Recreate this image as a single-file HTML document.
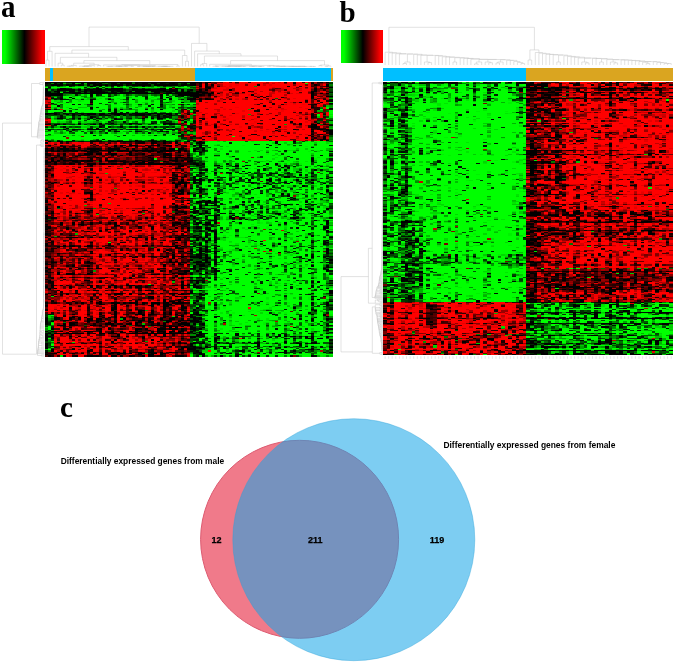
<!DOCTYPE html>
<html><head><meta charset="utf-8"><title>Figure</title>
<style>
html,body{margin:0;padding:0;background:#fff}
body{width:675px;height:665px;overflow:hidden;position:relative}
.lab{position:absolute;font-family:"Liberation Serif",serif;font-weight:bold;font-size:29px;line-height:29px;color:#000}
.cb{position:absolute;background:linear-gradient(to right,#00ff00 0%,#00ff00 7%,#000 52%,#ff0000 94%,#ff0000 100%)}
.bar{position:absolute}
.hm{position:absolute}
canvas{position:absolute;filter:blur(0.45px)}
svg{position:absolute;left:0;top:0}
.t{font-family:"Liberation Sans",sans-serif;font-weight:bold}
</style></head><body>
<div class="lab" style="left:1px;top:-9.3px;transform:scaleY(1.1);transform-origin:0 0">a</div>
<div class="lab" style="left:339.5px;top:-2px">b</div>
<div class="lab" style="left:60px;top:392.5px">c</div>
<div class="cb" style="left:2px;top:30px;width:42.5px;height:33.7px"></div>
<div class="cb" style="left:340.6px;top:29.7px;width:42.3px;height:33.4px"></div>
<div class="bar" style="left:44.7px;top:67.9px;width:150.5px;height:13.3px;background:#daa520"></div>
<div class="bar" style="left:49.6px;top:67.9px;width:3.6px;height:13.3px;background:#00bfff"></div>
<div class="bar" style="left:195.2px;top:67.9px;width:135.4px;height:13.3px;background:#00bfff"></div>
<div class="bar" style="left:330.6px;top:67.9px;width:2px;height:13.3px;background:#daa520"></div>
<div class="bar" style="left:383.4px;top:67.7px;width:143px;height:13.3px;background:#00bfff"></div>
<div class="bar" style="left:526.4px;top:67.7px;width:146.5px;height:13.3px;background:#daa520"></div>
<svg id="fb" width="675" height="665" viewBox="0 0 675 665" shape-rendering="crispEdges"><path fill="#050" d="M44.5 82.0h12.5v6.6h-12.5zM80.9 82.0h12.5v6.6h-12.5zM117.3 82.0h12.5v6.6h-12.5zM177.9 82.0h12.5v6.6h-12.5zM177.9 94.3h12.5v6.6h-12.5zM190.0 143.6h12.5v6.6h-12.5zM190.0 180.5h12.5v6.6h-12.5zM190.0 217.5h12.5v6.6h-12.5zM190.0 229.8h12.5v6.6h-12.5zM190.0 242.1h12.5v6.6h-12.5zM190.0 248.2h12.5v6.6h-12.5zM323.4 248.2h9.5v6.6h-9.5zM202.1 254.4h12.5v6.6h-12.5zM202.1 260.6h12.5v6.6h-12.5zM202.1 266.7h12.5v6.6h-12.5zM190.0 272.9h12.5v6.6h-12.5zM190.0 291.3h12.5v6.6h-12.5z"/><path fill="#060" d="M56.6 82.0h12.5v6.6h-12.5zM68.8 82.0h12.5v6.6h-12.5zM56.6 94.3h12.5v6.6h-12.5zM165.8 118.9h12.5v6.6h-12.5zM190.0 155.9h12.5v6.6h-12.5zM190.0 186.7h12.5v6.6h-12.5zM202.1 205.1h12.5v6.6h-12.5zM190.0 211.3h12.5v6.6h-12.5zM190.0 223.6h12.5v6.6h-12.5zM202.1 229.8h12.5v6.6h-12.5zM202.1 248.2h12.5v6.6h-12.5zM323.4 260.6h9.5v6.6h-9.5zM323.4 266.7h9.5v6.6h-9.5zM190.0 285.2h12.5v6.6h-12.5zM323.4 316.0h9.5v6.6h-9.5zM323.4 328.3h9.5v6.6h-9.5zM214.3 340.6h12.5v6.6h-12.5zM323.4 346.7h9.5v6.6h-9.5zM190.0 352.9h12.5v4.1h-12.5z"/><path fill="#040" d="M93.0 82.0h12.5v6.6h-12.5zM105.1 82.0h12.5v6.6h-12.5zM129.4 82.0h12.5v6.6h-12.5zM141.5 82.0h12.5v6.6h-12.5zM153.6 82.0h12.5v6.6h-12.5zM165.8 82.0h12.5v6.6h-12.5zM56.6 112.8h12.5v6.6h-12.5zM80.9 112.8h12.5v6.6h-12.5zM105.1 112.8h12.5v6.6h-12.5zM117.3 112.8h12.5v6.6h-12.5zM165.8 112.8h12.5v6.6h-12.5zM190.0 162.0h12.5v6.6h-12.5zM190.0 174.4h12.5v6.6h-12.5zM202.1 223.6h12.5v6.6h-12.5zM190.0 235.9h12.5v6.6h-12.5zM190.0 266.7h12.5v6.6h-12.5zM190.0 279.0h12.5v6.6h-12.5zM190.0 303.7h12.5v6.6h-12.5zM323.4 303.7h9.5v6.6h-9.5zM190.0 334.4h12.5v6.6h-12.5zM190.0 340.6h12.5v6.6h-12.5z"/><path fill="#210" d="M190.0 82.0h12.5v6.6h-12.5z"/><path fill="#500" d="M202.1 82.0h12.5v6.6h-12.5zM311.3 82.0h12.5v6.6h-12.5zM311.3 88.2h12.5v6.6h-12.5zM202.1 94.3h12.5v6.6h-12.5zM311.3 125.1h12.5v6.6h-12.5zM141.5 143.6h12.5v6.6h-12.5zM68.8 149.7h12.5v6.6h-12.5zM117.3 149.7h12.5v6.6h-12.5zM105.1 155.9h12.5v6.6h-12.5zM117.3 155.9h12.5v6.6h-12.5zM129.4 155.9h12.5v6.6h-12.5zM177.9 186.7h12.5v6.6h-12.5zM177.9 248.2h12.5v6.6h-12.5zM177.9 254.4h12.5v6.6h-12.5zM80.9 260.6h12.5v6.6h-12.5zM177.9 260.6h12.5v6.6h-12.5zM177.9 272.9h12.5v6.6h-12.5zM44.5 285.2h12.5v6.6h-12.5zM141.5 309.8h12.5v6.6h-12.5zM68.8 316.0h12.5v6.6h-12.5zM93.0 316.0h12.5v6.6h-12.5zM105.1 316.0h12.5v6.6h-12.5zM129.4 316.0h12.5v6.6h-12.5zM177.9 316.0h12.5v6.6h-12.5zM68.8 322.1h12.5v6.6h-12.5zM93.0 322.1h12.5v6.6h-12.5zM105.1 322.1h12.5v6.6h-12.5zM177.9 322.1h12.5v6.6h-12.5zM105.1 328.3h12.5v6.6h-12.5zM165.8 328.3h12.5v6.6h-12.5zM177.9 340.6h12.5v6.6h-12.5zM129.4 352.9h12.5v4.1h-12.5zM153.6 352.9h12.5v4.1h-12.5z"/><path fill="#b00" d="M214.3 82.0h12.5v6.6h-12.5zM226.4 88.2h12.5v6.6h-12.5zM250.6 94.3h12.5v6.6h-12.5zM141.5 180.5h12.5v6.6h-12.5zM80.9 199.0h12.5v6.6h-12.5zM141.5 205.1h12.5v6.6h-12.5zM117.3 211.3h12.5v6.6h-12.5zM93.0 229.8h12.5v6.6h-12.5zM141.5 229.8h12.5v6.6h-12.5zM105.1 235.9h12.5v6.6h-12.5zM117.3 235.9h12.5v6.6h-12.5zM153.6 235.9h12.5v6.6h-12.5zM93.0 242.1h12.5v6.6h-12.5zM129.4 242.1h12.5v6.6h-12.5zM153.6 248.2h12.5v6.6h-12.5zM93.0 254.4h12.5v6.6h-12.5zM117.3 254.4h12.5v6.6h-12.5zM93.0 260.6h12.5v6.6h-12.5zM105.1 260.6h12.5v6.6h-12.5zM93.0 266.7h12.5v6.6h-12.5zM105.1 266.7h12.5v6.6h-12.5zM117.3 266.7h12.5v6.6h-12.5zM56.6 285.2h12.5v6.6h-12.5zM80.9 291.3h12.5v6.6h-12.5zM56.6 297.5h12.5v6.6h-12.5zM44.5 303.7h12.5v6.6h-12.5zM80.9 303.7h12.5v6.6h-12.5zM56.6 309.8h12.5v6.6h-12.5zM56.6 340.6h12.5v6.6h-12.5zM80.9 340.6h12.5v6.6h-12.5zM141.5 340.6h12.5v6.6h-12.5zM68.8 346.7h12.5v6.6h-12.5z"/><path fill="#d00" d="M226.4 82.0h12.5v6.6h-12.5zM250.6 82.0h12.5v6.6h-12.5zM214.3 88.2h12.5v6.6h-12.5zM238.5 88.2h12.5v6.6h-12.5zM262.8 88.2h12.5v6.6h-12.5zM287.0 88.2h12.5v6.6h-12.5zM299.2 88.2h12.5v6.6h-12.5zM214.3 94.3h12.5v6.6h-12.5zM238.5 94.3h12.5v6.6h-12.5zM274.9 100.5h12.5v6.6h-12.5zM299.2 106.6h12.5v6.6h-12.5zM250.6 112.8h12.5v6.6h-12.5zM274.9 112.8h12.5v6.6h-12.5zM202.1 118.9h12.5v6.6h-12.5zM238.5 118.9h12.5v6.6h-12.5zM250.6 118.9h12.5v6.6h-12.5zM299.2 118.9h12.5v6.6h-12.5zM226.4 125.1h12.5v6.6h-12.5zM250.6 125.1h12.5v6.6h-12.5zM287.0 125.1h12.5v6.6h-12.5zM299.2 125.1h12.5v6.6h-12.5zM214.3 131.3h12.5v6.6h-12.5zM250.6 131.3h12.5v6.6h-12.5zM262.8 131.3h12.5v6.6h-12.5zM274.9 131.3h12.5v6.6h-12.5zM56.6 168.2h12.5v6.6h-12.5zM68.8 168.2h12.5v6.6h-12.5zM93.0 168.2h12.5v6.6h-12.5zM117.3 168.2h12.5v6.6h-12.5zM129.4 168.2h12.5v6.6h-12.5zM153.6 168.2h12.5v6.6h-12.5zM93.0 174.4h12.5v6.6h-12.5zM105.1 174.4h12.5v6.6h-12.5zM129.4 174.4h12.5v6.6h-12.5zM141.5 174.4h12.5v6.6h-12.5zM153.6 174.4h12.5v6.6h-12.5zM68.8 180.5h12.5v6.6h-12.5zM153.6 180.5h12.5v6.6h-12.5zM105.1 186.7h12.5v6.6h-12.5zM129.4 186.7h12.5v6.6h-12.5zM141.5 186.7h12.5v6.6h-12.5zM153.6 186.7h12.5v6.6h-12.5zM56.6 192.8h12.5v6.6h-12.5zM105.1 192.8h12.5v6.6h-12.5zM129.4 192.8h12.5v6.6h-12.5zM153.6 192.8h12.5v6.6h-12.5zM93.0 199.0h12.5v6.6h-12.5zM68.8 205.1h12.5v6.6h-12.5zM129.4 205.1h12.5v6.6h-12.5zM153.6 205.1h12.5v6.6h-12.5zM56.6 211.3h12.5v6.6h-12.5zM129.4 211.3h12.5v6.6h-12.5zM56.6 279.0h12.5v6.6h-12.5zM93.0 279.0h12.5v6.6h-12.5zM129.4 279.0h12.5v6.6h-12.5z"/><path fill="#e00" d="M238.5 82.0h12.5v6.6h-12.5zM262.8 82.0h12.5v6.6h-12.5zM274.9 82.0h12.5v6.6h-12.5zM250.6 88.2h12.5v6.6h-12.5zM287.0 94.3h12.5v6.6h-12.5zM214.3 100.5h12.5v6.6h-12.5zM226.4 100.5h12.5v6.6h-12.5zM250.6 100.5h12.5v6.6h-12.5zM287.0 100.5h12.5v6.6h-12.5zM214.3 106.6h12.5v6.6h-12.5zM238.5 106.6h12.5v6.6h-12.5zM262.8 106.6h12.5v6.6h-12.5zM274.9 106.6h12.5v6.6h-12.5zM287.0 106.6h12.5v6.6h-12.5zM226.4 112.8h12.5v6.6h-12.5zM238.5 112.8h12.5v6.6h-12.5zM262.8 112.8h12.5v6.6h-12.5zM287.0 112.8h12.5v6.6h-12.5zM226.4 118.9h12.5v6.6h-12.5zM262.8 118.9h12.5v6.6h-12.5zM238.5 125.1h12.5v6.6h-12.5zM238.5 131.3h12.5v6.6h-12.5zM287.0 131.3h12.5v6.6h-12.5zM299.2 131.3h12.5v6.6h-12.5zM141.5 168.2h12.5v6.6h-12.5zM56.6 174.4h12.5v6.6h-12.5zM68.8 174.4h12.5v6.6h-12.5zM93.0 180.5h12.5v6.6h-12.5zM117.3 180.5h12.5v6.6h-12.5zM68.8 186.7h12.5v6.6h-12.5zM93.0 186.7h12.5v6.6h-12.5zM117.3 186.7h12.5v6.6h-12.5zM68.8 192.8h12.5v6.6h-12.5zM93.0 192.8h12.5v6.6h-12.5zM117.3 192.8h12.5v6.6h-12.5zM141.5 192.8h12.5v6.6h-12.5zM56.6 199.0h12.5v6.6h-12.5zM117.3 199.0h12.5v6.6h-12.5zM141.5 199.0h12.5v6.6h-12.5zM105.1 205.1h12.5v6.6h-12.5zM117.3 205.1h12.5v6.6h-12.5zM105.1 211.3h12.5v6.6h-12.5zM56.6 303.7h12.5v6.6h-12.5z"/><path fill="#c00" d="M287.0 82.0h12.5v6.6h-12.5zM274.9 88.2h12.5v6.6h-12.5zM226.4 94.3h12.5v6.6h-12.5zM262.8 94.3h12.5v6.6h-12.5zM274.9 94.3h12.5v6.6h-12.5zM262.8 100.5h12.5v6.6h-12.5zM299.2 100.5h12.5v6.6h-12.5zM250.6 106.6h12.5v6.6h-12.5zM202.1 112.8h12.5v6.6h-12.5zM214.3 112.8h12.5v6.6h-12.5zM299.2 112.8h12.5v6.6h-12.5zM214.3 118.9h12.5v6.6h-12.5zM274.9 118.9h12.5v6.6h-12.5zM287.0 118.9h12.5v6.6h-12.5zM214.3 125.1h12.5v6.6h-12.5zM274.9 125.1h12.5v6.6h-12.5zM202.1 131.3h12.5v6.6h-12.5zM117.3 174.4h12.5v6.6h-12.5zM56.6 180.5h12.5v6.6h-12.5zM105.1 180.5h12.5v6.6h-12.5zM129.4 180.5h12.5v6.6h-12.5zM165.8 199.0h12.5v6.6h-12.5zM56.6 205.1h12.5v6.6h-12.5zM153.6 211.3h12.5v6.6h-12.5zM153.6 217.5h12.5v6.6h-12.5zM93.0 223.6h12.5v6.6h-12.5zM117.3 229.8h12.5v6.6h-12.5zM93.0 235.9h12.5v6.6h-12.5zM93.0 248.2h12.5v6.6h-12.5zM117.3 260.6h12.5v6.6h-12.5zM141.5 260.6h12.5v6.6h-12.5zM129.4 266.7h12.5v6.6h-12.5zM117.3 272.9h12.5v6.6h-12.5zM117.3 279.0h12.5v6.6h-12.5zM56.6 334.4h12.5v6.6h-12.5zM80.9 334.4h12.5v6.6h-12.5zM129.4 334.4h12.5v6.6h-12.5zM117.3 340.6h12.5v6.6h-12.5zM129.4 340.6h12.5v6.6h-12.5zM117.3 346.7h12.5v6.6h-12.5z"/><path fill="#c10" d="M299.2 82.0h12.5v6.6h-12.5zM93.0 205.1h12.5v6.6h-12.5zM93.0 211.3h12.5v6.6h-12.5z"/><path fill="#410" d="M323.4 82.0h9.5v6.6h-9.5zM323.4 88.2h9.5v6.6h-9.5zM153.6 155.9h12.5v6.6h-12.5z"/><path fill="#030" d="M44.5 88.2h12.5v6.6h-12.5zM177.9 88.2h12.5v6.6h-12.5zM68.8 112.8h12.5v6.6h-12.5zM93.0 112.8h12.5v6.6h-12.5zM129.4 112.8h12.5v6.6h-12.5zM141.5 112.8h12.5v6.6h-12.5zM323.4 254.4h9.5v6.6h-9.5zM190.0 260.6h12.5v6.6h-12.5zM190.0 309.8h12.5v6.6h-12.5zM190.0 322.1h12.5v6.6h-12.5zM190.0 328.3h12.5v6.6h-12.5z"/><path fill="#020" d="M56.6 88.2h12.5v6.6h-12.5zM68.8 88.2h12.5v6.6h-12.5zM80.9 88.2h12.5v6.6h-12.5zM117.3 88.2h12.5v6.6h-12.5zM141.5 88.2h12.5v6.6h-12.5zM153.6 112.8h12.5v6.6h-12.5z"/><path fill="#010" d="M93.0 88.2h12.5v6.6h-12.5zM105.1 88.2h12.5v6.6h-12.5zM129.4 88.2h12.5v6.6h-12.5zM153.6 88.2h12.5v6.6h-12.5zM165.8 88.2h12.5v6.6h-12.5zM190.0 254.4h12.5v6.6h-12.5zM190.0 316.0h12.5v6.6h-12.5zM190.0 346.7h12.5v6.6h-12.5z"/><path fill="#110" d="M190.0 88.2h12.5v6.6h-12.5z"/><path fill="#400" d="M202.1 88.2h12.5v6.6h-12.5zM153.6 143.6h12.5v6.6h-12.5zM44.5 149.7h12.5v6.6h-12.5zM56.6 149.7h12.5v6.6h-12.5zM93.0 149.7h12.5v6.6h-12.5zM165.8 149.7h12.5v6.6h-12.5zM177.9 149.7h12.5v6.6h-12.5zM68.8 155.9h12.5v6.6h-12.5zM80.9 155.9h12.5v6.6h-12.5zM177.9 162.0h12.5v6.6h-12.5zM177.9 180.5h12.5v6.6h-12.5zM44.5 217.5h12.5v6.6h-12.5zM177.9 217.5h12.5v6.6h-12.5zM177.9 223.6h12.5v6.6h-12.5zM177.9 235.9h12.5v6.6h-12.5zM44.5 242.1h12.5v6.6h-12.5zM44.5 248.2h12.5v6.6h-12.5zM177.9 266.7h12.5v6.6h-12.5zM141.5 316.0h12.5v6.6h-12.5zM153.6 322.1h12.5v6.6h-12.5zM165.8 322.1h12.5v6.6h-12.5zM129.4 328.3h12.5v6.6h-12.5zM141.5 328.3h12.5v6.6h-12.5zM177.9 328.3h12.5v6.6h-12.5zM117.3 352.9h12.5v4.1h-12.5z"/><path fill="#320" d="M44.5 94.3h12.5v6.6h-12.5zM311.3 106.6h12.5v6.6h-12.5zM323.4 125.1h9.5v6.6h-9.5zM44.5 334.4h12.5v6.6h-12.5z"/><path fill="#0b0" d="M68.8 94.3h12.5v6.6h-12.5zM93.0 94.3h12.5v6.6h-12.5zM117.3 94.3h12.5v6.6h-12.5zM80.9 100.5h12.5v6.6h-12.5zM117.3 106.6h12.5v6.6h-12.5zM141.5 106.6h12.5v6.6h-12.5zM93.0 131.3h12.5v6.6h-12.5zM202.1 143.6h12.5v6.6h-12.5zM202.1 149.7h12.5v6.6h-12.5zM323.4 149.7h9.5v6.6h-9.5zM311.3 155.9h12.5v6.6h-12.5zM323.4 155.9h9.5v6.6h-9.5zM311.3 162.0h12.5v6.6h-12.5zM238.5 168.2h12.5v6.6h-12.5zM323.4 168.2h9.5v6.6h-9.5zM226.4 174.4h12.5v6.6h-12.5zM238.5 180.5h12.5v6.6h-12.5zM287.0 180.5h12.5v6.6h-12.5zM202.1 186.7h12.5v6.6h-12.5zM262.8 186.7h12.5v6.6h-12.5zM287.0 186.7h12.5v6.6h-12.5zM311.3 186.7h12.5v6.6h-12.5zM202.1 192.8h12.5v6.6h-12.5zM274.9 192.8h12.5v6.6h-12.5zM311.3 192.8h12.5v6.6h-12.5zM238.5 199.0h12.5v6.6h-12.5zM250.6 199.0h12.5v6.6h-12.5zM299.2 199.0h12.5v6.6h-12.5zM311.3 199.0h12.5v6.6h-12.5zM226.4 205.1h12.5v6.6h-12.5zM238.5 205.1h12.5v6.6h-12.5zM262.8 205.1h12.5v6.6h-12.5zM274.9 205.1h12.5v6.6h-12.5zM287.0 205.1h12.5v6.6h-12.5zM311.3 205.1h12.5v6.6h-12.5zM214.3 223.6h12.5v6.6h-12.5zM311.3 223.6h12.5v6.6h-12.5zM214.3 242.1h12.5v6.6h-12.5zM311.3 242.1h12.5v6.6h-12.5zM311.3 254.4h12.5v6.6h-12.5zM226.4 260.6h12.5v6.6h-12.5zM214.3 272.9h12.5v6.6h-12.5zM202.1 291.3h12.5v6.6h-12.5zM311.3 297.5h12.5v6.6h-12.5zM311.3 316.0h12.5v6.6h-12.5zM202.1 322.1h12.5v6.6h-12.5zM250.6 334.4h12.5v6.6h-12.5zM262.8 334.4h12.5v6.6h-12.5zM262.8 340.6h12.5v6.6h-12.5zM226.4 346.7h12.5v6.6h-12.5zM323.4 352.9h9.5v4.1h-9.5z"/><path fill="#090" d="M80.9 94.3h12.5v6.6h-12.5zM153.6 94.3h12.5v6.6h-12.5zM165.8 94.3h12.5v6.6h-12.5zM105.1 106.6h12.5v6.6h-12.5zM80.9 118.9h12.5v6.6h-12.5zM129.4 118.9h12.5v6.6h-12.5zM141.5 118.9h12.5v6.6h-12.5zM153.6 118.9h12.5v6.6h-12.5zM56.6 125.1h12.5v6.6h-12.5zM117.3 125.1h12.5v6.6h-12.5zM129.4 125.1h12.5v6.6h-12.5zM226.4 162.0h12.5v6.6h-12.5zM311.3 168.2h12.5v6.6h-12.5zM274.9 174.4h12.5v6.6h-12.5zM299.2 174.4h12.5v6.6h-12.5zM311.3 174.4h12.5v6.6h-12.5zM274.9 180.5h12.5v6.6h-12.5zM299.2 180.5h12.5v6.6h-12.5zM214.3 186.7h12.5v6.6h-12.5zM214.3 192.8h12.5v6.6h-12.5zM287.0 199.0h12.5v6.6h-12.5zM250.6 211.3h12.5v6.6h-12.5zM287.0 211.3h12.5v6.6h-12.5zM311.3 211.3h12.5v6.6h-12.5zM323.4 229.8h9.5v6.6h-9.5zM214.3 235.9h12.5v6.6h-12.5zM214.3 248.2h12.5v6.6h-12.5zM323.4 272.9h9.5v6.6h-9.5zM311.3 285.2h12.5v6.6h-12.5zM311.3 303.7h12.5v6.6h-12.5zM299.2 334.4h12.5v6.6h-12.5zM311.3 334.4h12.5v6.6h-12.5zM238.5 340.6h12.5v6.6h-12.5zM299.2 340.6h12.5v6.6h-12.5zM238.5 346.7h12.5v6.6h-12.5zM214.3 352.9h12.5v4.1h-12.5z"/><path fill="#0a0" d="M105.1 94.3h12.5v6.6h-12.5zM141.5 94.3h12.5v6.6h-12.5zM153.6 100.5h12.5v6.6h-12.5zM177.9 100.5h12.5v6.6h-12.5zM153.6 106.6h12.5v6.6h-12.5zM80.9 125.1h12.5v6.6h-12.5zM153.6 131.3h12.5v6.6h-12.5zM214.3 162.0h12.5v6.6h-12.5zM274.9 162.0h12.5v6.6h-12.5zM287.0 162.0h12.5v6.6h-12.5zM202.1 168.2h12.5v6.6h-12.5zM250.6 168.2h12.5v6.6h-12.5zM262.8 168.2h12.5v6.6h-12.5zM274.9 168.2h12.5v6.6h-12.5zM287.0 168.2h12.5v6.6h-12.5zM202.1 174.4h12.5v6.6h-12.5zM214.3 174.4h12.5v6.6h-12.5zM238.5 174.4h12.5v6.6h-12.5zM262.8 174.4h12.5v6.6h-12.5zM323.4 174.4h9.5v6.6h-9.5zM226.4 180.5h12.5v6.6h-12.5zM250.6 180.5h12.5v6.6h-12.5zM311.3 180.5h12.5v6.6h-12.5zM250.6 186.7h12.5v6.6h-12.5zM274.9 186.7h12.5v6.6h-12.5zM323.4 186.7h9.5v6.6h-9.5zM238.5 192.8h12.5v6.6h-12.5zM250.6 205.1h12.5v6.6h-12.5zM226.4 211.3h12.5v6.6h-12.5zM238.5 211.3h12.5v6.6h-12.5zM262.8 211.3h12.5v6.6h-12.5zM274.9 211.3h12.5v6.6h-12.5zM226.4 217.5h12.5v6.6h-12.5zM238.5 217.5h12.5v6.6h-12.5zM287.0 217.5h12.5v6.6h-12.5zM214.3 229.8h12.5v6.6h-12.5zM287.0 248.2h12.5v6.6h-12.5zM299.2 254.4h12.5v6.6h-12.5zM214.3 260.6h12.5v6.6h-12.5zM214.3 266.7h12.5v6.6h-12.5zM202.1 279.0h12.5v6.6h-12.5zM323.4 285.2h9.5v6.6h-9.5zM214.3 303.7h12.5v6.6h-12.5zM202.1 309.8h12.5v6.6h-12.5zM311.3 309.8h12.5v6.6h-12.5zM214.3 316.0h12.5v6.6h-12.5zM202.1 334.4h12.5v6.6h-12.5zM226.4 334.4h12.5v6.6h-12.5zM323.4 334.4h9.5v6.6h-9.5zM274.9 340.6h12.5v6.6h-12.5zM287.0 340.6h12.5v6.6h-12.5zM202.1 352.9h12.5v4.1h-12.5zM238.5 352.9h12.5v4.1h-12.5zM311.3 352.9h12.5v4.1h-12.5z"/><path fill="#0c0" d="M129.4 94.3h12.5v6.6h-12.5zM56.6 100.5h12.5v6.6h-12.5zM105.1 100.5h12.5v6.6h-12.5zM117.3 100.5h12.5v6.6h-12.5zM141.5 100.5h12.5v6.6h-12.5zM68.8 106.6h12.5v6.6h-12.5zM80.9 106.6h12.5v6.6h-12.5zM129.4 106.6h12.5v6.6h-12.5zM68.8 131.3h12.5v6.6h-12.5zM80.9 131.3h12.5v6.6h-12.5zM105.1 131.3h12.5v6.6h-12.5zM117.3 131.3h12.5v6.6h-12.5zM129.4 131.3h12.5v6.6h-12.5zM141.5 131.3h12.5v6.6h-12.5zM165.8 131.3h12.5v6.6h-12.5zM274.9 149.7h12.5v6.6h-12.5zM226.4 155.9h12.5v6.6h-12.5zM250.6 155.9h12.5v6.6h-12.5zM202.1 162.0h12.5v6.6h-12.5zM238.5 162.0h12.5v6.6h-12.5zM323.4 162.0h9.5v6.6h-9.5zM299.2 168.2h12.5v6.6h-12.5zM238.5 186.7h12.5v6.6h-12.5zM262.8 192.8h12.5v6.6h-12.5zM299.2 192.8h12.5v6.6h-12.5zM262.8 199.0h12.5v6.6h-12.5zM274.9 199.0h12.5v6.6h-12.5zM323.4 199.0h9.5v6.6h-9.5zM250.6 217.5h12.5v6.6h-12.5zM262.8 217.5h12.5v6.6h-12.5zM311.3 217.5h12.5v6.6h-12.5zM274.9 223.6h12.5v6.6h-12.5zM274.9 235.9h12.5v6.6h-12.5zM311.3 235.9h12.5v6.6h-12.5zM262.8 242.1h12.5v6.6h-12.5zM274.9 242.1h12.5v6.6h-12.5zM299.2 242.1h12.5v6.6h-12.5zM311.3 248.2h12.5v6.6h-12.5zM250.6 254.4h12.5v6.6h-12.5zM262.8 260.6h12.5v6.6h-12.5zM274.9 260.6h12.5v6.6h-12.5zM287.0 260.6h12.5v6.6h-12.5zM311.3 260.6h12.5v6.6h-12.5zM226.4 266.7h12.5v6.6h-12.5zM274.9 266.7h12.5v6.6h-12.5zM299.2 266.7h12.5v6.6h-12.5zM311.3 266.7h12.5v6.6h-12.5zM250.6 272.9h12.5v6.6h-12.5zM287.0 272.9h12.5v6.6h-12.5zM250.6 279.0h12.5v6.6h-12.5zM299.2 279.0h12.5v6.6h-12.5zM311.3 279.0h12.5v6.6h-12.5zM202.1 285.2h12.5v6.6h-12.5zM214.3 285.2h12.5v6.6h-12.5zM274.9 285.2h12.5v6.6h-12.5zM214.3 291.3h12.5v6.6h-12.5zM226.4 291.3h12.5v6.6h-12.5zM311.3 291.3h12.5v6.6h-12.5zM214.3 297.5h12.5v6.6h-12.5zM202.1 303.7h12.5v6.6h-12.5zM287.0 303.7h12.5v6.6h-12.5zM262.8 309.8h12.5v6.6h-12.5zM299.2 309.8h12.5v6.6h-12.5zM299.2 316.0h12.5v6.6h-12.5zM274.9 322.1h12.5v6.6h-12.5zM311.3 322.1h12.5v6.6h-12.5zM202.1 328.3h12.5v6.6h-12.5zM214.3 328.3h12.5v6.6h-12.5zM274.9 328.3h12.5v6.6h-12.5zM287.0 328.3h12.5v6.6h-12.5zM299.2 328.3h12.5v6.6h-12.5zM311.3 328.3h12.5v6.6h-12.5zM262.8 346.7h12.5v6.6h-12.5zM250.6 352.9h12.5v4.1h-12.5zM262.8 352.9h12.5v4.1h-12.5zM274.9 352.9h12.5v4.1h-12.5z"/><path fill="#100" d="M190.0 94.3h12.5v6.6h-12.5z"/><path fill="#f00" d="M299.2 94.3h12.5v6.6h-12.5zM202.1 100.5h12.5v6.6h-12.5zM238.5 100.5h12.5v6.6h-12.5zM202.1 106.6h12.5v6.6h-12.5zM226.4 106.6h12.5v6.6h-12.5zM202.1 125.1h12.5v6.6h-12.5zM262.8 125.1h12.5v6.6h-12.5zM56.6 186.7h12.5v6.6h-12.5zM68.8 199.0h12.5v6.6h-12.5zM129.4 199.0h12.5v6.6h-12.5zM153.6 199.0h12.5v6.6h-12.5z"/><path fill="#700" d="M311.3 94.3h12.5v6.6h-12.5zM190.0 125.1h12.5v6.6h-12.5zM44.5 143.6h12.5v6.6h-12.5zM68.8 143.6h12.5v6.6h-12.5zM93.0 143.6h12.5v6.6h-12.5zM117.3 143.6h12.5v6.6h-12.5zM177.9 143.6h12.5v6.6h-12.5zM80.9 162.0h12.5v6.6h-12.5zM165.8 162.0h12.5v6.6h-12.5zM44.5 168.2h12.5v6.6h-12.5zM165.8 174.4h12.5v6.6h-12.5zM177.9 174.4h12.5v6.6h-12.5zM44.5 186.7h12.5v6.6h-12.5zM177.9 192.8h12.5v6.6h-12.5zM165.8 205.1h12.5v6.6h-12.5zM177.9 205.1h12.5v6.6h-12.5zM165.8 211.3h12.5v6.6h-12.5zM80.9 217.5h12.5v6.6h-12.5zM165.8 217.5h12.5v6.6h-12.5zM56.6 223.6h12.5v6.6h-12.5zM165.8 223.6h12.5v6.6h-12.5zM177.9 229.8h12.5v6.6h-12.5zM165.8 235.9h12.5v6.6h-12.5zM165.8 242.1h12.5v6.6h-12.5zM68.8 248.2h12.5v6.6h-12.5zM80.9 248.2h12.5v6.6h-12.5zM68.8 254.4h12.5v6.6h-12.5zM68.8 260.6h12.5v6.6h-12.5zM80.9 266.7h12.5v6.6h-12.5zM44.5 272.9h12.5v6.6h-12.5zM68.8 272.9h12.5v6.6h-12.5zM165.8 272.9h12.5v6.6h-12.5zM165.8 285.2h12.5v6.6h-12.5zM177.9 285.2h12.5v6.6h-12.5zM141.5 291.3h12.5v6.6h-12.5zM165.8 291.3h12.5v6.6h-12.5zM177.9 291.3h12.5v6.6h-12.5zM165.8 303.7h12.5v6.6h-12.5zM129.4 309.8h12.5v6.6h-12.5zM153.6 309.8h12.5v6.6h-12.5zM177.9 309.8h12.5v6.6h-12.5zM80.9 316.0h12.5v6.6h-12.5zM80.9 322.1h12.5v6.6h-12.5zM117.3 322.1h12.5v6.6h-12.5zM56.6 328.3h12.5v6.6h-12.5zM93.0 328.3h12.5v6.6h-12.5zM177.9 334.4h12.5v6.6h-12.5zM141.5 346.7h12.5v6.6h-12.5zM68.8 352.9h12.5v4.1h-12.5zM80.9 352.9h12.5v4.1h-12.5zM93.0 352.9h12.5v4.1h-12.5zM177.9 352.9h12.5v4.1h-12.5z"/><path fill="#510" d="M323.4 94.3h9.5v6.6h-9.5zM44.5 291.3h12.5v6.6h-12.5zM141.5 322.1h12.5v6.6h-12.5z"/><path fill="#560" d="M44.5 100.5h12.5v6.6h-12.5z"/><path fill="#0d0" d="M68.8 100.5h12.5v6.6h-12.5zM129.4 100.5h12.5v6.6h-12.5zM165.8 100.5h12.5v6.6h-12.5zM93.0 106.6h12.5v6.6h-12.5zM165.8 106.6h12.5v6.6h-12.5zM44.5 131.3h12.5v6.6h-12.5zM56.6 131.3h12.5v6.6h-12.5zM262.8 143.6h12.5v6.6h-12.5zM274.9 143.6h12.5v6.6h-12.5zM311.3 143.6h12.5v6.6h-12.5zM214.3 149.7h12.5v6.6h-12.5zM226.4 149.7h12.5v6.6h-12.5zM287.0 149.7h12.5v6.6h-12.5zM311.3 149.7h12.5v6.6h-12.5zM202.1 155.9h12.5v6.6h-12.5zM274.9 155.9h12.5v6.6h-12.5zM287.0 155.9h12.5v6.6h-12.5zM250.6 162.0h12.5v6.6h-12.5zM262.8 162.0h12.5v6.6h-12.5zM299.2 162.0h12.5v6.6h-12.5zM202.1 180.5h12.5v6.6h-12.5zM226.4 186.7h12.5v6.6h-12.5zM299.2 186.7h12.5v6.6h-12.5zM226.4 192.8h12.5v6.6h-12.5zM250.6 192.8h12.5v6.6h-12.5zM299.2 211.3h12.5v6.6h-12.5zM323.4 211.3h9.5v6.6h-9.5zM274.9 217.5h12.5v6.6h-12.5zM299.2 217.5h12.5v6.6h-12.5zM226.4 223.6h12.5v6.6h-12.5zM250.6 223.6h12.5v6.6h-12.5zM287.0 223.6h12.5v6.6h-12.5zM299.2 223.6h12.5v6.6h-12.5zM226.4 229.8h12.5v6.6h-12.5zM250.6 229.8h12.5v6.6h-12.5zM299.2 229.8h12.5v6.6h-12.5zM311.3 229.8h12.5v6.6h-12.5zM238.5 235.9h12.5v6.6h-12.5zM250.6 235.9h12.5v6.6h-12.5zM287.0 235.9h12.5v6.6h-12.5zM299.2 235.9h12.5v6.6h-12.5zM250.6 242.1h12.5v6.6h-12.5zM287.0 242.1h12.5v6.6h-12.5zM226.4 248.2h12.5v6.6h-12.5zM287.0 254.4h12.5v6.6h-12.5zM250.6 260.6h12.5v6.6h-12.5zM299.2 260.6h12.5v6.6h-12.5zM262.8 266.7h12.5v6.6h-12.5zM287.0 266.7h12.5v6.6h-12.5zM226.4 272.9h12.5v6.6h-12.5zM299.2 272.9h12.5v6.6h-12.5zM311.3 272.9h12.5v6.6h-12.5zM214.3 279.0h12.5v6.6h-12.5zM262.8 279.0h12.5v6.6h-12.5zM274.9 279.0h12.5v6.6h-12.5zM287.0 279.0h12.5v6.6h-12.5zM250.6 285.2h12.5v6.6h-12.5zM287.0 285.2h12.5v6.6h-12.5zM299.2 285.2h12.5v6.6h-12.5zM250.6 291.3h12.5v6.6h-12.5zM262.8 291.3h12.5v6.6h-12.5zM274.9 291.3h12.5v6.6h-12.5zM299.2 291.3h12.5v6.6h-12.5zM226.4 297.5h12.5v6.6h-12.5zM250.6 297.5h12.5v6.6h-12.5zM274.9 297.5h12.5v6.6h-12.5zM299.2 297.5h12.5v6.6h-12.5zM274.9 303.7h12.5v6.6h-12.5zM299.2 303.7h12.5v6.6h-12.5zM274.9 309.8h12.5v6.6h-12.5zM287.0 309.8h12.5v6.6h-12.5zM202.1 316.0h12.5v6.6h-12.5zM287.0 316.0h12.5v6.6h-12.5zM226.4 322.1h12.5v6.6h-12.5zM238.5 322.1h12.5v6.6h-12.5zM262.8 322.1h12.5v6.6h-12.5zM299.2 322.1h12.5v6.6h-12.5zM226.4 328.3h12.5v6.6h-12.5zM238.5 328.3h12.5v6.6h-12.5zM262.8 328.3h12.5v6.6h-12.5z"/><path fill="#0e0" d="M93.0 100.5h12.5v6.6h-12.5zM214.3 143.6h12.5v6.6h-12.5zM250.6 143.6h12.5v6.6h-12.5zM287.0 143.6h12.5v6.6h-12.5zM299.2 143.6h12.5v6.6h-12.5zM323.4 143.6h9.5v6.6h-9.5zM262.8 149.7h12.5v6.6h-12.5zM214.3 155.9h12.5v6.6h-12.5zM238.5 155.9h12.5v6.6h-12.5zM262.8 155.9h12.5v6.6h-12.5zM226.4 199.0h12.5v6.6h-12.5zM238.5 223.6h12.5v6.6h-12.5zM262.8 229.8h12.5v6.6h-12.5zM287.0 229.8h12.5v6.6h-12.5zM226.4 235.9h12.5v6.6h-12.5zM226.4 242.1h12.5v6.6h-12.5zM238.5 248.2h12.5v6.6h-12.5zM299.2 248.2h12.5v6.6h-12.5zM226.4 254.4h12.5v6.6h-12.5zM238.5 254.4h12.5v6.6h-12.5zM262.8 254.4h12.5v6.6h-12.5zM274.9 254.4h12.5v6.6h-12.5zM238.5 260.6h12.5v6.6h-12.5zM238.5 266.7h12.5v6.6h-12.5zM250.6 266.7h12.5v6.6h-12.5zM238.5 272.9h12.5v6.6h-12.5zM262.8 272.9h12.5v6.6h-12.5zM274.9 272.9h12.5v6.6h-12.5zM226.4 279.0h12.5v6.6h-12.5zM226.4 285.2h12.5v6.6h-12.5zM262.8 285.2h12.5v6.6h-12.5zM238.5 291.3h12.5v6.6h-12.5zM250.6 303.7h12.5v6.6h-12.5zM262.8 303.7h12.5v6.6h-12.5zM214.3 309.8h12.5v6.6h-12.5zM226.4 309.8h12.5v6.6h-12.5zM238.5 309.8h12.5v6.6h-12.5zM226.4 316.0h12.5v6.6h-12.5zM250.6 316.0h12.5v6.6h-12.5zM262.8 316.0h12.5v6.6h-12.5zM250.6 322.1h12.5v6.6h-12.5zM250.6 328.3h12.5v6.6h-12.5zM299.2 352.9h12.5v4.1h-12.5z"/><path fill="#650" d="M190.0 100.5h12.5v6.6h-12.5z"/><path fill="#900" d="M311.3 100.5h12.5v6.6h-12.5zM93.0 162.0h12.5v6.6h-12.5zM105.1 162.0h12.5v6.6h-12.5zM117.3 162.0h12.5v6.6h-12.5zM153.6 162.0h12.5v6.6h-12.5zM80.9 168.2h12.5v6.6h-12.5zM165.8 168.2h12.5v6.6h-12.5zM80.9 174.4h12.5v6.6h-12.5zM80.9 186.7h12.5v6.6h-12.5zM165.8 192.8h12.5v6.6h-12.5zM177.9 199.0h12.5v6.6h-12.5zM68.8 211.3h12.5v6.6h-12.5zM93.0 217.5h12.5v6.6h-12.5zM105.1 217.5h12.5v6.6h-12.5zM117.3 223.6h12.5v6.6h-12.5zM141.5 223.6h12.5v6.6h-12.5zM56.6 229.8h12.5v6.6h-12.5zM68.8 235.9h12.5v6.6h-12.5zM80.9 235.9h12.5v6.6h-12.5zM129.4 235.9h12.5v6.6h-12.5zM56.6 248.2h12.5v6.6h-12.5zM105.1 248.2h12.5v6.6h-12.5zM141.5 248.2h12.5v6.6h-12.5zM129.4 254.4h12.5v6.6h-12.5zM141.5 254.4h12.5v6.6h-12.5zM153.6 260.6h12.5v6.6h-12.5zM141.5 266.7h12.5v6.6h-12.5zM153.6 266.7h12.5v6.6h-12.5zM93.0 272.9h12.5v6.6h-12.5zM141.5 272.9h12.5v6.6h-12.5zM177.9 279.0h12.5v6.6h-12.5zM68.8 285.2h12.5v6.6h-12.5zM117.3 285.2h12.5v6.6h-12.5zM105.1 291.3h12.5v6.6h-12.5zM117.3 291.3h12.5v6.6h-12.5zM129.4 291.3h12.5v6.6h-12.5zM68.8 297.5h12.5v6.6h-12.5zM80.9 297.5h12.5v6.6h-12.5zM93.0 297.5h12.5v6.6h-12.5zM105.1 297.5h12.5v6.6h-12.5zM117.3 297.5h12.5v6.6h-12.5zM68.8 303.7h12.5v6.6h-12.5zM129.4 303.7h12.5v6.6h-12.5zM105.1 309.8h12.5v6.6h-12.5zM68.8 334.4h12.5v6.6h-12.5zM105.1 334.4h12.5v6.6h-12.5zM141.5 334.4h12.5v6.6h-12.5zM153.6 334.4h12.5v6.6h-12.5zM165.8 334.4h12.5v6.6h-12.5zM93.0 340.6h12.5v6.6h-12.5zM56.6 346.7h12.5v6.6h-12.5zM153.6 346.7h12.5v6.6h-12.5zM165.8 346.7h12.5v6.6h-12.5zM165.8 352.9h12.5v4.1h-12.5z"/><path fill="#630" d="M323.4 100.5h9.5v6.6h-9.5z"/><path fill="#270" d="M44.5 106.6h12.5v6.6h-12.5zM44.5 125.1h12.5v6.6h-12.5zM56.6 137.4h12.5v6.6h-12.5z"/><path fill="#1b0" d="M56.6 106.6h12.5v6.6h-12.5zM262.8 248.2h12.5v6.6h-12.5zM202.1 297.5h12.5v6.6h-12.5zM287.0 322.1h12.5v6.6h-12.5z"/><path fill="#340" d="M177.9 106.6h12.5v6.6h-12.5zM177.9 137.4h12.5v6.6h-12.5zM44.5 340.6h12.5v6.6h-12.5z"/><path fill="#720" d="M190.0 106.6h12.5v6.6h-12.5zM190.0 118.9h12.5v6.6h-12.5zM44.5 309.8h12.5v6.6h-12.5z"/><path fill="#450" d="M323.4 106.6h9.5v6.6h-9.5zM44.5 118.9h12.5v6.6h-12.5z"/><path fill="#140" d="M44.5 112.8h12.5v6.6h-12.5zM44.5 316.0h12.5v6.6h-12.5z"/><path fill="#610" d="M177.9 112.8h12.5v6.6h-12.5zM311.3 118.9h12.5v6.6h-12.5zM105.1 242.1h12.5v6.6h-12.5z"/><path fill="#920" d="M190.0 112.8h12.5v6.6h-12.5zM190.0 131.3h12.5v6.6h-12.5z"/><path fill="#520" d="M311.3 112.8h12.5v6.6h-12.5z"/><path fill="#460" d="M323.4 112.8h9.5v6.6h-9.5z"/><path fill="#080" d="M56.6 118.9h12.5v6.6h-12.5zM68.8 118.9h12.5v6.6h-12.5zM93.0 118.9h12.5v6.6h-12.5zM117.3 118.9h12.5v6.6h-12.5zM68.8 125.1h12.5v6.6h-12.5zM105.1 125.1h12.5v6.6h-12.5zM141.5 125.1h12.5v6.6h-12.5zM153.6 125.1h12.5v6.6h-12.5zM165.8 125.1h12.5v6.6h-12.5zM190.0 149.7h12.5v6.6h-12.5zM190.0 168.2h12.5v6.6h-12.5zM226.4 168.2h12.5v6.6h-12.5zM250.6 174.4h12.5v6.6h-12.5zM287.0 174.4h12.5v6.6h-12.5zM214.3 180.5h12.5v6.6h-12.5zM262.8 180.5h12.5v6.6h-12.5zM323.4 180.5h9.5v6.6h-9.5zM287.0 192.8h12.5v6.6h-12.5zM323.4 192.8h9.5v6.6h-9.5zM214.3 199.0h12.5v6.6h-12.5zM214.3 205.1h12.5v6.6h-12.5zM299.2 205.1h12.5v6.6h-12.5zM323.4 205.1h9.5v6.6h-9.5zM214.3 211.3h12.5v6.6h-12.5zM323.4 217.5h9.5v6.6h-9.5zM202.1 242.1h12.5v6.6h-12.5zM214.3 254.4h12.5v6.6h-12.5zM323.4 279.0h9.5v6.6h-9.5zM323.4 297.5h9.5v6.6h-9.5zM214.3 334.4h12.5v6.6h-12.5zM274.9 334.4h12.5v6.6h-12.5zM287.0 334.4h12.5v6.6h-12.5zM202.1 340.6h12.5v6.6h-12.5zM226.4 340.6h12.5v6.6h-12.5zM250.6 340.6h12.5v6.6h-12.5zM311.3 340.6h12.5v6.6h-12.5zM214.3 346.7h12.5v6.6h-12.5zM274.9 346.7h12.5v6.6h-12.5zM287.0 346.7h12.5v6.6h-12.5zM299.2 346.7h12.5v6.6h-12.5zM226.4 352.9h12.5v4.1h-12.5z"/><path fill="#070" d="M105.1 118.9h12.5v6.6h-12.5zM93.0 125.1h12.5v6.6h-12.5zM153.6 137.4h12.5v6.6h-12.5zM190.0 192.8h12.5v6.6h-12.5zM190.0 199.0h12.5v6.6h-12.5zM202.1 199.0h12.5v6.6h-12.5zM190.0 205.1h12.5v6.6h-12.5zM202.1 211.3h12.5v6.6h-12.5zM202.1 217.5h12.5v6.6h-12.5zM323.4 223.6h9.5v6.6h-9.5zM202.1 235.9h12.5v6.6h-12.5zM323.4 235.9h9.5v6.6h-9.5zM323.4 242.1h9.5v6.6h-9.5zM202.1 272.9h12.5v6.6h-12.5zM323.4 291.3h9.5v6.6h-9.5zM190.0 297.5h12.5v6.6h-12.5zM323.4 322.1h9.5v6.6h-9.5zM323.4 340.6h9.5v6.6h-9.5z"/><path fill="#440" d="M177.9 118.9h12.5v6.6h-12.5z"/><path fill="#330" d="M323.4 118.9h9.5v6.6h-9.5zM177.9 131.3h12.5v6.6h-12.5zM44.5 346.7h12.5v6.6h-12.5z"/><path fill="#430" d="M177.9 125.1h12.5v6.6h-12.5zM190.0 137.4h12.5v6.6h-12.5z"/><path fill="#d10" d="M226.4 131.3h12.5v6.6h-12.5z"/><path fill="#800" d="M311.3 131.3h12.5v6.6h-12.5zM68.8 162.0h12.5v6.6h-12.5zM129.4 162.0h12.5v6.6h-12.5zM141.5 162.0h12.5v6.6h-12.5zM177.9 168.2h12.5v6.6h-12.5zM44.5 174.4h12.5v6.6h-12.5zM80.9 180.5h12.5v6.6h-12.5zM165.8 180.5h12.5v6.6h-12.5zM44.5 192.8h12.5v6.6h-12.5zM80.9 192.8h12.5v6.6h-12.5zM44.5 199.0h12.5v6.6h-12.5zM44.5 205.1h12.5v6.6h-12.5zM80.9 211.3h12.5v6.6h-12.5zM68.8 217.5h12.5v6.6h-12.5zM129.4 217.5h12.5v6.6h-12.5zM68.8 223.6h12.5v6.6h-12.5zM80.9 223.6h12.5v6.6h-12.5zM129.4 223.6h12.5v6.6h-12.5zM165.8 229.8h12.5v6.6h-12.5zM56.6 235.9h12.5v6.6h-12.5zM141.5 235.9h12.5v6.6h-12.5zM56.6 242.1h12.5v6.6h-12.5zM80.9 242.1h12.5v6.6h-12.5zM56.6 254.4h12.5v6.6h-12.5zM80.9 254.4h12.5v6.6h-12.5zM153.6 254.4h12.5v6.6h-12.5zM56.6 260.6h12.5v6.6h-12.5zM68.8 266.7h12.5v6.6h-12.5zM165.8 266.7h12.5v6.6h-12.5zM56.6 272.9h12.5v6.6h-12.5zM129.4 272.9h12.5v6.6h-12.5zM153.6 272.9h12.5v6.6h-12.5zM80.9 279.0h12.5v6.6h-12.5zM80.9 285.2h12.5v6.6h-12.5zM93.0 285.2h12.5v6.6h-12.5zM153.6 285.2h12.5v6.6h-12.5zM56.6 291.3h12.5v6.6h-12.5zM141.5 297.5h12.5v6.6h-12.5zM153.6 297.5h12.5v6.6h-12.5zM105.1 303.7h12.5v6.6h-12.5zM141.5 303.7h12.5v6.6h-12.5zM153.6 303.7h12.5v6.6h-12.5zM68.8 309.8h12.5v6.6h-12.5zM56.6 316.0h12.5v6.6h-12.5zM153.6 316.0h12.5v6.6h-12.5zM56.6 322.1h12.5v6.6h-12.5zM117.3 328.3h12.5v6.6h-12.5zM117.3 334.4h12.5v6.6h-12.5zM165.8 340.6h12.5v6.6h-12.5zM105.1 346.7h12.5v6.6h-12.5zM129.4 346.7h12.5v6.6h-12.5z"/><path fill="#310" d="M323.4 131.3h9.5v6.6h-9.5zM165.8 316.0h12.5v6.6h-12.5zM141.5 352.9h12.5v4.1h-12.5z"/><path fill="#370" d="M44.5 137.4h12.5v6.6h-12.5z"/><path fill="#380" d="M68.8 137.4h12.5v6.6h-12.5z"/><path fill="#280" d="M80.9 137.4h12.5v6.6h-12.5z"/><path fill="#260" d="M93.0 137.4h12.5v6.6h-12.5zM323.4 137.4h9.5v6.6h-9.5z"/><path fill="#180" d="M105.1 137.4h12.5v6.6h-12.5zM117.3 137.4h12.5v6.6h-12.5zM165.8 137.4h12.5v6.6h-12.5zM323.4 309.8h9.5v6.6h-9.5zM311.3 346.7h12.5v6.6h-12.5z"/><path fill="#170" d="M129.4 137.4h12.5v6.6h-12.5zM141.5 137.4h12.5v6.6h-12.5z"/><path fill="#850" d="M202.1 137.4h12.5v6.6h-12.5zM299.2 137.4h12.5v6.6h-12.5z"/><path fill="#860" d="M214.3 137.4h12.5v6.6h-12.5zM238.5 137.4h12.5v6.6h-12.5z"/><path fill="#950" d="M226.4 137.4h12.5v6.6h-12.5z"/><path fill="#960" d="M250.6 137.4h12.5v6.6h-12.5z"/><path fill="#760" d="M262.8 137.4h12.5v6.6h-12.5z"/><path fill="#940" d="M274.9 137.4h12.5v6.6h-12.5z"/><path fill="#740" d="M287.0 137.4h12.5v6.6h-12.5z"/><path fill="#350" d="M311.3 137.4h12.5v6.6h-12.5zM44.5 322.1h12.5v6.6h-12.5z"/><path fill="#600" d="M56.6 143.6h12.5v6.6h-12.5zM105.1 143.6h12.5v6.6h-12.5zM129.4 143.6h12.5v6.6h-12.5zM93.0 155.9h12.5v6.6h-12.5zM44.5 162.0h12.5v6.6h-12.5zM44.5 180.5h12.5v6.6h-12.5zM44.5 211.3h12.5v6.6h-12.5zM177.9 211.3h12.5v6.6h-12.5zM44.5 223.6h12.5v6.6h-12.5zM105.1 223.6h12.5v6.6h-12.5zM44.5 229.8h12.5v6.6h-12.5zM44.5 235.9h12.5v6.6h-12.5zM68.8 242.1h12.5v6.6h-12.5zM141.5 242.1h12.5v6.6h-12.5zM177.9 242.1h12.5v6.6h-12.5zM165.8 248.2h12.5v6.6h-12.5zM44.5 254.4h12.5v6.6h-12.5zM165.8 254.4h12.5v6.6h-12.5zM165.8 260.6h12.5v6.6h-12.5zM44.5 266.7h12.5v6.6h-12.5zM80.9 272.9h12.5v6.6h-12.5zM44.5 279.0h12.5v6.6h-12.5zM105.1 285.2h12.5v6.6h-12.5zM129.4 285.2h12.5v6.6h-12.5zM141.5 285.2h12.5v6.6h-12.5zM44.5 297.5h12.5v6.6h-12.5zM129.4 297.5h12.5v6.6h-12.5zM165.8 297.5h12.5v6.6h-12.5zM177.9 297.5h12.5v6.6h-12.5zM177.9 303.7h12.5v6.6h-12.5zM165.8 309.8h12.5v6.6h-12.5zM129.4 322.1h12.5v6.6h-12.5zM68.8 328.3h12.5v6.6h-12.5zM80.9 328.3h12.5v6.6h-12.5zM105.1 352.9h12.5v4.1h-12.5z"/><path fill="#a00" d="M80.9 143.6h12.5v6.6h-12.5zM56.6 162.0h12.5v6.6h-12.5zM165.8 186.7h12.5v6.6h-12.5zM56.6 217.5h12.5v6.6h-12.5zM117.3 217.5h12.5v6.6h-12.5zM141.5 217.5h12.5v6.6h-12.5zM153.6 223.6h12.5v6.6h-12.5zM80.9 229.8h12.5v6.6h-12.5zM105.1 229.8h12.5v6.6h-12.5zM129.4 229.8h12.5v6.6h-12.5zM153.6 229.8h12.5v6.6h-12.5zM117.3 242.1h12.5v6.6h-12.5zM153.6 242.1h12.5v6.6h-12.5zM117.3 248.2h12.5v6.6h-12.5zM129.4 248.2h12.5v6.6h-12.5zM105.1 254.4h12.5v6.6h-12.5zM129.4 260.6h12.5v6.6h-12.5zM56.6 266.7h12.5v6.6h-12.5zM105.1 272.9h12.5v6.6h-12.5zM68.8 279.0h12.5v6.6h-12.5zM105.1 279.0h12.5v6.6h-12.5zM153.6 279.0h12.5v6.6h-12.5zM68.8 291.3h12.5v6.6h-12.5zM93.0 291.3h12.5v6.6h-12.5zM153.6 291.3h12.5v6.6h-12.5zM93.0 303.7h12.5v6.6h-12.5zM117.3 303.7h12.5v6.6h-12.5zM80.9 309.8h12.5v6.6h-12.5zM93.0 309.8h12.5v6.6h-12.5zM117.3 309.8h12.5v6.6h-12.5zM93.0 334.4h12.5v6.6h-12.5zM105.1 340.6h12.5v6.6h-12.5zM153.6 340.6h12.5v6.6h-12.5zM80.9 346.7h12.5v6.6h-12.5zM93.0 346.7h12.5v6.6h-12.5z"/><path fill="#710" d="M165.8 143.6h12.5v6.6h-12.5zM68.8 229.8h12.5v6.6h-12.5z"/><path fill="#0f0" d="M226.4 143.6h12.5v6.6h-12.5zM238.5 143.6h12.5v6.6h-12.5zM238.5 149.7h12.5v6.6h-12.5zM250.6 149.7h12.5v6.6h-12.5zM299.2 149.7h12.5v6.6h-12.5zM299.2 155.9h12.5v6.6h-12.5zM238.5 229.8h12.5v6.6h-12.5zM238.5 242.1h12.5v6.6h-12.5zM238.5 279.0h12.5v6.6h-12.5zM238.5 285.2h12.5v6.6h-12.5zM287.0 291.3h12.5v6.6h-12.5zM238.5 297.5h12.5v6.6h-12.5zM262.8 297.5h12.5v6.6h-12.5zM287.0 297.5h12.5v6.6h-12.5zM226.4 303.7h12.5v6.6h-12.5zM238.5 316.0h12.5v6.6h-12.5z"/><path fill="#200" d="M80.9 149.7h12.5v6.6h-12.5zM153.6 149.7h12.5v6.6h-12.5zM141.5 155.9h12.5v6.6h-12.5z"/><path fill="#300" d="M105.1 149.7h12.5v6.6h-12.5zM129.4 149.7h12.5v6.6h-12.5zM141.5 149.7h12.5v6.6h-12.5zM44.5 155.9h12.5v6.6h-12.5zM56.6 155.9h12.5v6.6h-12.5zM165.8 155.9h12.5v6.6h-12.5zM177.9 155.9h12.5v6.6h-12.5zM44.5 260.6h12.5v6.6h-12.5zM153.6 328.3h12.5v6.6h-12.5zM177.9 346.7h12.5v6.6h-12.5zM44.5 352.9h12.5v4.1h-12.5z"/><path fill="#e10" d="M105.1 168.2h12.5v6.6h-12.5zM105.1 199.0h12.5v6.6h-12.5z"/><path fill="#1a0" d="M214.3 168.2h12.5v6.6h-12.5zM238.5 334.4h12.5v6.6h-12.5zM202.1 346.7h12.5v6.6h-12.5zM287.0 352.9h12.5v4.1h-12.5z"/><path fill="#910" d="M80.9 205.1h12.5v6.6h-12.5zM165.8 279.0h12.5v6.6h-12.5z"/><path fill="#a10" d="M141.5 211.3h12.5v6.6h-12.5zM68.8 340.6h12.5v6.6h-12.5zM56.6 352.9h12.5v4.1h-12.5z"/><path fill="#190" d="M214.3 217.5h12.5v6.6h-12.5zM250.6 346.7h12.5v6.6h-12.5z"/><path fill="#1d0" d="M262.8 223.6h12.5v6.6h-12.5zM274.9 229.8h12.5v6.6h-12.5zM250.6 248.2h12.5v6.6h-12.5zM238.5 303.7h12.5v6.6h-12.5zM250.6 309.8h12.5v6.6h-12.5z"/><path fill="#1e0" d="M262.8 235.9h12.5v6.6h-12.5z"/><path fill="#1c0" d="M274.9 248.2h12.5v6.6h-12.5zM274.9 316.0h12.5v6.6h-12.5zM214.3 322.1h12.5v6.6h-12.5z"/><path fill="#b10" d="M141.5 279.0h12.5v6.6h-12.5z"/><path fill="#810" d="M117.3 316.0h12.5v6.6h-12.5z"/><path fill="#130" d="M44.5 328.3h12.5v6.6h-12.5z"/><path fill="#050" d="M383.3 82.0h14.7v6.6h-14.7zM397.6 230.9h14.7v6.6h-14.7zM397.6 237.1h14.7v6.6h-14.7zM397.6 274.3h14.7v6.6h-14.7zM397.6 286.8h14.7v6.6h-14.7zM397.6 293.0h14.7v6.6h-14.7zM526.4 311.6h14.7v6.6h-14.7zM569.3 311.6h14.7v6.6h-14.7zM526.4 324.0h14.7v6.6h-14.7zM526.4 336.4h14.7v6.6h-14.7zM597.9 336.4h14.7v6.6h-14.7zM526.4 342.6h14.7v6.6h-14.7zM555.0 348.8h14.7v6.6h-14.7zM583.6 348.8h14.7v6.6h-14.7zM597.9 348.8h14.7v6.6h-14.7z"/><path fill="#070" d="M397.6 82.0h14.7v6.6h-14.7zM426.2 82.0h14.7v6.6h-14.7zM440.5 82.0h14.7v6.6h-14.7zM483.4 82.0h14.7v6.6h-14.7zM512.1 82.0h14.7v6.6h-14.7zM397.6 94.4h14.7v6.6h-14.7zM397.6 113.0h14.7v6.6h-14.7zM397.6 125.4h14.7v6.6h-14.7zM397.6 131.6h14.7v6.6h-14.7zM397.6 137.8h14.7v6.6h-14.7zM397.6 144.0h14.7v6.6h-14.7zM397.6 175.1h14.7v6.6h-14.7zM397.6 181.3h14.7v6.6h-14.7zM397.6 187.5h14.7v6.6h-14.7zM397.6 243.3h14.7v6.6h-14.7zM397.6 255.7h14.7v6.6h-14.7zM411.9 255.7h14.7v6.6h-14.7zM411.9 261.9h14.7v6.6h-14.7zM383.3 286.8h14.7v6.6h-14.7zM597.9 311.6h14.7v6.6h-14.7zM612.2 311.6h14.7v6.6h-14.7zM669.4 311.6h4.0v6.6h-4.0zM569.3 317.8h14.7v6.6h-14.7zM612.2 317.8h14.7v6.6h-14.7zM626.5 317.8h14.7v6.6h-14.7zM640.8 317.8h14.7v6.6h-14.7zM669.4 317.8h4.0v6.6h-4.0zM540.7 324.0h14.7v6.6h-14.7zM526.4 330.2h14.7v6.6h-14.7zM540.7 330.2h14.7v6.6h-14.7zM597.9 330.2h14.7v6.6h-14.7zM626.5 348.8h14.7v6.6h-14.7zM655.1 348.8h14.7v6.6h-14.7z"/><path fill="#090" d="M411.9 82.0h14.7v6.6h-14.7zM397.6 88.2h14.7v6.6h-14.7zM512.1 88.2h14.7v6.6h-14.7zM383.3 94.4h14.7v6.6h-14.7zM483.4 94.4h14.7v6.6h-14.7zM383.3 113.0h14.7v6.6h-14.7zM383.3 119.2h14.7v6.6h-14.7zM397.6 119.2h14.7v6.6h-14.7zM383.3 150.2h14.7v6.6h-14.7zM383.3 162.7h14.7v6.6h-14.7zM397.6 162.7h14.7v6.6h-14.7zM383.3 175.1h14.7v6.6h-14.7zM383.3 181.3h14.7v6.6h-14.7zM383.3 193.7h14.7v6.6h-14.7zM383.3 199.9h14.7v6.6h-14.7zM411.9 218.5h14.7v6.6h-14.7zM411.9 224.7h14.7v6.6h-14.7zM411.9 230.9h14.7v6.6h-14.7zM383.3 237.1h14.7v6.6h-14.7zM383.3 255.7h14.7v6.6h-14.7zM454.8 255.7h14.7v6.6h-14.7zM512.1 255.7h14.7v6.6h-14.7zM383.3 274.3h14.7v6.6h-14.7zM411.9 293.0h14.7v6.6h-14.7zM569.3 305.4h14.7v6.6h-14.7zM612.2 305.4h14.7v6.6h-14.7zM555.0 311.6h14.7v6.6h-14.7zM555.0 324.0h14.7v6.6h-14.7zM569.3 324.0h14.7v6.6h-14.7zM626.5 324.0h14.7v6.6h-14.7zM569.3 330.2h14.7v6.6h-14.7zM626.5 336.4h14.7v6.6h-14.7zM583.6 342.6h14.7v6.6h-14.7zM640.8 342.6h14.7v6.6h-14.7z"/><path fill="#0a0" d="M454.8 82.0h14.7v6.6h-14.7zM497.7 82.0h14.7v6.6h-14.7zM483.4 88.2h14.7v6.6h-14.7zM454.8 94.4h14.7v6.6h-14.7zM383.3 100.6h14.7v6.6h-14.7zM383.3 131.6h14.7v6.6h-14.7zM383.3 137.8h14.7v6.6h-14.7zM383.3 144.0h14.7v6.6h-14.7zM397.6 156.5h14.7v6.6h-14.7zM383.3 187.5h14.7v6.6h-14.7zM397.6 206.1h14.7v6.6h-14.7zM383.3 212.3h14.7v6.6h-14.7zM497.7 255.7h14.7v6.6h-14.7zM440.5 261.9h14.7v6.6h-14.7zM497.7 261.9h14.7v6.6h-14.7zM512.1 261.9h14.7v6.6h-14.7zM383.3 268.1h14.7v6.6h-14.7zM411.9 286.8h14.7v6.6h-14.7zM540.7 305.4h14.7v6.6h-14.7zM555.0 305.4h14.7v6.6h-14.7zM583.6 305.4h14.7v6.6h-14.7zM626.5 305.4h14.7v6.6h-14.7zM640.8 311.6h14.7v6.6h-14.7zM655.1 324.0h14.7v6.6h-14.7zM612.2 330.2h14.7v6.6h-14.7zM626.5 330.2h14.7v6.6h-14.7z"/><path fill="#0b0" d="M469.1 82.0h14.7v6.6h-14.7zM411.9 88.2h14.7v6.6h-14.7zM469.1 88.2h14.7v6.6h-14.7zM411.9 94.4h14.7v6.6h-14.7zM512.1 106.8h14.7v6.6h-14.7zM383.3 125.4h14.7v6.6h-14.7zM426.2 162.7h14.7v6.6h-14.7zM512.1 212.3h14.7v6.6h-14.7zM383.3 243.3h14.7v6.6h-14.7zM483.4 255.7h14.7v6.6h-14.7zM426.2 268.1h14.7v6.6h-14.7zM512.1 274.3h14.7v6.6h-14.7zM597.9 305.4h14.7v6.6h-14.7zM655.1 305.4h14.7v6.6h-14.7zM640.8 324.0h14.7v6.6h-14.7zM669.4 330.2h4.0v6.6h-4.0z"/><path fill="#300" d="M526.4 82.0h14.7v6.6h-14.7zM526.4 88.2h14.7v6.6h-14.7zM526.4 113.0h14.7v6.6h-14.7zM526.4 162.7h14.7v6.6h-14.7zM526.4 212.3h14.7v6.6h-14.7zM526.4 224.7h14.7v6.6h-14.7zM526.4 274.3h14.7v6.6h-14.7zM597.9 274.3h14.7v6.6h-14.7zM669.4 274.3h4.0v6.6h-4.0z"/><path fill="#400" d="M540.7 82.0h14.7v6.6h-14.7zM526.4 94.4h14.7v6.6h-14.7zM526.4 106.8h14.7v6.6h-14.7zM526.4 137.8h14.7v6.6h-14.7zM526.4 168.9h14.7v6.6h-14.7zM526.4 175.1h14.7v6.6h-14.7zM555.0 175.1h14.7v6.6h-14.7zM597.9 212.3h14.7v6.6h-14.7zM526.4 218.5h14.7v6.6h-14.7zM526.4 243.3h14.7v6.6h-14.7zM526.4 261.9h14.7v6.6h-14.7zM555.0 274.3h14.7v6.6h-14.7zM640.8 274.3h14.7v6.6h-14.7zM555.0 280.5h14.7v6.6h-14.7zM569.3 286.8h14.7v6.6h-14.7zM583.6 286.8h14.7v6.6h-14.7zM597.9 286.8h14.7v6.6h-14.7zM426.2 305.4h14.7v6.6h-14.7zM426.2 311.6h14.7v6.6h-14.7z"/><path fill="#700" d="M555.0 82.0h14.7v6.6h-14.7zM583.6 88.2h14.7v6.6h-14.7zM655.1 88.2h14.7v6.6h-14.7zM597.9 94.4h14.7v6.6h-14.7zM540.7 100.6h14.7v6.6h-14.7zM669.4 113.0h4.0v6.6h-4.0zM540.7 175.1h14.7v6.6h-14.7zM526.4 181.3h14.7v6.6h-14.7zM526.4 199.9h14.7v6.6h-14.7zM540.7 206.1h14.7v6.6h-14.7zM555.0 206.1h14.7v6.6h-14.7zM626.5 212.3h14.7v6.6h-14.7zM640.8 212.3h14.7v6.6h-14.7zM555.0 218.5h14.7v6.6h-14.7zM626.5 218.5h14.7v6.6h-14.7zM540.7 224.7h14.7v6.6h-14.7zM569.3 224.7h14.7v6.6h-14.7zM597.9 224.7h14.7v6.6h-14.7zM526.4 255.7h14.7v6.6h-14.7zM540.7 255.7h14.7v6.6h-14.7zM655.1 274.3h14.7v6.6h-14.7zM626.5 280.5h14.7v6.6h-14.7zM669.4 280.5h4.0v6.6h-4.0zM540.7 286.8h14.7v6.6h-14.7zM555.0 293.0h14.7v6.6h-14.7zM597.9 293.0h14.7v6.6h-14.7zM383.3 317.8h14.7v6.6h-14.7zM383.3 348.8h14.7v6.6h-14.7z"/><path fill="#800" d="M569.3 82.0h14.7v6.6h-14.7zM640.8 82.0h14.7v6.6h-14.7zM569.3 88.2h14.7v6.6h-14.7zM612.2 88.2h14.7v6.6h-14.7zM640.8 88.2h14.7v6.6h-14.7zM669.4 88.2h4.0v6.6h-4.0zM569.3 94.4h14.7v6.6h-14.7zM583.6 94.4h14.7v6.6h-14.7zM612.2 94.4h14.7v6.6h-14.7zM555.0 106.8h14.7v6.6h-14.7zM540.7 119.2h14.7v6.6h-14.7zM540.7 125.4h14.7v6.6h-14.7zM555.0 125.4h14.7v6.6h-14.7zM597.9 131.6h14.7v6.6h-14.7zM597.9 150.2h14.7v6.6h-14.7zM540.7 162.7h14.7v6.6h-14.7zM555.0 162.7h14.7v6.6h-14.7zM540.7 187.5h14.7v6.6h-14.7zM555.0 193.7h14.7v6.6h-14.7zM583.6 212.3h14.7v6.6h-14.7zM655.1 212.3h14.7v6.6h-14.7zM583.6 218.5h14.7v6.6h-14.7zM612.2 218.5h14.7v6.6h-14.7zM626.5 224.7h14.7v6.6h-14.7zM640.8 224.7h14.7v6.6h-14.7zM612.2 230.9h14.7v6.6h-14.7zM626.5 230.9h14.7v6.6h-14.7zM540.7 237.1h14.7v6.6h-14.7zM569.3 237.1h14.7v6.6h-14.7zM640.8 280.5h14.7v6.6h-14.7zM655.1 286.8h14.7v6.6h-14.7zM383.3 330.2h14.7v6.6h-14.7zM469.1 336.4h14.7v6.6h-14.7zM483.4 336.4h14.7v6.6h-14.7zM383.3 342.6h14.7v6.6h-14.7z"/><path fill="#b00" d="M583.6 82.0h14.7v6.6h-14.7zM640.8 94.4h14.7v6.6h-14.7zM612.2 106.8h14.7v6.6h-14.7zM669.4 106.8h4.0v6.6h-4.0zM569.3 125.4h14.7v6.6h-14.7zM583.6 125.4h14.7v6.6h-14.7zM597.9 144.0h14.7v6.6h-14.7zM583.6 150.2h14.7v6.6h-14.7zM626.5 181.3h14.7v6.6h-14.7zM597.9 187.5h14.7v6.6h-14.7zM569.3 193.7h14.7v6.6h-14.7zM583.6 193.7h14.7v6.6h-14.7zM555.0 199.9h14.7v6.6h-14.7zM569.3 199.9h14.7v6.6h-14.7zM640.8 206.1h14.7v6.6h-14.7zM655.1 230.9h14.7v6.6h-14.7zM540.7 243.3h14.7v6.6h-14.7zM597.9 243.3h14.7v6.6h-14.7zM583.6 249.5h14.7v6.6h-14.7zM597.9 249.5h14.7v6.6h-14.7zM569.3 255.7h14.7v6.6h-14.7zM583.6 255.7h14.7v6.6h-14.7zM583.6 261.9h14.7v6.6h-14.7zM597.9 261.9h14.7v6.6h-14.7zM655.1 293.0h14.7v6.6h-14.7zM411.9 311.6h14.7v6.6h-14.7zM397.6 317.8h14.7v6.6h-14.7zM411.9 317.8h14.7v6.6h-14.7zM512.1 324.0h14.7v6.6h-14.7zM426.2 330.2h14.7v6.6h-14.7zM397.6 336.4h14.7v6.6h-14.7zM411.9 348.8h14.7v6.6h-14.7z"/><path fill="#500" d="M597.9 82.0h14.7v6.6h-14.7zM555.0 88.2h14.7v6.6h-14.7zM597.9 88.2h14.7v6.6h-14.7zM626.5 88.2h14.7v6.6h-14.7zM540.7 113.0h14.7v6.6h-14.7zM526.4 125.4h14.7v6.6h-14.7zM526.4 144.0h14.7v6.6h-14.7zM540.7 150.2h14.7v6.6h-14.7zM555.0 150.2h14.7v6.6h-14.7zM526.4 187.5h14.7v6.6h-14.7zM555.0 212.3h14.7v6.6h-14.7zM569.3 212.3h14.7v6.6h-14.7zM640.8 218.5h14.7v6.6h-14.7zM526.4 230.9h14.7v6.6h-14.7zM555.0 230.9h14.7v6.6h-14.7zM597.9 230.9h14.7v6.6h-14.7zM526.4 268.1h14.7v6.6h-14.7zM597.9 268.1h14.7v6.6h-14.7zM640.8 268.1h14.7v6.6h-14.7zM569.3 274.3h14.7v6.6h-14.7zM612.2 274.3h14.7v6.6h-14.7zM626.5 274.3h14.7v6.6h-14.7zM540.7 280.5h14.7v6.6h-14.7zM569.3 280.5h14.7v6.6h-14.7zM612.2 280.5h14.7v6.6h-14.7zM526.4 286.8h14.7v6.6h-14.7zM426.2 317.8h14.7v6.6h-14.7zM512.1 348.8h14.7v6.6h-14.7z"/><path fill="#900" d="M612.2 82.0h14.7v6.6h-14.7zM669.4 82.0h4.0v6.6h-4.0zM626.5 94.4h14.7v6.6h-14.7zM669.4 94.4h4.0v6.6h-4.0zM555.0 100.6h14.7v6.6h-14.7zM612.2 113.0h14.7v6.6h-14.7zM555.0 137.8h14.7v6.6h-14.7zM540.7 144.0h14.7v6.6h-14.7zM569.3 150.2h14.7v6.6h-14.7zM555.0 156.5h14.7v6.6h-14.7zM540.7 168.9h14.7v6.6h-14.7zM540.7 181.3h14.7v6.6h-14.7zM669.4 187.5h4.0v6.6h-4.0zM540.7 193.7h14.7v6.6h-14.7zM540.7 199.9h14.7v6.6h-14.7zM569.3 206.1h14.7v6.6h-14.7zM583.6 206.1h14.7v6.6h-14.7zM612.2 206.1h14.7v6.6h-14.7zM612.2 212.3h14.7v6.6h-14.7zM669.4 212.3h4.0v6.6h-4.0zM669.4 218.5h4.0v6.6h-4.0zM555.0 224.7h14.7v6.6h-14.7zM583.6 224.7h14.7v6.6h-14.7zM612.2 224.7h14.7v6.6h-14.7zM655.1 224.7h14.7v6.6h-14.7zM640.8 230.9h14.7v6.6h-14.7zM555.0 237.1h14.7v6.6h-14.7zM597.9 237.1h14.7v6.6h-14.7zM612.2 237.1h14.7v6.6h-14.7zM540.7 249.5h14.7v6.6h-14.7zM555.0 255.7h14.7v6.6h-14.7zM655.1 280.5h14.7v6.6h-14.7zM626.5 286.8h14.7v6.6h-14.7zM540.7 293.0h14.7v6.6h-14.7zM583.6 293.0h14.7v6.6h-14.7zM640.8 293.0h14.7v6.6h-14.7zM383.3 305.4h14.7v6.6h-14.7zM383.3 311.6h14.7v6.6h-14.7zM397.6 311.6h14.7v6.6h-14.7zM454.8 311.6h14.7v6.6h-14.7zM512.1 311.6h14.7v6.6h-14.7zM483.4 317.8h14.7v6.6h-14.7zM383.3 336.4h14.7v6.6h-14.7zM426.2 336.4h14.7v6.6h-14.7zM512.1 342.6h14.7v6.6h-14.7zM426.2 348.8h14.7v6.6h-14.7zM497.7 348.8h14.7v6.6h-14.7z"/><path fill="#a00" d="M626.5 82.0h14.7v6.6h-14.7zM655.1 82.0h14.7v6.6h-14.7zM597.9 100.6h14.7v6.6h-14.7zM569.3 113.0h14.7v6.6h-14.7zM555.0 119.2h14.7v6.6h-14.7zM612.2 131.6h14.7v6.6h-14.7zM626.5 131.6h14.7v6.6h-14.7zM540.7 137.8h14.7v6.6h-14.7zM569.3 137.8h14.7v6.6h-14.7zM555.0 144.0h14.7v6.6h-14.7zM612.2 150.2h14.7v6.6h-14.7zM655.1 150.2h14.7v6.6h-14.7zM597.9 162.7h14.7v6.6h-14.7zM640.8 162.7h14.7v6.6h-14.7zM655.1 162.7h14.7v6.6h-14.7zM569.3 168.9h14.7v6.6h-14.7zM640.8 175.1h14.7v6.6h-14.7zM597.9 181.3h14.7v6.6h-14.7zM555.0 187.5h14.7v6.6h-14.7zM597.9 206.1h14.7v6.6h-14.7zM655.1 206.1h14.7v6.6h-14.7zM626.5 237.1h14.7v6.6h-14.7zM640.8 237.1h14.7v6.6h-14.7zM655.1 237.1h14.7v6.6h-14.7zM555.0 249.5h14.7v6.6h-14.7zM612.2 249.5h14.7v6.6h-14.7zM597.9 255.7h14.7v6.6h-14.7zM540.7 261.9h14.7v6.6h-14.7zM555.0 261.9h14.7v6.6h-14.7zM569.3 261.9h14.7v6.6h-14.7zM669.4 261.9h4.0v6.6h-4.0zM569.3 293.0h14.7v6.6h-14.7zM612.2 293.0h14.7v6.6h-14.7zM512.1 305.4h14.7v6.6h-14.7zM469.1 311.6h14.7v6.6h-14.7zM440.5 317.8h14.7v6.6h-14.7zM469.1 317.8h14.7v6.6h-14.7zM512.1 317.8h14.7v6.6h-14.7zM383.3 324.0h14.7v6.6h-14.7zM426.2 324.0h14.7v6.6h-14.7zM397.6 330.2h14.7v6.6h-14.7zM440.5 330.2h14.7v6.6h-14.7zM469.1 330.2h14.7v6.6h-14.7zM411.9 336.4h14.7v6.6h-14.7zM440.5 336.4h14.7v6.6h-14.7zM512.1 336.4h14.7v6.6h-14.7zM397.6 342.6h14.7v6.6h-14.7zM411.9 342.6h14.7v6.6h-14.7zM440.5 342.6h14.7v6.6h-14.7zM483.4 342.6h14.7v6.6h-14.7zM497.7 342.6h14.7v6.6h-14.7zM469.1 348.8h14.7v6.6h-14.7z"/><path fill="#080" d="M383.3 88.2h14.7v6.6h-14.7zM426.2 88.2h14.7v6.6h-14.7zM512.1 94.4h14.7v6.6h-14.7zM397.6 100.6h14.7v6.6h-14.7zM383.3 106.8h14.7v6.6h-14.7zM397.6 106.8h14.7v6.6h-14.7zM397.6 150.2h14.7v6.6h-14.7zM383.3 156.5h14.7v6.6h-14.7zM383.3 168.9h14.7v6.6h-14.7zM397.6 168.9h14.7v6.6h-14.7zM397.6 193.7h14.7v6.6h-14.7zM397.6 199.9h14.7v6.6h-14.7zM383.3 206.1h14.7v6.6h-14.7zM397.6 212.3h14.7v6.6h-14.7zM383.3 218.5h14.7v6.6h-14.7zM383.3 224.7h14.7v6.6h-14.7zM383.3 230.9h14.7v6.6h-14.7zM411.9 237.1h14.7v6.6h-14.7zM411.9 243.3h14.7v6.6h-14.7zM411.9 249.5h14.7v6.6h-14.7zM426.2 255.7h14.7v6.6h-14.7zM440.5 255.7h14.7v6.6h-14.7zM383.3 261.9h14.7v6.6h-14.7zM411.9 280.5h14.7v6.6h-14.7zM526.4 305.4h14.7v6.6h-14.7zM583.6 317.8h14.7v6.6h-14.7zM597.9 317.8h14.7v6.6h-14.7zM655.1 317.8h14.7v6.6h-14.7zM583.6 324.0h14.7v6.6h-14.7zM597.9 324.0h14.7v6.6h-14.7zM612.2 324.0h14.7v6.6h-14.7zM555.0 330.2h14.7v6.6h-14.7zM583.6 330.2h14.7v6.6h-14.7zM540.7 336.4h14.7v6.6h-14.7zM569.3 336.4h14.7v6.6h-14.7zM655.1 336.4h14.7v6.6h-14.7zM669.4 336.4h4.0v6.6h-4.0zM555.0 342.6h14.7v6.6h-14.7zM597.9 342.6h14.7v6.6h-14.7zM612.2 342.6h14.7v6.6h-14.7zM655.1 342.6h14.7v6.6h-14.7zM669.4 342.6h4.0v6.6h-4.0zM669.4 348.8h4.0v6.6h-4.0z"/><path fill="#1c0" d="M440.5 88.2h14.7v6.6h-14.7zM426.2 224.7h14.7v6.6h-14.7z"/><path fill="#0c0" d="M454.8 88.2h14.7v6.6h-14.7zM469.1 94.4h14.7v6.6h-14.7zM512.1 113.0h14.7v6.6h-14.7zM411.9 150.2h14.7v6.6h-14.7zM426.2 150.2h14.7v6.6h-14.7zM440.5 168.9h14.7v6.6h-14.7zM454.8 168.9h14.7v6.6h-14.7zM426.2 181.3h14.7v6.6h-14.7zM512.1 181.3h14.7v6.6h-14.7zM512.1 199.9h14.7v6.6h-14.7zM512.1 206.1h14.7v6.6h-14.7zM469.1 212.3h14.7v6.6h-14.7zM426.2 237.1h14.7v6.6h-14.7zM454.8 237.1h14.7v6.6h-14.7zM440.5 249.5h14.7v6.6h-14.7zM454.8 249.5h14.7v6.6h-14.7zM512.1 249.5h14.7v6.6h-14.7zM469.1 255.7h14.7v6.6h-14.7zM426.2 261.9h14.7v6.6h-14.7zM454.8 268.1h14.7v6.6h-14.7zM454.8 274.3h14.7v6.6h-14.7zM669.4 324.0h4.0v6.6h-4.0zM640.8 330.2h14.7v6.6h-14.7zM555.0 336.4h14.7v6.6h-14.7zM583.6 336.4h14.7v6.6h-14.7z"/><path fill="#0d0" d="M497.7 88.2h14.7v6.6h-14.7zM426.2 94.4h14.7v6.6h-14.7zM440.5 94.4h14.7v6.6h-14.7zM454.8 100.6h14.7v6.6h-14.7zM483.4 100.6h14.7v6.6h-14.7zM426.2 106.8h14.7v6.6h-14.7zM454.8 106.8h14.7v6.6h-14.7zM454.8 113.0h14.7v6.6h-14.7zM426.2 119.2h14.7v6.6h-14.7zM440.5 119.2h14.7v6.6h-14.7zM512.1 119.2h14.7v6.6h-14.7zM426.2 125.4h14.7v6.6h-14.7zM440.5 125.4h14.7v6.6h-14.7zM426.2 131.6h14.7v6.6h-14.7zM512.1 131.6h14.7v6.6h-14.7zM426.2 137.8h14.7v6.6h-14.7zM483.4 137.8h14.7v6.6h-14.7zM426.2 144.0h14.7v6.6h-14.7zM512.1 144.0h14.7v6.6h-14.7zM483.4 150.2h14.7v6.6h-14.7zM512.1 150.2h14.7v6.6h-14.7zM426.2 156.5h14.7v6.6h-14.7zM454.8 162.7h14.7v6.6h-14.7zM426.2 168.9h14.7v6.6h-14.7zM497.7 168.9h14.7v6.6h-14.7zM426.2 175.1h14.7v6.6h-14.7zM512.1 175.1h14.7v6.6h-14.7zM411.9 193.7h14.7v6.6h-14.7zM426.2 193.7h14.7v6.6h-14.7zM426.2 199.9h14.7v6.6h-14.7zM426.2 206.1h14.7v6.6h-14.7zM483.4 206.1h14.7v6.6h-14.7zM426.2 212.3h14.7v6.6h-14.7zM440.5 212.3h14.7v6.6h-14.7zM426.2 218.5h14.7v6.6h-14.7zM454.8 218.5h14.7v6.6h-14.7zM512.1 218.5h14.7v6.6h-14.7zM440.5 224.7h14.7v6.6h-14.7zM512.1 224.7h14.7v6.6h-14.7zM454.8 230.9h14.7v6.6h-14.7zM512.1 237.1h14.7v6.6h-14.7zM469.1 249.5h14.7v6.6h-14.7zM469.1 261.9h14.7v6.6h-14.7zM483.4 261.9h14.7v6.6h-14.7zM469.1 268.1h14.7v6.6h-14.7zM483.4 268.1h14.7v6.6h-14.7zM426.2 274.3h14.7v6.6h-14.7zM483.4 274.3h14.7v6.6h-14.7zM426.2 280.5h14.7v6.6h-14.7zM483.4 280.5h14.7v6.6h-14.7zM512.1 280.5h14.7v6.6h-14.7zM426.2 286.8h14.7v6.6h-14.7zM512.1 286.8h14.7v6.6h-14.7zM426.2 293.0h14.7v6.6h-14.7zM440.5 293.0h14.7v6.6h-14.7zM454.8 293.0h14.7v6.6h-14.7zM483.4 293.0h14.7v6.6h-14.7zM512.1 293.0h14.7v6.6h-14.7zM669.4 305.4h4.0v6.6h-4.0zM655.1 330.2h14.7v6.6h-14.7z"/><path fill="#200" d="M540.7 88.2h14.7v6.6h-14.7zM540.7 94.4h14.7v6.6h-14.7zM526.4 237.1h14.7v6.6h-14.7z"/><path fill="#0f0" d="M497.7 94.4h14.7v6.6h-14.7zM440.5 100.6h14.7v6.6h-14.7zM497.7 100.6h14.7v6.6h-14.7zM440.5 106.8h14.7v6.6h-14.7zM469.1 106.8h14.7v6.6h-14.7zM497.7 106.8h14.7v6.6h-14.7zM426.2 113.0h14.7v6.6h-14.7zM440.5 113.0h14.7v6.6h-14.7zM469.1 113.0h14.7v6.6h-14.7zM483.4 113.0h14.7v6.6h-14.7zM411.9 119.2h14.7v6.6h-14.7zM497.7 119.2h14.7v6.6h-14.7zM469.1 125.4h14.7v6.6h-14.7zM411.9 131.6h14.7v6.6h-14.7zM497.7 131.6h14.7v6.6h-14.7zM454.8 137.8h14.7v6.6h-14.7zM469.1 137.8h14.7v6.6h-14.7zM497.7 137.8h14.7v6.6h-14.7zM440.5 144.0h14.7v6.6h-14.7zM469.1 144.0h14.7v6.6h-14.7zM440.5 150.2h14.7v6.6h-14.7zM454.8 150.2h14.7v6.6h-14.7zM469.1 150.2h14.7v6.6h-14.7zM497.7 150.2h14.7v6.6h-14.7zM440.5 156.5h14.7v6.6h-14.7zM469.1 156.5h14.7v6.6h-14.7zM411.9 162.7h14.7v6.6h-14.7zM497.7 162.7h14.7v6.6h-14.7zM469.1 168.9h14.7v6.6h-14.7zM440.5 175.1h14.7v6.6h-14.7zM469.1 181.3h14.7v6.6h-14.7zM440.5 187.5h14.7v6.6h-14.7zM497.7 187.5h14.7v6.6h-14.7zM440.5 193.7h14.7v6.6h-14.7zM469.1 193.7h14.7v6.6h-14.7zM497.7 193.7h14.7v6.6h-14.7zM440.5 199.9h14.7v6.6h-14.7zM483.4 199.9h14.7v6.6h-14.7zM497.7 199.9h14.7v6.6h-14.7zM497.7 206.1h14.7v6.6h-14.7zM497.7 212.3h14.7v6.6h-14.7zM497.7 218.5h14.7v6.6h-14.7zM483.4 230.9h14.7v6.6h-14.7zM497.7 230.9h14.7v6.6h-14.7zM440.5 237.1h14.7v6.6h-14.7zM483.4 243.3h14.7v6.6h-14.7zM497.7 243.3h14.7v6.6h-14.7zM512.1 243.3h14.7v6.6h-14.7zM440.5 268.1h14.7v6.6h-14.7zM497.7 268.1h14.7v6.6h-14.7zM469.1 280.5h14.7v6.6h-14.7zM454.8 286.8h14.7v6.6h-14.7zM497.7 293.0h14.7v6.6h-14.7z"/><path fill="#600" d="M555.0 94.4h14.7v6.6h-14.7zM526.4 100.6h14.7v6.6h-14.7zM540.7 106.8h14.7v6.6h-14.7zM526.4 131.6h14.7v6.6h-14.7zM540.7 131.6h14.7v6.6h-14.7zM555.0 131.6h14.7v6.6h-14.7zM540.7 156.5h14.7v6.6h-14.7zM555.0 168.9h14.7v6.6h-14.7zM555.0 181.3h14.7v6.6h-14.7zM526.4 193.7h14.7v6.6h-14.7zM526.4 206.1h14.7v6.6h-14.7zM540.7 212.3h14.7v6.6h-14.7zM540.7 218.5h14.7v6.6h-14.7zM569.3 218.5h14.7v6.6h-14.7zM597.9 218.5h14.7v6.6h-14.7zM655.1 218.5h14.7v6.6h-14.7zM540.7 230.9h14.7v6.6h-14.7zM569.3 230.9h14.7v6.6h-14.7zM669.4 230.9h4.0v6.6h-4.0zM655.1 268.1h14.7v6.6h-14.7zM540.7 274.3h14.7v6.6h-14.7zM526.4 280.5h14.7v6.6h-14.7zM583.6 280.5h14.7v6.6h-14.7zM597.9 280.5h14.7v6.6h-14.7zM612.2 286.8h14.7v6.6h-14.7zM640.8 286.8h14.7v6.6h-14.7zM669.4 286.8h4.0v6.6h-4.0zM526.4 293.0h14.7v6.6h-14.7zM512.1 330.2h14.7v6.6h-14.7z"/><path fill="#910" d="M655.1 94.4h14.7v6.6h-14.7zM669.4 268.1h4.0v6.6h-4.0zM483.4 311.6h14.7v6.6h-14.7zM497.7 324.0h14.7v6.6h-14.7zM411.9 330.2h14.7v6.6h-14.7zM454.8 348.8h14.7v6.6h-14.7zM483.4 348.8h14.7v6.6h-14.7z"/><path fill="#0e0" d="M411.9 100.6h14.7v6.6h-14.7zM426.2 100.6h14.7v6.6h-14.7zM469.1 100.6h14.7v6.6h-14.7zM512.1 100.6h14.7v6.6h-14.7zM411.9 106.8h14.7v6.6h-14.7zM483.4 106.8h14.7v6.6h-14.7zM411.9 113.0h14.7v6.6h-14.7zM497.7 113.0h14.7v6.6h-14.7zM454.8 119.2h14.7v6.6h-14.7zM469.1 119.2h14.7v6.6h-14.7zM483.4 119.2h14.7v6.6h-14.7zM411.9 125.4h14.7v6.6h-14.7zM454.8 125.4h14.7v6.6h-14.7zM483.4 125.4h14.7v6.6h-14.7zM497.7 125.4h14.7v6.6h-14.7zM512.1 125.4h14.7v6.6h-14.7zM454.8 131.6h14.7v6.6h-14.7zM469.1 131.6h14.7v6.6h-14.7zM483.4 131.6h14.7v6.6h-14.7zM411.9 137.8h14.7v6.6h-14.7zM440.5 137.8h14.7v6.6h-14.7zM512.1 137.8h14.7v6.6h-14.7zM411.9 144.0h14.7v6.6h-14.7zM454.8 144.0h14.7v6.6h-14.7zM497.7 144.0h14.7v6.6h-14.7zM411.9 156.5h14.7v6.6h-14.7zM454.8 156.5h14.7v6.6h-14.7zM483.4 156.5h14.7v6.6h-14.7zM497.7 156.5h14.7v6.6h-14.7zM512.1 156.5h14.7v6.6h-14.7zM440.5 162.7h14.7v6.6h-14.7zM469.1 162.7h14.7v6.6h-14.7zM483.4 162.7h14.7v6.6h-14.7zM512.1 162.7h14.7v6.6h-14.7zM411.9 168.9h14.7v6.6h-14.7zM483.4 168.9h14.7v6.6h-14.7zM512.1 168.9h14.7v6.6h-14.7zM411.9 175.1h14.7v6.6h-14.7zM454.8 175.1h14.7v6.6h-14.7zM469.1 175.1h14.7v6.6h-14.7zM483.4 175.1h14.7v6.6h-14.7zM497.7 175.1h14.7v6.6h-14.7zM440.5 181.3h14.7v6.6h-14.7zM454.8 181.3h14.7v6.6h-14.7zM483.4 181.3h14.7v6.6h-14.7zM497.7 181.3h14.7v6.6h-14.7zM411.9 187.5h14.7v6.6h-14.7zM426.2 187.5h14.7v6.6h-14.7zM454.8 187.5h14.7v6.6h-14.7zM469.1 187.5h14.7v6.6h-14.7zM483.4 187.5h14.7v6.6h-14.7zM512.1 187.5h14.7v6.6h-14.7zM483.4 193.7h14.7v6.6h-14.7zM512.1 193.7h14.7v6.6h-14.7zM411.9 199.9h14.7v6.6h-14.7zM454.8 199.9h14.7v6.6h-14.7zM469.1 199.9h14.7v6.6h-14.7zM411.9 206.1h14.7v6.6h-14.7zM440.5 206.1h14.7v6.6h-14.7zM454.8 206.1h14.7v6.6h-14.7zM469.1 206.1h14.7v6.6h-14.7zM411.9 212.3h14.7v6.6h-14.7zM454.8 212.3h14.7v6.6h-14.7zM483.4 212.3h14.7v6.6h-14.7zM440.5 218.5h14.7v6.6h-14.7zM469.1 218.5h14.7v6.6h-14.7zM483.4 218.5h14.7v6.6h-14.7zM469.1 224.7h14.7v6.6h-14.7zM483.4 224.7h14.7v6.6h-14.7zM497.7 224.7h14.7v6.6h-14.7zM426.2 230.9h14.7v6.6h-14.7zM440.5 230.9h14.7v6.6h-14.7zM469.1 230.9h14.7v6.6h-14.7zM512.1 230.9h14.7v6.6h-14.7zM469.1 237.1h14.7v6.6h-14.7zM497.7 237.1h14.7v6.6h-14.7zM426.2 243.3h14.7v6.6h-14.7zM440.5 243.3h14.7v6.6h-14.7zM454.8 243.3h14.7v6.6h-14.7zM469.1 243.3h14.7v6.6h-14.7zM426.2 249.5h14.7v6.6h-14.7zM483.4 249.5h14.7v6.6h-14.7zM497.7 249.5h14.7v6.6h-14.7zM454.8 261.9h14.7v6.6h-14.7zM512.1 268.1h14.7v6.6h-14.7zM440.5 274.3h14.7v6.6h-14.7zM469.1 274.3h14.7v6.6h-14.7zM497.7 274.3h14.7v6.6h-14.7zM440.5 280.5h14.7v6.6h-14.7zM454.8 280.5h14.7v6.6h-14.7zM497.7 280.5h14.7v6.6h-14.7zM440.5 286.8h14.7v6.6h-14.7zM469.1 286.8h14.7v6.6h-14.7zM483.4 286.8h14.7v6.6h-14.7zM497.7 286.8h14.7v6.6h-14.7zM469.1 293.0h14.7v6.6h-14.7z"/><path fill="#c00" d="M569.3 100.6h14.7v6.6h-14.7zM626.5 100.6h14.7v6.6h-14.7zM655.1 100.6h14.7v6.6h-14.7zM569.3 106.8h14.7v6.6h-14.7zM583.6 106.8h14.7v6.6h-14.7zM597.9 106.8h14.7v6.6h-14.7zM626.5 106.8h14.7v6.6h-14.7zM640.8 106.8h14.7v6.6h-14.7zM655.1 106.8h14.7v6.6h-14.7zM640.8 113.0h14.7v6.6h-14.7zM655.1 113.0h14.7v6.6h-14.7zM597.9 119.2h14.7v6.6h-14.7zM597.9 125.4h14.7v6.6h-14.7zM626.5 125.4h14.7v6.6h-14.7zM583.6 131.6h14.7v6.6h-14.7zM640.8 131.6h14.7v6.6h-14.7zM655.1 131.6h14.7v6.6h-14.7zM597.9 137.8h14.7v6.6h-14.7zM655.1 137.8h14.7v6.6h-14.7zM640.8 144.0h14.7v6.6h-14.7zM626.5 150.2h14.7v6.6h-14.7zM583.6 156.5h14.7v6.6h-14.7zM626.5 156.5h14.7v6.6h-14.7zM640.8 156.5h14.7v6.6h-14.7zM612.2 162.7h14.7v6.6h-14.7zM626.5 162.7h14.7v6.6h-14.7zM597.9 168.9h14.7v6.6h-14.7zM640.8 168.9h14.7v6.6h-14.7zM569.3 175.1h14.7v6.6h-14.7zM640.8 181.3h14.7v6.6h-14.7zM655.1 181.3h14.7v6.6h-14.7zM569.3 187.5h14.7v6.6h-14.7zM583.6 187.5h14.7v6.6h-14.7zM597.9 193.7h14.7v6.6h-14.7zM612.2 193.7h14.7v6.6h-14.7zM640.8 193.7h14.7v6.6h-14.7zM612.2 199.9h14.7v6.6h-14.7zM669.4 206.1h4.0v6.6h-4.0zM669.4 224.7h4.0v6.6h-4.0zM626.5 243.3h14.7v6.6h-14.7zM640.8 243.3h14.7v6.6h-14.7zM569.3 249.5h14.7v6.6h-14.7zM640.8 249.5h14.7v6.6h-14.7zM655.1 249.5h14.7v6.6h-14.7zM612.2 255.7h14.7v6.6h-14.7zM626.5 255.7h14.7v6.6h-14.7zM612.2 261.9h14.7v6.6h-14.7zM626.5 261.9h14.7v6.6h-14.7zM655.1 261.9h14.7v6.6h-14.7zM626.5 293.0h14.7v6.6h-14.7zM669.4 293.0h4.0v6.6h-4.0zM440.5 305.4h14.7v6.6h-14.7zM440.5 311.6h14.7v6.6h-14.7zM454.8 317.8h14.7v6.6h-14.7zM497.7 317.8h14.7v6.6h-14.7zM397.6 324.0h14.7v6.6h-14.7zM440.5 324.0h14.7v6.6h-14.7zM454.8 324.0h14.7v6.6h-14.7zM483.4 324.0h14.7v6.6h-14.7zM454.8 330.2h14.7v6.6h-14.7zM497.7 336.4h14.7v6.6h-14.7zM454.8 342.6h14.7v6.6h-14.7z"/><path fill="#d00" d="M583.6 100.6h14.7v6.6h-14.7zM612.2 100.6h14.7v6.6h-14.7zM669.4 100.6h4.0v6.6h-4.0zM583.6 113.0h14.7v6.6h-14.7zM597.9 113.0h14.7v6.6h-14.7zM626.5 113.0h14.7v6.6h-14.7zM640.8 125.4h14.7v6.6h-14.7zM655.1 125.4h14.7v6.6h-14.7zM669.4 125.4h4.0v6.6h-4.0zM583.6 137.8h14.7v6.6h-14.7zM612.2 137.8h14.7v6.6h-14.7zM583.6 144.0h14.7v6.6h-14.7zM626.5 144.0h14.7v6.6h-14.7zM669.4 150.2h4.0v6.6h-4.0zM597.9 156.5h14.7v6.6h-14.7zM569.3 162.7h14.7v6.6h-14.7zM583.6 162.7h14.7v6.6h-14.7zM583.6 168.9h14.7v6.6h-14.7zM626.5 168.9h14.7v6.6h-14.7zM655.1 168.9h14.7v6.6h-14.7zM669.4 168.9h4.0v6.6h-4.0zM583.6 175.1h14.7v6.6h-14.7zM597.9 175.1h14.7v6.6h-14.7zM612.2 175.1h14.7v6.6h-14.7zM626.5 175.1h14.7v6.6h-14.7zM569.3 181.3h14.7v6.6h-14.7zM583.6 181.3h14.7v6.6h-14.7zM612.2 181.3h14.7v6.6h-14.7zM626.5 187.5h14.7v6.6h-14.7zM626.5 193.7h14.7v6.6h-14.7zM655.1 193.7h14.7v6.6h-14.7zM583.6 199.9h14.7v6.6h-14.7zM597.9 199.9h14.7v6.6h-14.7zM626.5 199.9h14.7v6.6h-14.7zM640.8 199.9h14.7v6.6h-14.7zM655.1 199.9h14.7v6.6h-14.7zM669.4 199.9h4.0v6.6h-4.0zM626.5 206.1h14.7v6.6h-14.7zM583.6 237.1h14.7v6.6h-14.7zM669.4 237.1h4.0v6.6h-4.0zM555.0 243.3h14.7v6.6h-14.7zM569.3 243.3h14.7v6.6h-14.7zM655.1 243.3h14.7v6.6h-14.7zM669.4 243.3h4.0v6.6h-4.0zM626.5 249.5h14.7v6.6h-14.7zM669.4 249.5h4.0v6.6h-4.0zM655.1 255.7h14.7v6.6h-14.7zM640.8 261.9h14.7v6.6h-14.7zM397.6 305.4h14.7v6.6h-14.7zM411.9 305.4h14.7v6.6h-14.7zM483.4 305.4h14.7v6.6h-14.7zM497.7 311.6h14.7v6.6h-14.7zM411.9 324.0h14.7v6.6h-14.7zM469.1 324.0h14.7v6.6h-14.7z"/><path fill="#e00" d="M640.8 100.6h14.7v6.6h-14.7zM569.3 119.2h14.7v6.6h-14.7zM583.6 119.2h14.7v6.6h-14.7zM612.2 119.2h14.7v6.6h-14.7zM626.5 119.2h14.7v6.6h-14.7zM640.8 119.2h14.7v6.6h-14.7zM655.1 119.2h14.7v6.6h-14.7zM669.4 131.6h4.0v6.6h-4.0zM626.5 137.8h14.7v6.6h-14.7zM569.3 144.0h14.7v6.6h-14.7zM612.2 144.0h14.7v6.6h-14.7zM655.1 144.0h14.7v6.6h-14.7zM612.2 156.5h14.7v6.6h-14.7zM655.1 156.5h14.7v6.6h-14.7zM669.4 162.7h4.0v6.6h-4.0zM612.2 168.9h14.7v6.6h-14.7zM612.2 187.5h14.7v6.6h-14.7zM655.1 187.5h14.7v6.6h-14.7zM640.8 255.7h14.7v6.6h-14.7zM669.4 255.7h4.0v6.6h-4.0zM454.8 305.4h14.7v6.6h-14.7zM469.1 305.4h14.7v6.6h-14.7zM497.7 305.4h14.7v6.6h-14.7z"/><path fill="#810" d="M555.0 113.0h14.7v6.6h-14.7zM640.8 150.2h14.7v6.6h-14.7zM497.7 330.2h14.7v6.6h-14.7zM397.6 348.8h14.7v6.6h-14.7zM440.5 348.8h14.7v6.6h-14.7z"/><path fill="#710" d="M526.4 119.2h14.7v6.6h-14.7zM454.8 336.4h14.7v6.6h-14.7z"/><path fill="#f00" d="M669.4 119.2h4.0v6.6h-4.0zM612.2 125.4h14.7v6.6h-14.7zM640.8 137.8h14.7v6.6h-14.7zM669.4 137.8h4.0v6.6h-4.0zM669.4 144.0h4.0v6.6h-4.0zM669.4 156.5h4.0v6.6h-4.0zM655.1 175.1h14.7v6.6h-14.7zM669.4 175.1h4.0v6.6h-4.0zM669.4 181.3h4.0v6.6h-4.0zM669.4 193.7h4.0v6.6h-4.0z"/><path fill="#1e0" d="M440.5 131.6h14.7v6.6h-14.7zM454.8 193.7h14.7v6.6h-14.7z"/><path fill="#b10" d="M569.3 131.6h14.7v6.6h-14.7z"/><path fill="#1d0" d="M483.4 144.0h14.7v6.6h-14.7zM411.9 181.3h14.7v6.6h-14.7zM454.8 224.7h14.7v6.6h-14.7zM483.4 237.1h14.7v6.6h-14.7z"/><path fill="#100" d="M526.4 150.2h14.7v6.6h-14.7z"/><path fill="#510" d="M526.4 156.5h14.7v6.6h-14.7zM540.7 268.1h14.7v6.6h-14.7zM555.0 268.1h14.7v6.6h-14.7zM555.0 286.8h14.7v6.6h-14.7z"/><path fill="#c10" d="M569.3 156.5h14.7v6.6h-14.7zM583.6 243.3h14.7v6.6h-14.7z"/><path fill="#e10" d="M640.8 187.5h14.7v6.6h-14.7zM612.2 243.3h14.7v6.6h-14.7z"/><path fill="#060" d="M397.6 218.5h14.7v6.6h-14.7zM397.6 224.7h14.7v6.6h-14.7zM383.3 249.5h14.7v6.6h-14.7zM397.6 249.5h14.7v6.6h-14.7zM397.6 261.9h14.7v6.6h-14.7zM397.6 268.1h14.7v6.6h-14.7zM411.9 268.1h14.7v6.6h-14.7zM411.9 274.3h14.7v6.6h-14.7zM383.3 280.5h14.7v6.6h-14.7zM397.6 280.5h14.7v6.6h-14.7zM540.7 311.6h14.7v6.6h-14.7zM626.5 311.6h14.7v6.6h-14.7zM655.1 311.6h14.7v6.6h-14.7zM555.0 317.8h14.7v6.6h-14.7zM569.3 342.6h14.7v6.6h-14.7zM626.5 342.6h14.7v6.6h-14.7zM569.3 348.8h14.7v6.6h-14.7z"/><path fill="#a10" d="M583.6 230.9h14.7v6.6h-14.7zM426.2 342.6h14.7v6.6h-14.7zM469.1 342.6h14.7v6.6h-14.7z"/><path fill="#110" d="M526.4 249.5h14.7v6.6h-14.7z"/><path fill="#620" d="M569.3 268.1h14.7v6.6h-14.7z"/><path fill="#410" d="M583.6 268.1h14.7v6.6h-14.7zM612.2 268.1h14.7v6.6h-14.7zM583.6 274.3h14.7v6.6h-14.7z"/><path fill="#520" d="M626.5 268.1h14.7v6.6h-14.7z"/><path fill="#170" d="M383.3 293.0h14.7v6.6h-14.7zM640.8 348.8h14.7v6.6h-14.7z"/><path fill="#530" d="M383.3 299.2h14.7v6.6h-14.7z"/><path fill="#820" d="M397.6 299.2h14.7v6.6h-14.7z"/><path fill="#730" d="M411.9 299.2h14.7v6.6h-14.7z"/><path fill="#560" d="M426.2 299.2h14.7v6.6h-14.7zM655.1 299.2h14.7v6.6h-14.7z"/><path fill="#850" d="M440.5 299.2h14.7v6.6h-14.7z"/><path fill="#750" d="M454.8 299.2h14.7v6.6h-14.7zM469.1 299.2h14.7v6.6h-14.7z"/><path fill="#660" d="M483.4 299.2h14.7v6.6h-14.7zM669.4 299.2h4.0v6.6h-4.0z"/><path fill="#860" d="M497.7 299.2h14.7v6.6h-14.7z"/><path fill="#650" d="M512.1 299.2h14.7v6.6h-14.7z"/><path fill="#040" d="M526.4 299.2h14.7v6.6h-14.7zM583.6 311.6h14.7v6.6h-14.7zM526.4 317.8h14.7v6.6h-14.7zM540.7 342.6h14.7v6.6h-14.7zM540.7 348.8h14.7v6.6h-14.7z"/><path fill="#330" d="M540.7 299.2h14.7v6.6h-14.7zM597.9 299.2h14.7v6.6h-14.7z"/><path fill="#450" d="M555.0 299.2h14.7v6.6h-14.7z"/><path fill="#120" d="M569.3 299.2h14.7v6.6h-14.7z"/><path fill="#550" d="M583.6 299.2h14.7v6.6h-14.7z"/><path fill="#340" d="M612.2 299.2h14.7v6.6h-14.7z"/><path fill="#440" d="M626.5 299.2h14.7v6.6h-14.7z"/><path fill="#240" d="M640.8 299.2h14.7v6.6h-14.7z"/><path fill="#1b0" d="M640.8 305.4h14.7v6.6h-14.7z"/><path fill="#180" d="M540.7 317.8h14.7v6.6h-14.7zM640.8 336.4h14.7v6.6h-14.7z"/><path fill="#610" d="M483.4 330.2h14.7v6.6h-14.7z"/><path fill="#190" d="M612.2 336.4h14.7v6.6h-14.7z"/><path fill="#030" d="M526.4 348.8h14.7v6.6h-14.7zM612.2 348.8h14.7v6.6h-14.7z"/></svg>
<svg id="dg" width="675" height="665" viewBox="0 0 675 665">
<g fill="none" stroke="#c4c4c4" stroke-width="0.5">
<path d="M46.0 60.1H49.0M46.0 60.1V66.5M49.0 60.1V66.5M47.5 51.3H52.1M47.5 51.3V60.1M52.1 51.3V66.5M61.2 65.1H64.2M61.2 65.1V66.5M64.2 65.1V66.5M58.1 63.2H62.7M58.1 63.2V66.5M62.7 63.2V65.1M67.2 66.2H70.3M67.2 66.2V66.5M70.3 66.2V66.5M68.8 66.1H73.3M68.8 66.1V66.2M73.3 66.1V66.5M71.0 65.4H76.3M71.0 65.4V66.1M76.3 65.4V66.5M82.4 66.5H85.4M82.4 66.5V66.5M85.4 66.5V66.5M83.9 66.4H88.5M83.9 66.4V66.5M88.5 66.4V66.5M86.2 66.3H91.5M86.2 66.3V66.4M91.5 66.3V66.5M79.4 66.1H88.8M79.4 66.1V66.5M88.8 66.1V66.3M84.1 65.7H94.5M84.1 65.7V66.1M94.5 65.7V66.5M97.6 65.5H100.6M97.6 65.5V66.5M100.6 65.5V66.5M89.3 64.7H99.1M89.3 64.7V65.7M99.1 64.7V65.5M73.7 63.2H94.2M73.7 63.2V65.4M94.2 63.2V64.7M106.6 66.4H109.7M106.6 66.4V66.5M109.7 66.4V66.5M108.2 66.4H112.7M108.2 66.4V66.4M112.7 66.4V66.5M118.8 66.4H121.8M118.8 66.4V66.5M121.8 66.4V66.5M115.7 66.4H120.3M115.7 66.4V66.5M120.3 66.4V66.4M124.8 66.4H127.9M124.8 66.4V66.5M127.9 66.4V66.5M118.0 66.3H126.4M118.0 66.3V66.4M126.4 66.3V66.4M110.4 66.2H122.2M110.4 66.2V66.4M122.2 66.2V66.3M130.9 66.3H133.9M130.9 66.3V66.5M133.9 66.3V66.5M116.3 65.9H132.4M116.3 65.9V66.2M132.4 65.9V66.3M137.0 66.5H140.0M137.0 66.5V66.5M140.0 66.5V66.5M146.1 66.5H149.1M146.1 66.5V66.5M149.1 66.5V66.5M152.1 66.5H155.2M152.1 66.5V66.5M155.2 66.5V66.5M147.6 66.5H153.6M147.6 66.5V66.5M153.6 66.5V66.5M143.0 66.4H150.6M143.0 66.4V66.5M150.6 66.4V66.5M138.5 66.3H146.8M138.5 66.3V66.5M146.8 66.3V66.4M164.2 66.5H167.3M164.2 66.5V66.5M167.3 66.5V66.5M161.2 66.5H165.8M161.2 66.5V66.5M165.8 66.5V66.5M163.5 66.4H170.3M163.5 66.4V66.5M170.3 66.4V66.5M158.2 66.3H166.9M158.2 66.3V66.5M166.9 66.3V66.4M162.5 66.3H173.3M162.5 66.3V66.3M173.3 66.3V66.5M142.6 66.2H167.9M142.6 66.2V66.3M167.9 66.2V66.3M124.4 65.5H155.3M124.4 65.5V65.9M155.3 65.5V66.2M103.6 64.9H139.8M103.6 64.9V66.5M139.8 64.9V65.5M176.4 66.1H179.4M176.4 66.1V66.5M179.4 66.1V66.5M121.7 64.5H177.9M121.7 64.5V64.9M177.9 64.5V66.1M83.9 60.6H149.8M83.9 60.6V63.2M149.8 60.6V64.5M60.4 57.3H116.9M60.4 57.3V63.2M116.9 57.3V60.6M55.1 53.3H88.6M55.1 53.3V66.5M88.6 53.3V57.3M185.5 61.3H188.5M185.5 61.3V66.5M188.5 61.3V66.5M182.4 55.5H187.0M182.4 55.5V66.5M187.0 55.5V61.3M71.9 50.1H184.7M71.9 50.1V53.3M184.7 50.1V55.5M49.8 46.6H128.3M49.8 46.6V51.3M128.3 46.6V50.1M200.6 64.7H203.7M200.6 64.7V66.5M203.7 64.7V66.5M202.1 63.5H206.7M202.1 63.5V64.7M206.7 63.5V66.5M215.8 66.4H218.8M215.8 66.4V66.5M218.8 66.4V66.5M212.8 66.2H217.3M212.8 66.2V66.5M217.3 66.2V66.4M227.9 66.4H230.9M227.9 66.4V66.5M230.9 66.4V66.5M224.9 66.4H229.4M224.9 66.4V66.5M229.4 66.4V66.4M234.0 66.5H237.0M234.0 66.5V66.5M237.0 66.5V66.5M235.5 66.4H240.0M235.5 66.4V66.5M240.0 66.4V66.5M243.1 66.4H246.1M243.1 66.4V66.5M246.1 66.4V66.5M237.8 66.4H244.6M237.8 66.4V66.4M244.6 66.4V66.4M227.2 66.3H241.2M227.2 66.3V66.4M241.2 66.3V66.4M221.8 66.2H234.2M221.8 66.2V66.5M234.2 66.2V66.3M252.2 66.5H255.2M252.2 66.5V66.5M255.2 66.5V66.5M249.1 66.4H253.7M249.1 66.4V66.5M253.7 66.4V66.5M258.2 66.5H261.3M258.2 66.5V66.5M261.3 66.5V66.5M259.7 66.4H264.3M259.7 66.4V66.5M264.3 66.4V66.5M251.4 66.4H262.0M251.4 66.4V66.4M262.0 66.4V66.4M228.0 66.0H256.7M228.0 66.0V66.2M256.7 66.0V66.4M215.0 65.9H242.4M215.0 65.9V66.2M242.4 65.9V66.0M267.3 66.2H270.4M267.3 66.2V66.5M270.4 66.2V66.5M279.4 66.5H282.5M279.4 66.5V66.5M282.5 66.5V66.5M281.0 66.4H285.5M281.0 66.4V66.5M285.5 66.4V66.5M297.6 66.5H300.7M297.6 66.5V66.5M300.7 66.5V66.5M294.6 66.5H299.2M294.6 66.5V66.5M299.2 66.5V66.5M291.6 66.5H296.9M291.6 66.5V66.5M296.9 66.5V66.5M288.5 66.5H294.2M288.5 66.5V66.5M294.2 66.5V66.5M303.7 66.5H306.7M303.7 66.5V66.5M306.7 66.5V66.5M291.4 66.4H305.2M291.4 66.4V66.5M305.2 66.4V66.5M312.8 66.5H315.8M312.8 66.5V66.5M315.8 66.5V66.5M309.8 66.4H314.3M309.8 66.4V66.5M314.3 66.4V66.5M298.3 66.4H312.0M298.3 66.4V66.4M312.0 66.4V66.4M283.2 66.3H305.2M283.2 66.3V66.4M305.2 66.3V66.4M276.4 66.3H294.2M276.4 66.3V66.5M294.2 66.3V66.3M273.4 66.2H285.3M273.4 66.2V66.5M285.3 66.2V66.3M268.8 65.9H279.3M268.8 65.9V66.2M279.3 65.9V66.2M228.7 65.4H274.1M228.7 65.4V65.9M274.1 65.4V65.9M209.7 64.3H251.4M209.7 64.3V66.5M251.4 64.3V65.4M318.9 65.6H321.9M318.9 65.6V66.5M321.9 65.6V66.5M324.9 66.3H328.0M324.9 66.3V66.5M328.0 66.3V66.5M326.4 66.0H331.0M326.4 66.0V66.3M331.0 66.0V66.5M320.4 65.0H328.7M320.4 65.0V65.6M328.7 65.0V66.0M230.6 60.6H324.5M230.6 60.6V64.3M324.5 60.6V65.0M204.4 56.0H277.5M204.4 56.0V63.5M277.5 56.0V60.6M197.6 53.8H241.0M197.6 53.8V66.5M241.0 53.8V56.0M194.6 51.1H219.3M194.6 51.1V66.5M219.3 51.1V53.8M191.5 43.4H206.9M191.5 43.4V66.5M206.9 43.4V51.1M89.0 27.1H199.2M89.0 27.1V46.6M199.2 27.1V43.4"/>
<path d="M403.0 63.5H406.5M403.0 63.5V65.0M406.5 63.5V65.0M404.8 62.0H410.1M404.8 62.0V63.5M410.1 62.0V65.0M428.0 62.6H431.6M428.0 62.6V65.0M431.6 62.6V65.0M424.4 62.0H429.8M424.4 62.0V65.0M429.8 62.0V62.6M453.0 62.0H456.6M453.0 62.0V65.0M456.6 62.0V65.0M474.5 63.9H478.1M474.5 63.9V65.0M478.1 63.9V65.0M476.3 62.0H481.7M476.3 62.0V63.9M481.7 62.0V65.0M488.8 62.7H492.4M488.8 62.7V65.0M492.4 62.7V65.0M485.2 62.0H490.6M485.2 62.0V65.0M490.6 62.0V62.7M496.0 63.0H499.5M496.0 63.0V65.0M499.5 63.0V65.0M497.7 62.0H503.1M497.7 62.0V63.0M503.1 62.0V65.0M521.0 63.5H524.6M521.0 63.5V65.0M524.6 63.5V65.0M517.4 62.5H522.8M517.4 62.5V65.0M522.8 62.5V63.5M513.8 61.5H520.1M513.8 61.5V65.0M520.1 61.5V62.5M510.3 60.4H517.0M510.3 60.4V65.0M517.0 60.4V61.5M506.7 60.3H513.6M506.7 60.3V65.0M513.6 60.3V60.4M500.4 59.8H510.2M500.4 59.8V62.0M510.2 59.8V60.3M487.9 59.5H505.3M487.9 59.5V62.0M505.3 59.5V59.8M479.0 59.4H496.6M479.0 59.4V62.0M496.6 59.4V59.5M470.9 59.3H487.8M470.9 59.3V65.0M487.8 59.3V59.4M467.3 58.5H479.4M467.3 58.5V65.0M479.4 58.5V59.3M463.8 58.4H473.4M463.8 58.4V65.0M473.4 58.4V58.5M460.2 57.9H468.6M460.2 57.9V65.0M468.6 57.9V58.4M454.8 57.7H464.4M454.8 57.7V62.0M464.4 57.7V57.9M449.5 57.3H459.6M449.5 57.3V65.0M459.6 57.3V57.7M445.9 56.9H454.5M445.9 56.9V65.0M454.5 56.9V57.3M442.3 56.8H450.2M442.3 56.8V65.0M450.2 56.8V56.9M438.7 56.1H446.3M438.7 56.1V65.0M446.3 56.1V56.8M435.2 55.6H442.5M435.2 55.6V65.0M442.5 55.6V56.1M427.1 55.4H438.8M427.1 55.4V62.0M438.8 55.4V55.6M420.9 55.2H433.0M420.9 55.2V65.0M433.0 55.2V55.4M417.3 55.0H426.9M417.3 55.0V65.0M426.9 55.0V55.2M413.7 54.3H422.1M413.7 54.3V65.0M422.1 54.3V55.0M407.4 54.1H417.9M407.4 54.1V62.0M417.9 54.1V54.3M399.4 53.9H412.7M399.4 53.9V65.0M412.7 53.9V54.1M395.8 53.7H406.0M395.8 53.7V65.0M406.0 53.7V53.9M392.2 53.0H400.9M392.2 53.0V65.0M400.9 53.0V53.7M388.7 52.8H396.6M388.7 52.8V65.0M396.6 52.8V53.0M385.1 52.2H392.6M385.1 52.2V65.0M392.6 52.2V52.8M528.1 60.0H531.7M528.1 60.0V65.0M531.7 60.0V65.0M556.8 62.0H560.3M556.8 62.0V65.0M560.3 62.0V65.0M585.4 62.9H589.0M585.4 62.9V65.0M589.0 62.9V65.0M581.8 62.0H587.2M581.8 62.0V65.0M587.2 62.0V62.9M599.7 62.0H603.3M599.7 62.0V65.0M603.3 62.0V65.0M614.0 62.9H617.6M614.0 62.9V65.0M617.6 62.9V65.0M610.4 62.0H615.8M610.4 62.0V65.0M615.8 62.0V62.9M646.2 63.6H649.8M646.2 63.6V65.0M649.8 63.6V65.0M642.6 62.3H648.0M642.6 62.3V65.0M648.0 62.3V63.6M667.6 63.5H671.2M667.6 63.5V65.0M671.2 63.5V65.0M664.1 63.5H669.4M664.1 63.5V65.0M669.4 63.5V63.5M660.5 62.7H666.7M660.5 62.7V65.0M666.7 62.7V63.5M656.9 62.5H663.6M656.9 62.5V65.0M663.6 62.5V62.7M653.3 61.7H660.3M653.3 61.7V65.0M660.3 61.7V62.5M645.3 61.6H656.8M645.3 61.6V62.3M656.8 61.6V61.7M639.0 61.5H651.0M639.0 61.5V65.0M651.0 61.5V61.6M635.4 60.9H645.0M635.4 60.9V65.0M645.0 60.9V61.5M631.9 60.5H640.2M631.9 60.5V65.0M640.2 60.5V60.9M628.3 60.4H636.1M628.3 60.4V65.0M636.1 60.4V60.5M624.7 60.0H632.2M624.7 60.0V65.0M632.2 60.0V60.4M621.1 59.9H628.4M621.1 59.9V65.0M628.4 59.9V60.0M613.1 59.7H624.8M613.1 59.7V62.0M624.8 59.7V59.9M606.8 59.6H618.9M606.8 59.6V65.0M618.9 59.6V59.7M601.5 59.0H612.9M601.5 59.0V62.0M612.9 59.0V59.6M596.1 58.5H607.2M596.1 58.5V65.0M607.2 58.5V59.0M592.5 58.4H601.6M592.5 58.4V65.0M601.6 58.4V58.5M584.5 58.1H597.1M584.5 58.1V62.0M597.1 58.1V58.4M578.2 58.0H590.8M578.2 58.0V65.0M590.8 58.0V58.1M574.6 57.2H584.5M574.6 57.2V65.0M584.5 57.2V58.0M571.1 56.9H579.6M571.1 56.9V65.0M579.6 56.9V57.2M567.5 56.4H575.3M567.5 56.4V65.0M575.3 56.4V56.9M563.9 55.8H571.4M563.9 55.8V65.0M571.4 55.8V56.4M558.6 55.1H567.7M558.6 55.1V62.0M567.7 55.1V55.8M553.2 54.9H563.1M553.2 54.9V65.0M563.1 54.9V55.1M549.6 54.5H558.1M549.6 54.5V65.0M558.1 54.5V54.9M546.0 54.3H553.9M546.0 54.3V65.0M553.9 54.3V54.5M542.5 53.7H550.0M542.5 53.7V65.0M550.0 53.7V54.3M538.9 53.2H546.2M538.9 53.2V65.0M546.2 53.2V53.7M535.3 52.5H542.5M535.3 52.5V65.0M542.5 52.5V53.2M529.9 49.9H538.9M529.9 49.9V60.0M538.9 49.9V52.5M388.9 27.3H534.4M388.9 27.3V52.2M534.4 27.3V49.9"/>
<path d="M42.5 83.8V85.1M42.5 83.8H44.3M42.5 85.1H44.3M39.8 82.6V84.5M39.8 82.6H44.3M39.8 84.5H42.5M41.5 115.9V117.1M41.5 115.9H44.3M41.5 117.1H44.3M43.5 98.6V99.9M43.5 98.6H44.3M43.5 99.9H44.3M43.5 96.2V97.4M43.5 96.2H44.3M43.5 97.4H44.3M43.4 87.5V86.3M43.4 87.5H44.3M43.4 86.3H44.3M43.4 88.8V86.9M43.4 88.8H44.3M43.4 86.9H43.4M43.4 90.0V87.8M43.4 90.0H44.3M43.4 87.8H43.4M43.4 91.2V88.9M43.4 91.2H44.3M43.4 88.9H43.4M43.4 92.5V90.1M43.4 92.5H44.3M43.4 90.1H43.4M43.3 93.7V91.3M43.3 93.7H44.3M43.3 91.3H43.4M43.3 94.9V92.5M43.3 94.9H44.3M43.3 92.5H43.3M43.3 96.8V93.7M43.3 96.8H43.5M43.3 93.7H43.3M43.2 99.2V95.2M43.2 99.2H43.5M43.2 95.2H43.3M43.2 101.1V97.2M43.2 101.1H44.3M43.2 97.2H43.2M43.2 102.3V99.2M43.2 102.3H44.3M43.2 99.2H43.2M43.1 103.5V100.7M43.1 103.5H44.3M43.1 100.7H43.2M43.1 104.8V102.1M43.1 104.8H44.3M43.1 102.1H43.1M42.6 106.0V103.5M42.6 106.0H44.3M42.6 103.5H43.1M42.3 107.2V104.7M42.3 107.2H44.3M42.3 104.7H42.6M41.6 108.5V106.0M41.6 108.5H44.3M41.6 106.0H42.3M41.5 109.7V107.2M41.5 109.7H44.3M41.5 107.2H41.6M41.1 110.9V108.5M41.1 110.9H44.3M41.1 108.5H41.5M41.0 112.2V109.7M41.0 112.2H44.3M41.0 109.7H41.1M40.9 113.4V110.9M40.9 113.4H44.3M40.9 110.9H41.0M40.7 114.6V112.2M40.7 114.6H44.3M40.7 112.2H40.9M40.3 116.5V113.4M40.3 116.5H41.5M40.3 113.4H40.7M40.1 118.3V114.9M40.1 118.3H44.3M40.1 114.9H40.3M40.0 119.6V116.6M40.0 119.6H44.3M40.0 116.6H40.1M39.9 120.8V118.1M39.9 120.8H44.3M39.9 118.1H40.0M39.8 122.0V119.4M39.8 122.0H44.3M39.8 119.4H39.9M39.0 123.3V120.7M39.0 123.3H44.3M39.0 120.7H39.8M38.8 124.5V122.0M38.8 124.5H44.3M38.8 122.0H39.0M38.7 125.7V123.2M38.7 125.7H44.3M38.7 123.2H38.8M38.6 126.9V124.5M38.6 126.9H44.3M38.6 124.5H38.7M38.5 128.2V125.7M38.5 128.2H44.3M38.5 125.7H38.6M38.3 129.4V126.9M38.3 129.4H44.3M38.3 126.9H38.5M38.2 130.6V128.2M38.2 130.6H44.3M38.2 128.2H38.3M38.0 131.9V129.4M38.0 131.9H44.3M38.0 129.4H38.2M37.9 133.1V130.6M37.9 133.1H44.3M37.9 130.6H38.0M37.8 134.3V131.9M37.8 134.3H44.3M37.8 131.9H37.9M37.6 135.6V133.1M37.6 135.6H44.3M37.6 133.1H37.8M37.4 136.8V134.3M37.4 136.8H44.3M37.4 134.3H37.6M37.3 138.0V135.6M37.3 138.0H44.3M37.3 135.6H37.4M31.5 83.5V136.8M31.5 83.5H39.8M31.5 136.8H37.3M41.6 145.4V146.6M41.6 145.4H44.3M41.6 146.6H44.3M40.3 144.2V146.0M40.3 144.2H44.3M40.3 146.0H41.6M41.3 354.8V356.0M41.3 354.8H44.3M41.3 356.0H44.3M41.3 347.4V348.6M41.3 347.4H44.3M41.3 348.6H44.3M41.3 344.9V346.1M41.3 344.9H44.3M41.3 346.1H44.3M41.3 342.4V343.7M41.3 342.4H44.3M41.3 343.7H44.3M41.3 337.5V338.7M41.3 337.5H44.3M41.3 338.7H44.3M42.4 335.1V336.3M42.4 335.1H44.3M42.4 336.3H44.3M41.3 333.8V335.7M41.3 333.8H44.3M41.3 335.7H42.4M43.3 330.1V331.4M43.3 330.1H44.3M43.3 331.4H44.3M41.3 330.7V332.6M41.3 330.7H43.3M41.3 332.6H44.3M42.7 317.8V319.0M42.7 317.8H44.3M42.7 319.0H44.3M43.7 309.2V310.4M43.7 309.2H44.3M43.7 310.4H44.3M44.0 300.6V301.8M44.0 300.6H44.3M44.0 301.8H44.3M43.7 299.3V301.2M43.7 299.3H44.3M43.7 301.2H44.0M44.1 292.0V293.2M44.1 292.0H44.3M44.1 293.2H44.3M43.8 290.7V292.6M43.8 290.7H44.3M43.8 292.6H44.1M43.8 285.8V287.0M43.8 285.8H44.3M43.8 287.0H44.3M44.0 278.4V279.6M44.0 278.4H44.3M44.0 279.6H44.3M43.9 277.2V279.0M43.9 277.2H44.3M43.9 279.0H44.0M43.9 274.7V275.9M43.9 274.7H44.3M43.9 275.9H44.3M44.0 268.6V269.8M44.0 268.6H44.3M44.0 269.8H44.3M43.9 267.3V269.2M43.9 267.3H44.3M43.9 269.2H44.0M43.9 261.2V262.4M43.9 261.2H44.3M43.9 262.4H44.3M44.1 257.5V258.7M44.1 257.5H44.3M44.1 258.7H44.3M44.0 256.2V258.1M44.0 256.2H44.3M44.0 258.1H44.1M44.0 251.3V252.5M44.0 251.3H44.3M44.0 252.5H44.3M44.0 248.9V250.1M44.0 248.9H44.3M44.0 250.1H44.3M44.0 245.2V246.4M44.0 245.2H44.3M44.0 246.4H44.3M44.0 242.7V243.9M44.0 242.7H44.3M44.0 243.9H44.3M44.0 240.2V241.5M44.0 240.2H44.3M44.0 241.5H44.3M44.2 234.1V235.3M44.2 234.1H44.3M44.2 235.3H44.3M44.0 232.8V234.7M44.0 232.8H44.3M44.0 234.7H44.2M44.1 218.1V219.3M44.1 218.1H44.3M44.1 219.3H44.3M44.2 214.4V215.6M44.2 214.4H44.3M44.2 215.6H44.3M44.1 213.1V215.0M44.1 213.1H44.3M44.1 215.0H44.2M44.1 195.9V197.1M44.1 195.9H44.3M44.1 197.1H44.3M44.1 192.2V193.4M44.1 192.2H44.3M44.1 193.4H44.3M44.3 186.1V187.3M44.3 186.1H44.3M44.3 187.3H44.3M44.2 186.7V188.5M44.2 186.7H44.3M44.2 188.5H44.3M44.2 181.1V182.4M44.2 181.1H44.3M44.2 182.4H44.3M44.3 170.0V171.3M44.3 170.0H44.3M44.3 171.3H44.3M44.2 168.8V170.7M44.2 168.8H44.3M44.2 170.7H44.3M44.2 163.9V165.1M44.2 163.9H44.3M44.2 165.1H44.3M44.3 160.2V161.4M44.3 160.2H44.3M44.3 161.4H44.3M44.2 160.8V162.7M44.2 160.8H44.3M44.2 162.7H44.3M44.2 157.7V159.0M44.2 157.7H44.3M44.2 159.0H44.3M44.2 156.5V158.3M44.2 156.5H44.3M44.2 158.3H44.2M44.2 149.1V147.9M44.2 149.1H44.3M44.2 147.9H44.3M44.2 150.3V148.5M44.2 150.3H44.3M44.2 148.5H44.2M44.2 151.6V149.4M44.2 151.6H44.3M44.2 149.4H44.2M44.2 152.8V150.5M44.2 152.8H44.3M44.2 150.5H44.2M44.2 154.0V151.7M44.2 154.0H44.3M44.2 151.7H44.2M44.2 155.3V152.8M44.2 155.3H44.3M44.2 152.8H44.2M44.2 157.4V154.1M44.2 157.4H44.2M44.2 154.1H44.2M44.2 161.7V155.7M44.2 161.7H44.2M44.2 155.7H44.2M44.2 164.5V158.7M44.2 164.5H44.2M44.2 158.7H44.2M44.2 166.4V161.6M44.2 166.4H44.3M44.2 161.6H44.2M44.2 167.6V164.0M44.2 167.6H44.3M44.2 164.0H44.2M44.2 169.7V165.8M44.2 169.7H44.2M44.2 165.8H44.2M44.2 172.5V167.8M44.2 172.5H44.3M44.2 167.8H44.2M44.1 173.7V170.1M44.1 173.7H44.3M44.1 170.1H44.2M44.1 175.0V171.9M44.1 175.0H44.3M44.1 171.9H44.1M44.1 176.2V173.5M44.1 176.2H44.3M44.1 173.5H44.1M44.1 177.4V174.8M44.1 177.4H44.3M44.1 174.8H44.1M44.1 178.7V176.1M44.1 178.7H44.3M44.1 176.1H44.1M44.1 179.9V177.4M44.1 179.9H44.3M44.1 177.4H44.1M44.1 181.7V178.6M44.1 181.7H44.2M44.1 178.6H44.1M44.1 183.6V180.2M44.1 183.6H44.3M44.1 180.2H44.1M44.1 184.8V181.9M44.1 184.8H44.3M44.1 181.9H44.1M44.1 187.6V183.4M44.1 187.6H44.2M44.1 183.4H44.1M44.1 189.7V185.5M44.1 189.7H44.3M44.1 185.5H44.1M44.1 191.0V187.6M44.1 191.0H44.3M44.1 187.6H44.1M44.1 192.8V189.3M44.1 192.8H44.1M44.1 189.3H44.1M44.1 194.7V191.1M44.1 194.7H44.3M44.1 191.1H44.1M44.1 196.5V192.9M44.1 196.5H44.1M44.1 192.9H44.1M44.1 198.4V194.7M44.1 198.4H44.3M44.1 194.7H44.1M44.1 199.6V196.5M44.1 199.6H44.3M44.1 196.5H44.1M44.1 200.8V198.1M44.1 200.8H44.3M44.1 198.1H44.1M44.1 202.1V199.4M44.1 202.1H44.3M44.1 199.4H44.1M44.1 203.3V200.8M44.1 203.3H44.3M44.1 200.8H44.1M44.1 204.5V202.0M44.1 204.5H44.3M44.1 202.0H44.1M44.1 205.8V203.3M44.1 205.8H44.3M44.1 203.3H44.1M44.1 207.0V204.5M44.1 207.0H44.3M44.1 204.5H44.1M44.1 208.2V205.7M44.1 208.2H44.3M44.1 205.7H44.1M44.1 209.4V207.0M44.1 209.4H44.3M44.1 207.0H44.1M44.0 210.7V208.2M44.0 210.7H44.3M44.0 208.2H44.1M44.0 211.9V209.4M44.0 211.9H44.3M44.0 209.4H44.0M44.0 214.1V210.7M44.0 214.1H44.1M44.0 210.7H44.0M44.0 216.8V212.4M44.0 216.8H44.3M44.0 212.4H44.0M44.0 218.7V214.6M44.0 218.7H44.1M44.0 214.6H44.0M44.0 220.5V216.6M44.0 220.5H44.3M44.0 216.6H44.0M44.0 221.8V218.6M44.0 221.8H44.3M44.0 218.6H44.0M44.0 223.0V220.2M44.0 223.0H44.3M44.0 220.2H44.0M44.0 224.2V221.6M44.0 224.2H44.3M44.0 221.6H44.0M44.0 225.5V222.9M44.0 225.5H44.3M44.0 222.9H44.0M44.0 226.7V224.2M44.0 226.7H44.3M44.0 224.2H44.0M44.0 227.9V225.4M44.0 227.9H44.3M44.0 225.4H44.0M44.0 229.2V226.7M44.0 229.2H44.3M44.0 226.7H44.0M44.0 230.4V227.9M44.0 230.4H44.3M44.0 227.9H44.0M44.0 231.6V229.1M44.0 231.6H44.3M44.0 229.1H44.0M44.0 233.8V230.4M44.0 233.8H44.0M44.0 230.4H44.0M43.9 236.5V232.1M43.9 236.5H44.3M43.9 232.1H44.0M43.9 237.8V234.3M43.9 237.8H44.3M43.9 234.3H43.9M43.9 239.0V236.0M43.9 239.0H44.3M43.9 236.0H43.9M43.9 240.8V237.5M43.9 240.8H44.0M43.9 237.5H43.9M43.9 243.3V239.2M43.9 243.3H44.0M43.9 239.2H43.9M43.9 245.8V241.2M43.9 245.8H44.0M43.9 241.2H43.9M43.9 247.6V243.5M43.9 247.6H44.3M43.9 243.5H43.9M43.9 249.5V245.6M43.9 249.5H44.0M43.9 245.6H43.9M43.9 251.9V247.5M43.9 251.9H44.0M43.9 247.5H43.9M43.9 253.8V249.7M43.9 253.8H44.3M43.9 249.7H43.9M43.9 255.0V251.8M43.9 255.0H44.3M43.9 251.8H43.9M43.9 257.2V253.4M43.9 257.2H44.0M43.9 253.4H43.9M43.9 259.9V255.3M43.9 259.9H44.3M43.9 255.3H43.9M43.8 261.8V257.6M43.8 261.8H43.9M43.8 257.6H43.9M43.8 263.6V259.7M43.8 263.6H44.3M43.8 259.7H43.8M43.8 264.9V261.7M43.8 264.9H44.3M43.8 261.7H43.8M43.8 266.1V263.3M43.8 266.1H44.3M43.8 263.3H43.8M43.8 268.2V264.7M43.8 268.2H43.9M43.8 264.7H43.8M43.8 271.0V266.5M43.8 271.0H44.3M43.8 266.5H43.8M43.8 272.2V268.7M43.8 272.2H44.3M43.8 268.7H43.8M43.8 273.5V270.5M43.8 273.5H44.3M43.8 270.5H43.8M43.8 275.3V272.0M43.8 275.3H43.9M43.8 272.0H43.8M43.8 278.1V273.7M43.8 278.1H43.9M43.8 273.7H43.8M43.7 280.9V275.9M43.7 280.9H44.3M43.7 275.9H43.8M43.7 282.1V278.4M43.7 282.1H44.3M43.7 278.4H43.7M43.7 283.3V280.2M43.7 283.3H44.3M43.7 280.2H43.7M43.7 284.6V281.8M43.7 284.6H44.3M43.7 281.8H43.7M43.7 286.4V283.2M43.7 286.4H43.8M43.7 283.2H43.7M43.7 288.3V284.8M43.7 288.3H44.3M43.7 284.8H43.7M43.7 289.5V286.5M43.7 289.5H44.3M43.7 286.5H43.7M43.7 291.6V288.0M43.7 291.6H43.8M43.7 288.0H43.7M43.6 294.4V289.8M43.6 294.4H44.3M43.6 289.8H43.7M43.6 295.6V292.1M43.6 295.6H44.3M43.6 292.1H43.6M43.6 296.9V293.9M43.6 296.9H44.3M43.6 293.9H43.6M43.6 298.1V295.4M43.6 298.1H44.3M43.6 295.4H43.6M43.6 300.3V296.7M43.6 300.3H43.7M43.6 296.7H43.6M43.6 303.0V298.5M43.6 303.0H44.3M43.6 298.5H43.6M43.6 304.3V300.8M43.6 304.3H44.3M43.6 300.8H43.6M43.5 305.5V302.5M43.5 305.5H44.3M43.5 302.5H43.6M43.5 306.7V304.0M43.5 306.7H44.3M43.5 304.0H43.5M43.5 308.0V305.4M43.5 308.0H44.3M43.5 305.4H43.5M43.5 309.8V306.7M43.5 309.8H43.7M43.5 306.7H43.5M43.1 311.7V308.2M43.1 311.7H44.3M43.1 308.2H43.5M42.4 312.9V309.9M42.4 312.9H44.3M42.4 309.9H43.1M42.4 314.1V311.4M42.4 314.1H44.3M42.4 311.4H42.4M42.4 315.3V312.8M42.4 315.3H44.3M42.4 312.8H42.4M42.3 316.6V314.1M42.3 316.6H44.3M42.3 314.1H42.4M41.8 318.4V315.3M41.8 318.4H42.7M41.8 315.3H42.3M41.5 320.3V316.9M41.5 320.3H44.3M41.5 316.9H41.8M41.5 321.5V318.6M41.5 321.5H44.3M41.5 318.6H41.5M41.4 322.7V320.0M41.4 322.7H44.3M41.4 320.0H41.5M40.7 324.0V321.4M40.7 324.0H44.3M40.7 321.4H41.4M40.5 325.2V322.7M40.5 325.2H44.3M40.5 322.7H40.7M40.4 326.4V323.9M40.4 326.4H44.3M40.4 323.9H40.5M40.3 327.7V325.2M40.3 327.7H44.3M40.3 325.2H40.4M40.3 328.9V326.4M40.3 328.9H44.3M40.3 326.4H40.3M40.2 331.7V327.7M40.2 331.7H41.3M40.2 327.7H40.3M40.1 334.7V329.7M40.1 334.7H41.3M40.1 329.7H40.2M39.9 338.1V332.2M39.9 338.1H41.3M39.9 332.2H40.1M39.8 340.0V335.2M39.8 340.0H44.3M39.8 335.2H39.9M39.3 341.2V337.6M39.3 341.2H44.3M39.3 337.6H39.8M38.8 343.1V339.4M38.8 343.1H41.3M38.8 339.4H39.3M38.5 345.5V341.2M38.5 345.5H41.3M38.5 341.2H38.8M38.4 348.0V343.4M38.4 348.0H41.3M38.4 343.4H38.5M38.3 349.8V345.7M38.3 349.8H44.3M38.3 345.7H38.4M37.9 351.1V347.8M37.9 351.1H44.3M37.9 347.8H38.3M37.8 352.3V349.4M37.8 352.3H44.3M37.8 349.4H37.9M37.6 353.5V350.8M37.6 353.5H44.3M37.6 350.8H37.8M37.5 355.4V352.2M37.5 355.4H41.3M37.5 352.2H37.6M36.5 145.1V353.8M36.5 145.1H40.3M36.5 353.8H37.5M43.5 140.5V141.7M43.5 140.5H44.3M43.5 141.7H44.3M41.8 139.3V141.1M41.8 139.3H44.3M41.8 141.1H43.5M40.8 140.2V143.0M40.8 140.2H41.8M40.8 143.0H44.3M2.5 123.1H31.5M2.5 123.1V354.2M2.5 354.2H36.5"/>
<path d="M381.0 83.2V84.1M381.0 83.2H382.8M381.0 84.1H382.8M378.8 82.4V83.7M378.8 82.4H382.8M378.8 83.7H381.0M381.1 293.4V294.2M381.1 293.4H382.8M381.1 294.2H382.8M379.8 292.5V293.8M379.8 292.5H382.8M379.8 293.8H381.1M380.8 289.2V290.1M380.8 289.2H382.8M380.8 290.1H382.8M379.8 289.6V290.9M379.8 289.6H380.8M379.8 290.9H382.8M381.4 283.4V284.3M381.4 283.4H382.8M381.4 284.3H382.8M380.2 282.6V283.9M380.2 282.6H382.8M380.2 283.9H381.4M381.0 281.0V281.8M381.0 281.0H382.8M381.0 281.8H382.8M380.3 280.1V281.4M380.3 280.1H382.8M380.3 281.4H381.0M381.4 274.3V275.2M381.4 274.3H382.8M381.4 275.2H382.8M382.0 267.7V268.6M382.0 267.7H382.8M382.0 268.6H382.8M382.4 265.2V266.1M382.4 265.2H382.8M382.4 266.1H382.8M382.1 264.4V265.7M382.1 264.4H382.8M382.1 265.7H382.4M382.1 262.8V263.6M382.1 262.8H382.8M382.1 263.6H382.8M382.1 260.3V261.1M382.1 260.3H382.8M382.1 261.1H382.8M382.6 256.1V257.0M382.6 256.1H382.8M382.6 257.0H382.8M382.2 256.6V257.8M382.2 256.6H382.6M382.2 257.8H382.8M382.2 254.5V255.3M382.2 254.5H382.8M382.2 255.3H382.8M382.4 252.8V253.7M382.4 252.8H382.8M382.4 253.7H382.8M382.2 252.0V253.2M382.2 252.0H382.8M382.2 253.2H382.4M382.6 237.1V237.9M382.6 237.1H382.8M382.6 237.9H382.8M382.4 237.5V238.8M382.4 237.5H382.6M382.4 238.8H382.8M382.5 233.8V234.6M382.5 233.8H382.8M382.5 234.6H382.8M382.4 233.0V234.2M382.4 233.0H382.8M382.4 234.2H382.5M382.4 230.5V231.3M382.4 230.5H382.8M382.4 231.3H382.8M382.4 224.7V225.5M382.4 224.7H382.8M382.4 225.5H382.8M382.5 222.2V223.1M382.5 222.2H382.8M382.5 223.1H382.8M382.6 218.9V219.7M382.6 218.9H382.8M382.6 219.7H382.8M382.5 218.1V219.3M382.5 218.1H382.8M382.5 219.3H382.6M382.6 216.4V217.3M382.6 216.4H382.8M382.6 217.3H382.8M382.5 215.6V216.8M382.5 215.6H382.8M382.5 216.8H382.6M382.6 209.0V209.8M382.6 209.0H382.8M382.6 209.8H382.8M382.5 208.2V209.4M382.5 208.2H382.8M382.5 209.4H382.6M382.6 205.7V206.5M382.6 205.7H382.8M382.6 206.5H382.8M382.5 206.1V207.3M382.5 206.1H382.6M382.5 207.3H382.8M382.6 201.5V202.4M382.6 201.5H382.8M382.6 202.4H382.8M382.7 199.9V200.7M382.7 199.9H382.8M382.7 200.7H382.8M382.6 199.1V200.3M382.6 199.1H382.8M382.6 200.3H382.7M382.6 197.4V198.2M382.6 197.4H382.8M382.6 198.2H382.8M382.6 194.1V194.9M382.6 194.1H382.8M382.6 194.9H382.8M382.6 192.4V193.3M382.6 192.4H382.8M382.6 193.3H382.8M382.7 184.2V185.0M382.7 184.2H382.8M382.7 185.0H382.8M382.6 183.3V184.6M382.6 183.3H382.8M382.6 184.6H382.7M382.6 181.7V182.5M382.6 181.7H382.8M382.6 182.5H382.8M382.7 178.4V179.2M382.7 178.4H382.8M382.7 179.2H382.8M382.6 177.6V178.8M382.6 177.6H382.8M382.6 178.8H382.7M382.6 173.4V174.2M382.6 173.4H382.8M382.6 174.2H382.8M382.7 170.9V171.8M382.7 170.9H382.8M382.7 171.8H382.8M382.6 171.3V172.6M382.6 171.3H382.7M382.6 172.6H382.8M382.7 166.0V166.8M382.7 166.0H382.8M382.7 166.8H382.8M382.7 166.4V167.6M382.7 166.4H382.7M382.7 167.6H382.8M382.7 157.7V158.5M382.7 157.7H382.8M382.7 158.5H382.8M382.7 156.9V158.1M382.7 156.9H382.8M382.7 158.1H382.7M382.8 152.7V153.6M382.8 152.7H382.8M382.8 153.6H382.8M382.7 153.1V154.4M382.7 153.1H382.8M382.7 154.4H382.8M382.8 150.2V151.1M382.8 150.2H382.8M382.8 151.1H382.8M382.7 149.4V150.7M382.7 149.4H382.8M382.7 150.7H382.8M382.8 137.8V138.7M382.8 137.8H382.8M382.8 138.7H382.8M382.7 137.0V138.3M382.7 137.0H382.8M382.7 138.3H382.8M382.8 128.7V129.6M382.8 128.7H382.8M382.8 129.6H382.8M382.7 129.2V130.4M382.7 129.2H382.8M382.7 130.4H382.8M382.8 125.4V126.3M382.8 125.4H382.8M382.8 126.3H382.8M382.7 125.8V127.1M382.7 125.8H382.8M382.7 127.1H382.8M382.7 123.8V124.6M382.7 123.8H382.8M382.7 124.6H382.8M382.8 119.6V120.5M382.8 119.6H382.8M382.8 120.5H382.8M382.7 120.1V121.3M382.7 120.1H382.8M382.7 121.3H382.8M382.8 110.5V111.4M382.8 110.5H382.8M382.8 111.4H382.8M382.7 111.0V112.2M382.7 111.0H382.8M382.7 112.2H382.8M382.7 108.9V109.7M382.7 108.9H382.8M382.7 109.7H382.8M382.8 107.2V108.1M382.8 107.2H382.8M382.8 108.1H382.8M382.8 103.9V104.8M382.8 103.9H382.8M382.8 104.8H382.8M382.8 103.1V104.3M382.8 103.1H382.8M382.8 104.3H382.8M382.8 100.6V101.4M382.8 100.6H382.8M382.8 101.4H382.8M382.8 101.0V102.3M382.8 101.0H382.8M382.8 102.3H382.8M382.8 98.1V99.0M382.8 98.1H382.8M382.8 99.0H382.8M382.8 93.2V94.0M382.8 93.2H382.8M382.8 94.0H382.8M382.8 92.3V93.6M382.8 92.3H382.8M382.8 93.6H382.8M382.8 85.7V84.9M382.8 85.7H382.8M382.8 84.9H382.8M382.8 86.5V85.3M382.8 86.5H382.8M382.8 85.3H382.8M382.8 87.4V85.9M382.8 87.4H382.8M382.8 85.9H382.8M382.8 88.2V86.7M382.8 88.2H382.8M382.8 86.7H382.8M382.8 89.0V87.4M382.8 89.0H382.8M382.8 87.4H382.8M382.8 89.9V88.2M382.8 89.9H382.8M382.8 88.2H382.8M382.8 90.7V89.0M382.8 90.7H382.8M382.8 89.0H382.8M382.8 91.5V89.9M382.8 91.5H382.8M382.8 89.9H382.8M382.7 93.0V90.7M382.7 93.0H382.8M382.7 90.7H382.8M382.7 94.8V91.8M382.7 94.8H382.8M382.7 91.8H382.7M382.7 95.7V93.3M382.7 95.7H382.8M382.7 93.3H382.7M382.7 96.5V94.5M382.7 96.5H382.8M382.7 94.5H382.7M382.7 97.3V95.5M382.7 97.3H382.8M382.7 95.5H382.7M382.7 98.5V96.4M382.7 98.5H382.8M382.7 96.4H382.7M382.7 99.8V97.5M382.7 99.8H382.8M382.7 97.5H382.7M382.7 101.6V98.6M382.7 101.6H382.8M382.7 98.6H382.7M382.7 103.7V100.1M382.7 103.7H382.8M382.7 100.1H382.7M382.7 105.6V101.9M382.7 105.6H382.8M382.7 101.9H382.7M382.7 106.4V103.8M382.7 106.4H382.8M382.7 103.8H382.7M382.7 107.6V105.1M382.7 107.6H382.8M382.7 105.1H382.7M382.7 109.3V106.4M382.7 109.3H382.7M382.7 106.4H382.7M382.7 111.6V107.8M382.7 111.6H382.7M382.7 107.8H382.7M382.7 113.0V109.7M382.7 113.0H382.8M382.7 109.7H382.7M382.7 113.8V111.4M382.7 113.8H382.8M382.7 111.4H382.7M382.7 114.7V112.6M382.7 114.7H382.8M382.7 112.6H382.7M382.7 115.5V113.6M382.7 115.5H382.8M382.7 113.6H382.7M382.7 116.3V114.6M382.7 116.3H382.8M382.7 114.6H382.7M382.7 117.2V115.5M382.7 117.2H382.8M382.7 115.5H382.7M382.7 118.0V116.3M382.7 118.0H382.8M382.7 116.3H382.7M382.7 118.8V117.1M382.7 118.8H382.8M382.7 117.1H382.7M382.7 120.7V118.0M382.7 120.7H382.7M382.7 118.0H382.7M382.7 122.1V119.3M382.7 122.1H382.8M382.7 119.3H382.7M382.7 123.0V120.7M382.7 123.0H382.8M382.7 120.7H382.7M382.7 124.2V121.8M382.7 124.2H382.7M382.7 121.8H382.7M382.7 126.5V123.0M382.7 126.5H382.7M382.7 123.0H382.7M382.7 127.9V124.7M382.7 127.9H382.8M382.7 124.7H382.7M382.7 129.8V126.3M382.7 129.8H382.7M382.7 126.3H382.7M382.7 131.2V128.1M382.7 131.2H382.8M382.7 128.1H382.7M382.7 132.1V129.6M382.7 132.1H382.8M382.7 129.6H382.7M382.7 132.9V130.8M382.7 132.9H382.8M382.7 130.8H382.7M382.7 133.7V131.9M382.7 133.7H382.8M382.7 131.9H382.7M382.7 134.5V132.8M382.7 134.5H382.8M382.7 132.8H382.7M382.7 135.4V133.7M382.7 135.4H382.8M382.7 133.7H382.7M382.7 136.2V134.5M382.7 136.2H382.8M382.7 134.5H382.7M382.7 137.6V135.3M382.7 137.6H382.7M382.7 135.3H382.7M382.7 139.5V136.5M382.7 139.5H382.8M382.7 136.5H382.7M382.7 140.3V138.0M382.7 140.3H382.8M382.7 138.0H382.7M382.7 141.2V139.2M382.7 141.2H382.8M382.7 139.2H382.7M382.7 142.0V140.2M382.7 142.0H382.8M382.7 140.2H382.7M382.7 142.8V141.1M382.7 142.8H382.8M382.7 141.1H382.7M382.7 143.6V141.9M382.7 143.6H382.8M382.7 141.9H382.7M382.7 144.5V142.8M382.7 144.5H382.8M382.7 142.8H382.7M382.7 145.3V143.6M382.7 145.3H382.8M382.7 143.6H382.7M382.7 146.1V144.5M382.7 146.1H382.8M382.7 144.5H382.7M382.7 146.9V145.3M382.7 146.9H382.8M382.7 145.3H382.7M382.7 147.8V146.1M382.7 147.8H382.8M382.7 146.1H382.7M382.7 148.6V146.9M382.7 148.6H382.8M382.7 146.9H382.7M382.7 150.0V147.8M382.7 150.0H382.7M382.7 147.8H382.7M382.7 151.9V148.9M382.7 151.9H382.8M382.7 148.9H382.7M382.7 153.8V150.4M382.7 153.8H382.7M382.7 150.4H382.7M382.7 155.2V152.1M382.7 155.2H382.8M382.7 152.1H382.7M382.7 156.0V153.6M382.7 156.0H382.8M382.7 153.6H382.7M382.7 157.5V154.8M382.7 157.5H382.7M382.7 154.8H382.7M382.6 159.3V156.2M382.6 159.3H382.8M382.6 156.2H382.7M382.6 160.2V157.8M382.6 160.2H382.8M382.6 157.8H382.6M382.6 161.0V159.0M382.6 161.0H382.8M382.6 159.0H382.6M382.6 161.8V160.0M382.6 161.8H382.8M382.6 160.0H382.6M382.6 162.7V160.9M382.6 162.7H382.8M382.6 160.9H382.6M382.6 163.5V161.8M382.6 163.5H382.8M382.6 161.8H382.6M382.6 164.3V162.6M382.6 164.3H382.8M382.6 162.6H382.6M382.6 165.1V163.5M382.6 165.1H382.8M382.6 163.5H382.6M382.6 167.0V164.3M382.6 167.0H382.7M382.6 164.3H382.6M382.6 168.4V165.7M382.6 168.4H382.8M382.6 165.7H382.6M382.6 169.3V167.1M382.6 169.3H382.8M382.6 167.1H382.6M382.6 170.1V168.2M382.6 170.1H382.8M382.6 168.2H382.6M382.6 172.0V169.1M382.6 172.0H382.6M382.6 169.1H382.6M382.6 173.8V170.6M382.6 173.8H382.6M382.6 170.6H382.6M382.6 175.1V172.2M382.6 175.1H382.8M382.6 172.2H382.6M382.6 175.9V173.6M382.6 175.9H382.8M382.6 173.6H382.6M382.6 176.7V174.8M382.6 176.7H382.8M382.6 174.8H382.6M382.6 178.2V175.7M382.6 178.2H382.6M382.6 175.7H382.6M382.6 180.0V177.0M382.6 180.0H382.8M382.6 177.0H382.6M382.6 180.9V178.5M382.6 180.9H382.8M382.6 178.5H382.6M382.6 182.1V179.7M382.6 182.1H382.6M382.6 179.7H382.6M382.6 184.0V180.9M382.6 184.0H382.6M382.6 180.9H382.6M382.6 185.8V182.4M382.6 185.8H382.8M382.6 182.4H382.6M382.6 186.7V184.1M382.6 186.7H382.8M382.6 184.1H382.6M382.6 187.5V185.4M382.6 187.5H382.8M382.6 185.4H382.6M382.5 188.3V186.4M382.5 188.3H382.8M382.5 186.4H382.6M382.5 189.1V187.4M382.5 189.1H382.8M382.5 187.4H382.5M382.5 190.0V188.3M382.5 190.0H382.8M382.5 188.3H382.5M382.5 190.8V189.1M382.5 190.8H382.8M382.5 189.1H382.5M382.5 191.6V189.9M382.5 191.6H382.8M382.5 189.9H382.5M382.5 192.9V190.8M382.5 192.9H382.6M382.5 190.8H382.5M382.5 194.5V191.8M382.5 194.5H382.6M382.5 191.8H382.5M382.5 195.8V193.2M382.5 195.8H382.8M382.5 193.2H382.5M382.5 196.6V194.5M382.5 196.6H382.8M382.5 194.5H382.5M382.5 197.8V195.5M382.5 197.8H382.6M382.5 195.5H382.5M382.5 199.7V196.7M382.5 199.7H382.6M382.5 196.7H382.5M382.5 202.0V198.2M382.5 202.0H382.6M382.5 198.2H382.5M382.5 203.2V200.1M382.5 203.2H382.8M382.5 200.1H382.5M382.5 204.0V201.6M382.5 204.0H382.8M382.5 201.6H382.5M382.5 204.8V202.8M382.5 204.8H382.8M382.5 202.8H382.5M382.5 206.7V203.8M382.5 206.7H382.5M382.5 203.8H382.5M382.5 208.8V205.3M382.5 208.8H382.5M382.5 205.3H382.5M382.4 210.6V207.0M382.4 210.6H382.8M382.4 207.0H382.5M382.4 211.5V208.8M382.4 211.5H382.8M382.4 208.8H382.4M382.4 212.3V210.2M382.4 212.3H382.8M382.4 210.2H382.4M382.4 213.1V211.2M382.4 213.1H382.8M382.4 211.2H382.4M382.4 213.9V212.2M382.4 213.9H382.8M382.4 212.2H382.4M382.4 214.8V213.1M382.4 214.8H382.8M382.4 213.1H382.4M382.4 216.2V213.9M382.4 216.2H382.5M382.4 213.9H382.4M382.4 218.7V215.1M382.4 218.7H382.5M382.4 215.1H382.4M382.4 220.6V216.9M382.4 220.6H382.8M382.4 216.9H382.4M382.4 221.4V218.7M382.4 221.4H382.8M382.4 218.7H382.4M382.4 222.6V220.1M382.4 222.6H382.5M382.4 220.1H382.4M382.4 223.9V221.3M382.4 223.9H382.8M382.4 221.3H382.4M382.3 225.1V222.6M382.3 225.1H382.4M382.3 222.6H382.4M382.3 226.4V223.9M382.3 226.4H382.8M382.3 223.9H382.3M382.3 227.2V225.1M382.3 227.2H382.8M382.3 225.1H382.3M382.3 228.0V226.1M382.3 228.0H382.8M382.3 226.1H382.3M382.3 228.8V227.1M382.3 228.8H382.8M382.3 227.1H382.3M382.3 229.7V228.0M382.3 229.7H382.8M382.3 228.0H382.3M382.3 230.9V228.8M382.3 230.9H382.4M382.3 228.8H382.3M382.3 232.2V229.9M382.3 232.2H382.8M382.3 229.9H382.3M382.3 233.6V231.0M382.3 233.6H382.4M382.3 231.0H382.3M382.3 235.5V232.3M382.3 235.5H382.8M382.3 232.3H382.3M382.2 236.3V233.9M382.2 236.3H382.8M382.2 233.9H382.3M382.2 238.1V235.1M382.2 238.1H382.4M382.2 235.1H382.2M382.2 239.6V236.6M382.2 239.6H382.8M382.2 236.6H382.2M382.2 240.4V238.1M382.2 240.4H382.8M382.2 238.1H382.2M382.2 241.2V239.3M382.2 241.2H382.8M382.2 239.3H382.2M382.2 242.1V240.3M382.2 242.1H382.8M382.2 240.3H382.2M382.2 242.9V241.2M382.2 242.9H382.8M382.2 241.2H382.2M382.2 243.7V242.0M382.2 243.7H382.8M382.2 242.0H382.2M382.1 244.6V242.9M382.1 244.6H382.8M382.1 242.9H382.2M382.1 245.4V243.7M382.1 245.4H382.8M382.1 243.7H382.1M382.1 246.2V244.6M382.1 246.2H382.8M382.1 244.6H382.1M382.1 247.0V245.4M382.1 247.0H382.8M382.1 245.4H382.1M382.1 247.9V246.2M382.1 247.9H382.8M382.1 246.2H382.1M382.1 248.7V247.0M382.1 248.7H382.8M382.1 247.0H382.1M382.1 249.5V247.9M382.1 249.5H382.8M382.1 247.9H382.1M382.0 250.3V248.7M382.0 250.3H382.8M382.0 248.7H382.1M382.0 251.2V249.5M382.0 251.2H382.8M382.0 249.5H382.0M382.0 252.6V250.3M382.0 252.6H382.2M382.0 250.3H382.0M382.0 254.9V251.5M382.0 254.9H382.2M382.0 251.5H382.0M382.0 257.2V253.2M382.0 257.2H382.2M382.0 253.2H382.0M382.0 258.6V255.2M382.0 258.6H382.8M382.0 255.2H382.0M381.9 259.4V256.9M381.9 259.4H382.8M381.9 256.9H382.0M381.9 260.7V258.2M381.9 260.7H382.1M381.9 258.2H381.9M381.9 261.9V259.4M381.9 261.9H382.8M381.9 259.4H381.9M381.9 263.2V260.7M381.9 263.2H382.1M381.9 260.7H381.9M381.9 265.0V261.9M381.9 265.0H382.1M381.9 261.9H381.9M381.9 266.9V263.5M381.9 266.9H382.8M381.9 263.5H381.9M381.8 268.1V265.2M381.8 268.1H382.0M381.8 265.2H381.9M381.8 269.4V266.7M381.8 269.4H382.8M381.8 266.7H381.8M381.8 270.2V268.0M381.8 270.2H382.8M381.8 268.0H381.8M381.5 271.0V269.1M381.5 271.0H382.8M381.5 269.1H381.8M381.1 271.9V270.1M381.1 271.9H382.8M381.1 270.1H381.5M381.1 272.7V271.0M381.1 272.7H382.8M381.1 271.0H381.1M381.0 273.5V271.8M381.0 273.5H382.8M381.0 271.8H381.1M380.7 274.8V272.7M380.7 274.8H381.4M380.7 272.7H381.0M380.5 276.0V273.7M380.5 276.0H382.8M380.5 273.7H380.7M380.4 276.8V274.9M380.4 276.8H382.8M380.4 274.9H380.5M379.8 277.6V275.8M379.8 277.6H382.8M379.8 275.8H380.4M379.7 278.5V276.7M379.7 278.5H382.8M379.7 276.7H379.8M379.7 279.3V277.6M379.7 279.3H382.8M379.7 277.6H379.7M379.6 280.8V278.5M379.6 280.8H380.3M379.6 278.5H379.7M379.2 283.2V279.6M379.2 283.2H380.2M379.2 279.6H379.6M379.2 285.1V281.4M379.2 285.1H382.8M379.2 281.4H379.2M378.5 285.9V283.3M378.5 285.9H382.8M378.5 283.3H379.2M378.4 286.8V284.6M378.4 286.8H382.8M378.4 284.6H378.5M378.0 287.6V285.7M378.0 287.6H382.8M378.0 285.7H378.4M377.3 288.4V286.6M377.3 288.4H382.8M377.3 286.6H378.0M376.8 290.3V287.5M376.8 290.3H379.8M376.8 287.5H377.3M376.7 291.7V288.9M376.7 291.7H382.8M376.7 288.9H376.8M376.0 293.2V290.3M376.0 293.2H379.8M376.0 290.3H376.7M375.9 295.0V291.7M375.9 295.0H382.8M375.9 291.7H376.0M375.5 295.9V293.4M375.5 295.9H382.8M375.5 293.4H375.9M375.4 296.7V294.6M375.4 296.7H382.8M375.4 294.6H375.5M375.2 297.5V295.6M375.2 297.5H382.8M375.2 295.6H375.4M374.8 298.3V296.6M374.8 298.3H382.8M374.8 296.6H375.2M372.2 83.0V297.5M372.2 83.0H378.8M372.2 297.5H374.8M381.8 300.8V301.6M381.8 300.8H382.8M381.8 301.6H382.8M380.7 301.2V302.5M380.7 301.2H381.8M380.7 302.5H382.8M378.7 300.0V301.8M378.7 300.0H382.8M378.7 301.8H380.7M377.6 299.2V300.9M377.6 299.2H382.8M377.6 300.9H378.7M375.3 300.0V303.3M375.3 300.0H377.6M375.3 303.3H382.8M368.4 248.3V303.2M368.4 248.3H372.2M368.4 303.2H375.3M381.3 304.9V305.8M381.3 304.9H382.8M381.3 305.8H382.8M379.8 304.1V305.4M379.8 304.1H382.8M379.8 305.4H381.3M381.6 306.6V307.4M381.6 306.6H382.8M381.6 307.4H382.8M379.8 307.0V308.3M379.8 307.0H381.6M379.8 308.3H382.8M381.3 310.7V311.6M381.3 310.7H382.8M381.3 311.6H382.8M379.8 309.9V311.2M379.8 309.9H382.8M379.8 311.2H381.3M379.8 313.2V314.1M379.8 313.2H382.8M379.8 314.1H382.8M380.6 316.5V317.4M380.6 316.5H382.8M380.6 317.4H382.8M379.8 315.7V316.9M379.8 315.7H382.8M379.8 316.9H380.6M380.5 324.0V324.8M380.5 324.0H382.8M380.5 324.8H382.8M379.8 323.1V324.4M379.8 323.1H382.8M379.8 324.4H380.5M379.9 326.5V327.3M379.9 326.5H382.8M379.9 327.3H382.8M381.4 329.8V330.6M381.4 329.8H382.8M381.4 330.6H382.8M380.3 328.9V330.2M380.3 328.9H382.8M380.3 330.2H381.4M381.8 332.2V333.1M381.8 332.2H382.8M381.8 333.1H382.8M380.7 332.7V333.9M380.7 332.7H381.8M380.7 333.9H382.8M382.1 346.3V347.1M382.1 346.3H382.8M382.1 347.1H382.8M382.1 348.0V348.8M382.1 348.0H382.8M382.1 348.8H382.8M381.9 350.4V351.3M381.9 350.4H382.8M381.9 351.3H382.8M381.9 349.6V350.9M381.9 349.6H382.8M381.9 350.9H381.9M381.9 348.4V350.2M381.9 348.4H382.1M381.9 350.2H381.9M381.9 346.7V349.3M381.9 346.7H382.1M381.9 349.3H381.9M381.9 345.5V348.0M381.9 345.5H382.8M381.9 348.0H381.9M381.9 344.7V346.8M381.9 344.7H382.8M381.9 346.8H381.9M381.8 343.8V345.7M381.8 343.8H382.8M381.8 345.7H381.9M381.8 343.0V344.8M381.8 343.0H382.8M381.8 344.8H381.8M381.8 342.2V343.9M381.8 342.2H382.8M381.8 343.9H381.8M381.6 341.4V343.0M381.6 341.4H382.8M381.6 343.0H381.8M381.1 340.5V342.2M381.1 340.5H382.8M381.1 342.2H381.6M381.1 339.7V341.4M381.1 339.7H382.8M381.1 341.4H381.1M381.1 338.9V340.5M381.1 338.9H382.8M381.1 340.5H381.1M381.0 338.0V339.7M381.0 338.0H382.8M381.0 339.7H381.1M381.0 337.2V338.9M381.0 337.2H382.8M381.0 338.9H381.0M380.5 336.4V338.0M380.5 336.4H382.8M380.5 338.0H381.0M380.5 335.6V337.2M380.5 335.6H382.8M380.5 337.2H380.5M380.2 334.7V336.4M380.2 334.7H382.8M380.2 336.4H380.5M379.8 333.3V335.6M379.8 333.3H380.7M379.8 335.6H380.2M379.7 331.4V334.4M379.7 331.4H382.8M379.7 334.4H379.8M379.3 329.6V332.9M379.3 329.6H380.3M379.3 332.9H379.7M379.2 328.1V331.2M379.2 328.1H382.8M379.2 331.2H379.3M378.9 326.9V329.7M378.9 326.9H379.9M378.9 329.7H379.2M378.6 325.6V328.3M378.6 325.6H382.8M378.6 328.3H378.9M378.5 323.8V327.0M378.5 323.8H379.8M378.5 327.0H378.6M377.9 322.3V325.4M377.9 322.3H382.8M377.9 325.4H378.5M377.8 321.5V323.8M377.8 321.5H382.8M377.8 323.8H377.9M377.7 320.7V322.7M377.7 320.7H382.8M377.7 322.7H377.8M377.5 319.8V321.7M377.5 319.8H382.8M377.5 321.7H377.7M377.4 319.0V320.8M377.4 319.0H382.8M377.4 320.8H377.5M377.3 318.2V319.9M377.3 318.2H382.8M377.3 319.9H377.4M377.2 316.3V319.0M377.2 316.3H379.8M377.2 319.0H377.3M377.1 314.9V317.7M377.1 314.9H382.8M377.1 317.7H377.2M377.0 313.6V316.3M377.0 313.6H379.8M377.0 316.3H377.1M376.3 312.4V315.0M376.3 312.4H382.8M376.3 315.0H377.0M375.8 310.5V313.7M375.8 310.5H379.8M375.8 313.7H376.3M375.7 309.1V312.1M375.7 309.1H382.8M375.7 312.1H375.8M375.4 307.6V310.6M375.4 307.6H379.8M375.4 310.6H375.7M375.3 304.7V309.1M375.3 304.7H379.8M375.3 309.1H375.4M381.9 352.1V352.9M381.9 352.1H382.8M381.9 352.9H382.8M381.6 353.8V354.6M381.6 353.8H382.8M381.6 354.6H382.8M379.8 352.5V354.2M379.8 352.5H381.9M379.8 354.2H381.6M372.3 306.9V353.3M372.3 306.9H375.3M372.3 353.3H379.8M341.0 276.6H368.4M341.0 276.6V351.9M341.0 351.9H372.3"/>
<path d="M385.1 356.2V358.8M388.7 356.2V358.8M392.2 356.2V358.8M395.8 356.2V358.8M399.4 356.2V358.8M403.0 356.2V358.8M406.5 356.2V358.8M410.1 356.2V358.8M413.7 356.2V358.8M417.3 356.2V358.8M420.9 356.2V358.8M424.4 356.2V358.8M428.0 356.2V358.8M431.6 356.2V358.8M435.2 356.2V358.8M438.7 356.2V358.8M442.3 356.2V358.8M445.9 356.2V358.8M449.5 356.2V358.8M453.0 356.2V358.8M456.6 356.2V358.8M460.2 356.2V358.8M463.8 356.2V358.8M467.3 356.2V358.8M470.9 356.2V358.8M474.5 356.2V358.8M478.1 356.2V358.8M481.7 356.2V358.8M485.2 356.2V358.8M488.8 356.2V358.8M492.4 356.2V358.8M496.0 356.2V358.8M499.5 356.2V358.8M503.1 356.2V358.8M506.7 356.2V358.8M510.3 356.2V358.8M513.8 356.2V358.8M517.4 356.2V358.8M521.0 356.2V358.8M524.6 356.2V358.8M528.1 356.2V358.8M531.7 356.2V358.8M535.3 356.2V358.8M538.9 356.2V358.8M542.5 356.2V358.8M546.0 356.2V358.8M549.6 356.2V358.8M553.2 356.2V358.8M556.8 356.2V358.8M560.3 356.2V358.8M563.9 356.2V358.8M567.5 356.2V358.8M571.1 356.2V358.8M574.6 356.2V358.8M578.2 356.2V358.8M581.8 356.2V358.8M585.4 356.2V358.8M589.0 356.2V358.8M592.5 356.2V358.8M596.1 356.2V358.8M599.7 356.2V358.8M603.3 356.2V358.8M606.8 356.2V358.8M610.4 356.2V358.8M614.0 356.2V358.8M617.6 356.2V358.8M621.1 356.2V358.8M624.7 356.2V358.8M628.3 356.2V358.8M631.9 356.2V358.8M635.4 356.2V358.8M639.0 356.2V358.8M642.6 356.2V358.8M646.2 356.2V358.8M649.8 356.2V358.8M653.3 356.2V358.8M656.9 356.2V358.8M660.5 356.2V358.8M664.1 356.2V358.8M667.6 356.2V358.8M671.2 356.2V358.8" stroke="#c8c8c8"/>
</g>
</svg>
<svg width="675" height="665" viewBox="0 0 675 665">
<circle cx="299.6" cy="539.3" r="99" fill="#f07a8a" stroke="#dc5a70" stroke-width="1"/>
<circle cx="353.8" cy="539.7" r="121" fill="#17a6e8" fill-opacity="0.56" stroke="#2a9fd8" stroke-opacity="0.5" stroke-width="0.8"/>
<text class="t" x="60.7" y="463.7" font-size="8.5" textLength="163.5" lengthAdjust="spacingAndGlyphs">Differentially expressed genes from male</text>
<text class="t" x="443.4" y="448.4" font-size="8.5" textLength="172" lengthAdjust="spacingAndGlyphs">Differentially expressed genes from female</text>
<text class="t" x="211.4" y="543.1" font-size="9" stroke="#000" stroke-width="0.25">12</text>
<text class="t" x="308.1" y="543.2" font-size="9" stroke="#000" stroke-width="0.25">211</text>
<text class="t" x="429.8" y="543.2" font-size="9" stroke="#000" stroke-width="0.25">119</text>
</svg>
<script>
(function(){
var P=[{"x": 44.5, "y": 82.0, "w": 288.0, "h": 274.6, "nc": 95, "nr": 223, "d": "UUUUUTQUUUUUUUUUUURUUUUUUUUUUOUUUUUUUUUUUUUUUUUUUUUUcUUbbecmocoYoonYooooohonnkoUomVooYojXhXVdUPUSJUPUGONUDHUFUUUSUNLQUUOUTUULUSUUPUUPUTRUUTNSUJUUaViUodaomoooohooloooloijokoooeooUoooAoUhadiaQSRUUUUQUTURUTKUOUUUSURUUUUPUTUUUUUUNUUUUUUUUQUUSUUbWoUgVnfjoononooeoooVokomoooooooeoooeoaUYgoUKJQIEPKHARMDFEFNURHSAPKSCQKAJHPOKTMPMEMJRMOLHPLAMKHkUoUYYoXjmomoooooooIooooooooooVoooXoooYajaZUOATAAAAAAAAAAARCGAQAPBAMAAFABQEABAAAFAAGIAAPAAAACOPeboUUcmooonooooooooooooooloonoooobooboiYndoeUTPFENUURQIGNBLRMRUTGUPUUUULGMUTMSLNKMQUUAUgUPKIGILlZcWUklooomogoooooooooooleaclooojjkoiofUeUZVNUHROUUUUUUPUNUTUTUUSSUUUUUSORUUUUUUUUUUURUUUHUJSUOaUbUeoooollUgooooooloooodZiikZoooglooobUceWeOUROUULRKUULRSURUUUUTQMUSUUQMUJUUUPJUUUSUUUUUMUNURNUUXZeflnlooomnoooXaoojooofoiooiooooooiUUdnnZPUUORUAUUUUTUNUPUUUUUURUUPUUUUUUUUUJOUURQTUOUUUUUUTUUUUcUoieoofnaoWoojnoooolkomnicoooaoocUbihofTUUUUUUOPSUUUUUUUUUUURUUUUUUUUUUUUUUUUUcTUUUUUUUUUUUYUVUUoWjojodWliooohooookkooooZlomloofUYdUeUMUUUUUULIGESKBGAUBSQAAPIPHAGQLGKMNNELNLUAQCMPUUUUUUUUVaUbknlohohhooomUnlooojooooiooooooooUYkhdaOZXLJOSAAAGCAIKATAIGHBSKAAAEKBAMAMRAAGCTAAOATQSDNTUUZbdYnWinomZojooooobjWoXhoooonooooooooUobbkUUfkQCQTAAUCAABJFOFAAAACAAAAAREABAATACAATAUJABKELQNTUehdbngoooeoooooVoooWoXoooooWeooooooooUkoighNZoTQRUFAAUAAEAEMNACAHPDACAARABAAASCAAGUAAUABGHISUUfVaUWbooholfomolhoonooobonMoojiomoooooVjafZmGYfISOUSSLCGEQDEUSCAAGUNAAFMRAQFAANBDEHOQAUAALSHUUUYUbUUVookboZolokgoobkYoeoXoZoogoooookoaWloXiSkmADCHAAJAACBAATAAAAACGAAABLAAGAABAHAASAAHDAAEGFSQoVoooooimoooooooooooooonioooooooooooWoamXooXTkdAAHGAPGAAAAAAUAAAAARFGAGQMAAHACDADAARJOIBAAUHGIJooohoooooXooWoooooooooooaooooWolbkUoaobooVonDokSEAABAAAAAAAAbAAPAAAANAAAIBAAAAJACAAQFABAAAAAAAAjoooooiooooooooooooooaoooXoooooolooooodgaoohUacLQCNAAAUASAFOUAAACOIADAAIQHACQDKBTAAUIGFJAcUIQDNkooooogoooooooooooohYooooWooWkoonoonoaVUoocgQZnAAUKAAAAAAAAJHAAAAALAAAAAKEAAGAATAAASKADBACNDAFGooooooooooooooooooooooUooooiooooooooooWbolQFIVYDGCKACAAAFEEAUBQAAALAEAEBLAAIAAEAJAUPLAFLAPQLPOUoooooooojoooonooooooooooiooaoooooomoooUXXKoBHjoCLAEAANAAAAAAUAAAAANANBGDIQAAAAKAKAAJLBAEAKNFOMJoooiooooonooooooooVoooooooomkooooooomoZXXNoATXWIUNlAAAHOAAAAOAACHATAUCTIKMHHAAUAGAAUCAAAOFYXCORooooookjomokoooooHooaonWoololmoooooooViXVAcdSMAAAACTAQAAAAAAAAANAAQCTFAAAAAHAABAEAABAAADAMZocAaXooooookooooooomoooWVooooooonooonoooookYGHcMAKADRQPFAIAPAFAACAAADAANUESATDFTFJTAHPALMAIAAMcoYKToloooooooooooooooooonooooooiooooaoWogolVebOnAUUUURMURSURUUTUUUOUUNUUUUUUSPUUUURUUUSUUUUMTPlbYocloolooiioooocnooooooiooofoojoooooleofmWlfoYoAURQUSOOUNUROUQUUUOUUQOSUUUTPUSUUUTUPMUSOUUMSBgiViEnoaooofolooooooooIoohYojoooiooooookhZiUYAoToCOPPOOTINNUOUNSSPPPUSUUORUKUOSSUUURSQSUOURURQXSeoJPloiooojnfoomoookoohoooooooZoooooojolooUaAoNmAPLAFNTOCBRKLBDLUSOFOGMPHALFONGNJbTCRMUQTTSIJbVdmJeomiooVXonjooooojooooboooooooofooooloioUWFoYOCcaDKUUQFNTKUEKOTITSIPENUOPGQSGLPUGAUHUUPBOKLjOfSLboUVmoojooonoooonooomoooooXooodohoodoaoZbaPeCKhoBGLMAPLPGPAGSDQILHCAHUTSAJJDAAPCAIARPFAAJRYiTMAdooVooooooknooooXoojnoooohmooochojomofohnZYfcLooAABAADIAAAAPBBCQABAATDAAAKAAAAOAAAAABATIDAZVGMARoYooooooogooooooomoooaoooooYoVnoooooojlhQPoPRdkBAFDDIMAALCECDGJFADROLHGTIAGMAJAAQRANSPRIEoGVCFTodojoooZooohooooooonoooooooooooVoooomojWMeZOFbYNNPLPNMHDUHIMMPKUGRQUMHMPOUTTMNHHURAIUUUTPfRkAQRojoaoofokoooomooYonoXXooooonooofZmVooobhUoajFUVNUUPUOQRLUIRLSULUPKSPQLQJOUKOTHGQLIHAUQUURXdcAahofodolYoiaolohoohooooioooaoooIooYeUoooUUoKVXRooRSAAAAADAAAAEAABQTAAGBAOAACAHAABAAAAAEALIACZOYYVooohkoUoooUooooooohooooooooooooolneokZVUohigTRJRIFPUJPMPODEEQJHURATOMPUNJSPTJUKQKTKPQSORFHlCXTRfYooooUkoooooonooalifhoooooVolooohfonXUUXodZIFAGAAAIUAEADAAORAUBERAFDGGOABAFAFSBJDBARAFARPoaiWVoWooooiooooooooooWoooiooooVoooooooooooWVWaXjFOSQNQOUNKUTSMGTUUUUSKPUUMTIQTSUOPOOUNRUMUSUQZgQgcQoioooomcfojoeooooooooooknoodkiooVYokooUaVUWUQDSAGDGAQISNFAAEIGBGOBUIPFAABDANJHAFLPCQADAQARkLWjPoooonooaloikooooooolomooooVeoooookooooXoodZUUKHAJAIBETEKAQAIPKERNAPKUTBGGPDUTLNAJKTUQUCGCeNVIRMoooekokooookooZooookooonoelYoinonoooooUoooUYUAAAEEKEALOAAANBTGELIRAFKDCAJACLFMCTHCHEGNCIISLgDHFookdhoZoooooooooooooooooolooooXohoooooXdoomXUAOAAAAAAAAAAAAAAAAFAAAAAAAAAAAAAAAAAAABSAASAATMPdFoomdoooVoooXooooooWVooooooooooooooholoUjXVbjULGCAAAADBJACAAAATAMAAAAGABSAAFAAFAGCSDCOACADPWfaoeoooooohkoohoooloohooeooookooZoonoooooXacboaZOAAAAAAPAAAAAfAAAAAAAAAAAOAAAAAAAAAAAAAAAAAAAZSolZUomWhVomoooooAoloooooooZoUocoojooofooooUiYgUhOAAAAAAAgAAAAAAAAAAAAAAAAAAAAAAAAAAAAAAAAAAAAHRQeSQbZooomfooooooooUooooooXooooooooookooWoZWeeUlJHAHAAAAAAAAADAAAGOATAAABAAAAHACAAAAPAADBAAAHHLOcdJooWoooboooonoooiohoooooaoooooooaaoooooUiZVUaKULNERKABBTHGICCQPSOCESMJQPCDNKUOGMRUQHPSDHERQIAQQUomioooolooooooooooooooooaoooooooajmodoZgmVlUHkUPLUUNUTROSTQQUUTURPSUUUUUUUSUUUQRUUURUTSNUNFPUCROUPFAAADAGAAAAAANACAAAAAAAUAAAAAUAFPEAJAAAAHMUlojoXgXhoonlooXiladiYhcobYbZgWVVegUVZaUZXoUfoakNGUUUAAAAAAAARAAAAAAAAAAAAAEUAAEAARHJAAAAEAAADBnjoZooooofooooomYoomWoojooooWocolmnZoVbbjooiVoooSAOUHAAABDAAAAAAAAAAASOAANAACUAAGDAAAAAAAMAAAAAYUgkoWcejYkaonoZdWnhgjjUeUYlUUUeiVZUWUbVUUoVeXYoGUPUQPAAEHAAAAAAABAAAAAAAASADCAADAPBOAAAAHAAAASbZjeeWUeXXaenogcYebiaibUcVjZYfVbXjUbiXcaXVoegYWlIRFUAMAAAAHACAAAAAAAAAAAAAAAAAAAAADAAABAFAAAAAAcnVeWhUfaclUojbaZcboeWfWXbUhkoXogfUYocVVhcoeiWioEGRUSIOAAAAAAAAAAAAAAAAAASAAQAAAAAAAAAAARAAAAAAUYUbWUUUYUdXeZUUUUViZUUUUeeUfVafXUYUWXWUcUUCUUXgAUTPUGAAJACAAAAAAAAAAAAAAAAAAAAAAAAEAAEAAAAAAEGUVUYUYUUUUUWUUaUUWUVWVUWUUUVaUUUUUUUVZUUUUUWUWUZAUKOUQAAIAAAAHAGAAAAACADAEAEIBASDCEKAAAAIABHAHHUaVWUYUWXUUeaWUUVUadbUWNUUXVUZUZUVUUYUUVUUZgUcVXCUSRSOAAAJAAANAJAAADAAHAAGAAALARAAJBAAABAJDAAATZoimffdeiiokjjWUXXYooVjjlmlmUeebghYghUXaoenYUlhaAGAUOAAAAAAAAAAGAAAAAAAAAMAAAAAEAARAAAAAAAAAAAEUWblXcUhcanZbUUUcUUkZWUUgfgYUbWXUeiZaZYUUVjaZedWMHARLAAADDAAQAAAAAAAAAAAABAAEAPAAAAAAAAAEAAAAAQVUXZUfUfeYbUVWVZbeaZYdUabUcdUXWaYcUUZYaUUUfYUWhUOAFMEAAAQPAABAAAAAAAAAAAAAAEAEAAAAAAAAAAKAATAAUYZjZWbXbocVdlmcZWkfYofamZihjjhceaWZbhnZUdXoaajgYKAMAACAAEEAABFSAAAAAAACOAAAAAAADQAAAAAAAFAAAAALVbVUZUXhWYadbdUWZUYhaVacffeYbfVYXZUXmcZUUUaUUUZUSJFLANAAAAAAADAAAAAAeAIOAAAACAALASBAAAAASACAAADcZUbcUXaYddjhgdVkaXmWlmaafeZbhYbYYXVBefacXaUaYVWTJMMACAABAAAAAAQAAAAAAAAAAADAAAMAAANAAAAUBAAAHQUhUcUYUVUUUWUVUUYcUkUXUUXXVabbWUWZUUWWacfUUUYUaWUSRNHBAACAAIAIAAADAKAAAAADAAAAFADAAAAAAAUGAAADRUZUVVZWXaUUWVWUUdMUgaUUUWUVWYUUbUWZWWYKUWbXUYWlUUQKRMGAAGAAJDHGAAgAFALHFDBIAAHNAAADGAACAUFAAARDUUaUeYXdXXVVmZabbfZikYYZgdUXZUeVUkUUZZoZXagZYaaWTTPRLAAAHAAFAHAAAAQAACQAAAAAAAAAAACDAAAAPOAANAAVYYUZYVXUVeVacUUUdUUXXUUXWVcUYUUUXUUUUUVUUUUUXXYTUURUAAALFDATJANAABAAGAAATAAUEAFAFIMBAAAPAAAACCfYkkooooooojooZUhljooomoohoohoghjoelnokhoibdWUYgKNUTQAAATUEAGOAUADTQAAAAPAAAOMAUPJANHAAACAPIAFAbWaoomogohmhoYXWhkfooXjogloolkbgfogkooljhZmdUUmYOOQQSDAAKLOALIRUARAAAASHAGAAARAUQESFAANFAJBSFIGfjbooooooooXoonkoolooooooooZooooooooooboomoaXmoZADITQAAAASDAAAAKAAAAAAAAADNABAUHUAFACARAACAAAAQWdXloomooboooehWnoeocjoobKooogkonkoknoodjjaUUaekUQIPINAAKNPAQAERJAUCADAATLKABKEFRAEEIBAAEAHABDAWWcoonoioiZoofoVoofooooooooonofokjlokbogofochWjkOBFSRUAAQBAAAJPGDAAAAARASJCBAQASFAEFOADAPTHSIHAXehooooknooooUmlooooooooookoooVoooooonokokokodgnBCBLAKAJHDAAAAJKATAAACOAAAAAIAALAADPEADAOAAGARQUekooobemXkoncdUgonooooooofoookfomonmoodlkUYXmWcIMMURKAAUDPBURCSAACTANPAACOENAGJRAAQTAAISAeAAANaafoooojiooobkkcXokkFooolokoooookoooooonfnYghXgaPAAURADAUAlCNUAAQITAMSPQNATSSAAQSOGBGAAGUAALAARXfUoooooooooookhooooomooooYoooooiooooonnllVWoeWcPASQNEAAOAAAAKAAADALKAPNAQRJAROGOOFAUAPAPPABAMBUiYnoooomjooogYdoinnohmmlmnoooclgommlljfooYUZaUfHURUAUAAANAAAIHHAIADQHOPAKAJJCOUUNSAFCIGUNBAARDbecoooolkoonolXaoWlooeklodaoooehlnhjohdboWXZlUbhQUAIOJAAIPQQAOOAQAAATMKSAAIALEHUTKMSPJUDLMAAAOTehkoooonnoooohclokiooomooiooooooooolooooooUVmaohOUAUKOAAEFMAASAATATASDNAACSAANAAAAAGAKFEJKFQDUFWhjcjknaoloooUaUooVoknhmocmZmoegilgiooeooaVYdUhYQUTUSHUTBUOGARAGROAUAAOAAUUANRAEACLUFASLUPEAACLfciiionkooooolgaoojooodookoooooeYoonoonomcciXUcoAUFUEBQAADAIAAAUOQANAAAcAJUACMAQCEAOTADQKAQAAOJaVZUcokgkamogUbaohdmomZlloioYjkYWlgZfolljiUdUUUVJUUTAARASNALABKIAAQTURHAAPKPANPUAUAJIAMQUAFQLLNXbUffofZjboojUaUooioldidfofoZmjmblhigkXmkfUWUUUbIUQUAAAASUKIRMOGAAAATNSGNUKQRPAPTAAHTANKUEAHUATbYcooVooooooodjfooooonodoooooooonooooomoookUUlVmbBLTAAAAFOAGRPAEAAAEAALAAITAFAAAAAAAFABHEAANADFfabokoooZoooofhgoojoooohlooomonmfoooooooooiUceUoQCSHADQAPPEIAQAAAOAHAAFARDARIANBDDQEAUQAMDAAATMdWcooooooooooomNoofooonlnooooooofooooooloofUjZYnSARSAAAACHIIADKTAAAADAUTAAASPPAAIIEANADBRAAMAQAVfhooooooooooolooooooooJooooooooooooooooooiciZbjUDCTOIAAATEQAAFAAADAAQTAAALCLPAAARAACAAAOAGHAEAUZemonooolnoZbZmkoloooioiooogoeoonoclhjogoZiaUafKARUURANALQBAKJAAATARAAACMROGAMAAPAIMAMAMAHMASAZYnZoooooVoooabYoojomogjoooooomoUoamohnkmoamUUbcDEKUPHAAASOCAABAAIAPAAAQAPBAHAIQAEEAAAHABAACAUGmcWoomolohoooVUUooooookkonoXoanhoonoookfooUVaUhVLNIUMHAALSFHDAAFAIFRAAAOAMBAGHFFAALTAAOAABJAANTgXcoomoolmoloVVUoeooohjoocookoobokonooocoaYWUUiUQNTROSAAOdSACAAHGFTMAAAUAFKAAAUEOADAEDCABUAUAHUbaeooooonoooofjUilloonoXonoooWoojoojoXomoifZUWiZFUAeQQAADUAAAAFGRDLIACAAAFGSAAUCSAGJDPGADGAGPEUfdXooooZnooooooWnoooooooooooooooooooooooojXhnoooASAUAGAAJAAAAAEBKGAAAAAAAFAQAJROUAgFAAQAIAAAAHNchgooooogooooolXoooooYoooonooloooioooomnonkVoZmoADCQLASASAAAAAAACNAATACAAAACPIAAATKAAEIADAADRKQXZdoXmboWoookeUUhonooogoojfooojfoeokooXioobaUXaYSOJKAAAAUOOAAIAIAEHRMAAAAAOMADAAQOUGEHBAGRALADQYjUooooooooooYhWeooWooknonVZooeoooomoohoooYomcoeLEADCAAAUDJBAEAJACAICAAAADUKAAAAAURPAAGRAHARCFAUneooooomooooofXhooooooooomooomooooloooooooafZaUQACLTOUBUBLAAAAAAAAHAATBAMDOAAAAPJMIAAQAABAGHOAUjmboooooooooaomoooooooooooooooooooooooooooffWooPFUURUUQUPAAAOBABUAOARRADJAAPGBAAAAADAUBKAADEHAeekoooXooooooomooooooFooooooooooooooooooooUooloVHPSRAUPURASAAIAAAHAAAAIAAOAAAMAAADAAAAAMAAEHAAOXVfooooooonoooflooZoomoooooooooooooXooonooXeoXloODISJUACTATNAAAAOUADUAOCDAAAAFRSUQBSABUOSRAHAALZcdoooookogooFloonXoonooaoooooooooofoooloehUegclNEAUPUPTURACAAAPAPEOPAGNAIAGPSATAFAAEAEJRADHHAOVheoUkoooogmojjioofoooooooooooookoohoooYoaWUZUUbASBULEDEIRAEAIRUACPANAARFIANAKAFAACAEAPNGBPADFQUZemMhoolfimoaYYKkkMeookllohligednaeooobfkZXUaYaAUNUUPLRQBANHLMKAAJDARDTAKIMHNAAFNFAUCASUAAACURUkeoooWoooooonhcoooooYonoooooomoloooooonoocUlgnoTRAOLLUASTAIABHAAATAUAAEAUADAAAARAHAUQOLUAAAAUHUccooojojoomZaZUoofhooogoknooXonUXokoooaooZUaaijARUIRSIAUUAAAHBDAIANAADIAMAAEAAGNAJRPARAOAAAMHIbbVookgoZolnobUYoojoomoookoooooYfobioooXonMYWUVeSUTJPULAJRABAKACAIQUQAMRAPANJDBIAARNEAAABAQAQAJZXUgcofofjUaddZeoZomohoXeaoookjkFikYoeococlUcdUeGUPUTUUANCTSAUSCPFDSAEGLAKMPUUGADAOTGEAIPAASABHZfYmioiodogkojceoEkimooooooooonoeonhobooanaYYZZlJAGUOEIAQSAAAHLAAOAIAGUCAAAGOUADATSHNAAADSRAAAFUoXmoomoYobioojZooiooomoeYoioomXlooboiooajZbcklfUHOAEORQUUAAAMUAAQAAEAORAEKAAKAGAATCIAAAKNAGAACUYZohlhmfgaakeeYkoejoogoUgbmlojhihmdkogaaUXjlbXdSUAAEUBBUMEACUATACAABDLOTEJSCAGPAALQACAADNHQAAFUXUVingkZUYhlcbgicZaaoegcdimkohahUhYooneadUdhZXVMUQOGRAAUNGAETUfSSFGAAOSCRLANAGEDSUTJOBAOAAEGJTVNZhnogiflgdjoigbeholomgoYnhelgXofokooloenWkXdYkOOTKATNJUOFBGJUJUGTKMSGARLAABAAAHIMHHAAAHAAAHAAXWanfhZekZWacVXYnffklgUhlhjYUWYklgchaobVgWZnaVUaIRJQRKSTTABABAAAAAAFLAEAAAAAAAAAAAASJAAALUIAOUGUZgonmioodfoXjnfonZoodikoohjhWooooeookmooidadjWfCUBQAMQFTAAAAATAAAAAAACAACAARAABAHACAAAANAAAFUAaaZefUifjUmcVebUbZVgcVZUoZbWldjZeakofjdlhfVUUbXUIQUUIUUAUiAAALAFTAAAAADBAEDAAEAUAAFOAAPANAAAAUFUdZeaUnhkUjUUYYUcfleYXdUlZcWfaaijlbgbnaajmUXVXUZATUCUUUQOCAAAFAAFAAACAAAAAHAARAQAAAJABMAPAAPATEWeonhXnbeZnbVcodjnloeloUUongefZmhiXeooXfeoUXgVYYAINALTQSNRAAAMAAAAAAAACAAAQAAMAGAAAALPAAJKAALRJUVjoZebahhoekojchmlohkfUbYfoebXUgoZVlofcjeYiZWVZMRUTIPITQAAAAEAAAAAAEFAAABAAACACAABAAAARGQAATUAVUaZjcbUbgghloXdokcoenXZmZeoaffVionUooiYgggViVdUMSUUGUTDIARAIDAAADAODSEAABAAAAADAPATAAAARAAAUUAUbbhoeoUfUiomleblmeoVXjbhofoniomjloVonoigVbmjZnWGOQOAUUDQAMCPCAQAACABDAAhAOAJAAFAABBAAAAOAAFTCEYaXoiZolmUeoanmkooUoYooehoooVonVonnfoogogogkicoUISPTONUUTACIAAARAAAAAAAHAAAAAAkCAAAAATAACAAAJUAVXgncggodcUkfYVfZoUkdeoWWjooUnajofofboXedoVUmWcZDRSUPONTUAAEAAAQAAAAAAAGAAAAAAAHAAAEAAAAAAAAAUQXZblmodoeojjnhojlooooXoelkoofoooooojhnkajXgjooVdAOKMDTAHUAQAEAAGAAAATAAAAARAAAAARAAAAAAANAAAASOUWZhlWcaYcGojimnoeooooohnaZolonjfkocijlcoobjmXocPLLQATRAUCAAAAAFAAAAAAMAAAASAAAQDFAAAADRLAAAAKAWVjhidabUXedoZafUgmlmgnWkfoojjfXcjbYkhkgjcZVaUUXOUUPAURATAACABARAAAABAGAAADAAAAKAAAALADFUEIAAQDfaeHXjmecineXecboggeogiokjohWklYdaoZlnocZWdZVYYaSTPTFUFAUBACAAAKAAALAAAAAAAAAAAMAAARDAGAUAAALBQViXbaacUUUUZUjZUghUeodigebnajUWUbZlUomXegUbUUUaURUUUOULCUKEMDAAECCFAAAAAAAHFAEAHGDBAAAQACAAAPAUiVmilfjkXiknoohooonooomVooohooYnkUoWaojgoooYUgYZDIUPUFTAUODDAAAAAAADAAAAAAGBAQAFAEACAACAGAAACCNZXbkhlXZogoXkoonhooooliYoboZfodhlaoeohaWogXVUbXYQRUKRTTHUABDAAAAAAAGPAAAnAAAAAATAACEAQAARGOAQUAZkVkkocinooZojgdkoooofliokjoeogokmliolloodbkmcXjTOFIIUJERAAAADAAASAEARATAAAAAAADAAHgAAAASLAATOIcWVmdoooXhoeohfUojlooAfhoVWogoiolWodmkWoojZUlZVoBUISAUJAUAAAACAAAAAFAAAAAAAGADABAAQBCAAAUAAATUFUeWohihoZfonoolYofoojWohYooooodolgiammfonoWfifXoPQPUAOFILAAAAAACAAABADAPAAANFUAAAAAAMAAAMAACURNUYXZakUjVVZYnjUUhfkfXUZighchlmahUUdUfbajgoaUWiYkAPQUKPEQUFAAAIGIAAAACECASAATGAAAAHEAKAAKMAAAKPFWWYXUYUZUUYVjWUUfYmYeYUcmdahbhdhUXbZgabUVVUUfUXWRUEKRUOAPUAAAAEBAAFAIIAFAAANIAEOAOFAROHARMAIAJGbgaeWnclaooYoobYofkoWZhcoffjokjmoobLbooniioUWaYePESTJUJAUACAAAAEAAAAAAAAAAAEAAAMAAAQDAASMAAAAGGWdVWefbnWjibYbbZgXUjZXbfgXeUgcZggoXWogoagZjWUUfeQHFUPTAIUEDAAAAOABACAkDAAQAAAAAIAASGGAAAUAAALUAUaWggmoXcZUaZWjhilonjjdmoVhZalUlkoXaoUmeVWZlbamiUBPUPUPAQIHAABDGTAAAAAHAAARBAAAHADAAHAMAFAAAEUMUWVegkoioiYZdhcUomooolYeoooogodoglgjoknVnZYoUUkWUKIUUUTPUSAAEJABAAAQAABAkDnCAAASKATAAAGANISAbUIaaagimkjbgdliomXooooooojoooooojooohnooocWiVoZZXfSNAUHSNAUAATAGAAAAAAAAAAACAAAUAFOPDHAAAAIBAAGULYYbdUYXbXeahcgfUgmioljfVZcmUhmiZhhdYooadWYYgYYaVUANUSMAIUBABAFAAAAABRAQAALMADlAHEAGQAAAANAAAEUPYZejYgjkadoolehlooYmcUleoocogdofWmlcoobfYeUjoYldSQUUQUIARAANHAAAAEADAAAAAACAAJAABDAAAASATAAAPRLUUcZbUcdYYUaUUWbmgUjjjaWaXbhUbUfUhXUYaUUUoUZUUUXUUUULULAURGLAIAAALAJFHKAAAQEAAAFAAALRALAUBPATUSaVfmoaoZljiioifbooZoooiaohaooVWoYnkYXkhUboUmjUbfUUUURUSAUQAHAAAAAAAAIOKAAAFAAAAFAAROTAAAUAAATKQgaYniYjkibfWZogXloojoognogkoklommoofogZofeUmYaZiOQQUPUUDRCAFAAADAAAAFADRAAGAACAHAAABMTHAOAAALUQaeXhjVajdZlXmgcgjniemofUoioooYgmlokfofmkdVhakYaXUNOOSUNNUANAAAPAAFAAAACAAAAAAAAAAAAGKADTEAAALNUWZVafXjglboboYUhjjmgonlajoooooZooohjognebUeUlXaWIPUUIUQBUARAURABAJAAAAAFADOAAAAAABHARATBFAAAJARWZUUgagaYchWoWUUemoncglWkmmmfkakkejhjgXZXUUZXUUbPUUUSUUAUNBAAMKBAJAAAAFHQAAAAAAFAAPFFAAATADRJUTUdWbmYobjdlYoXVWYooononjojodlhlmohokoocnchaoUbckONTSTQRAUCAAAAGTAAAAAASAAAOAAAAEETADEAAAAAAADDSUVXcfikbZWoiddcYihboooohkjohiiggmfoobobUeeUnUUoUOLUUUPUAUNGAAAFFAAAGAAAAAASADAQAJAGBCAFANAAAHPLbiWckfdVYUodYWUZkYmliglcbmeXmjcYjlgkookUkcahaZoZIUPUUSPAOAAAAACAAACHAGQAAAFOSAGQAAFALACAUAAAKUNUnZoloohccYbiodfoYoomlgoolbnoooiknnoooofooechcdgAUPRMRFRBAAAAAAAASAAABABAAAMAAANAAMADDAAAAAAQUSVYXkWdfoUjoUYfUVhUUooZZbWkoahhgUlhgdoaWUloeXUdZaUUNUUNBUULAAADAAAAAAABNFATFAAAAIAUCFRBAUNHABUNCZVihgZdlbhYXdmbfhjloonniWnockmoegofeoVebjoXUZiedRTNURREPUAAATPAOAAAAAHFAAFAAAAATAAAAOAAAMMBARUAUZijdmohdaooglZXIhooooWefogooioncgdUooVXlVceWWUUBNUQFPNRUTAAATAAAAAAAAAAAAAAAAAPAAAANAAAAIAACUSXUYoUfnkjYoneibUnioolnojjofoWolniWYXnooflYaXYYUcSOONAUKRSAEOFAAAAAAOAABAADLAAAGIAHAADAAARQAAAAMbYfnUokUUUocgkUZflkoeomomhmnognaZnncdbkemeUXUUVZUMLUAUPHTAJAAAABAAAAAALAAAIAAAAAAIGADAATOAAANARUXfkUecUUUaWZYUUaejfbfZcndoomafeVicUUUhUVYbkUUVcULLRTOOOUABAATAAAAQAATLTBAIADIHCAHPANAAAHAAANDQfWioojooofjlojlloooooooXnooojVoZeoookoofoodVoionEAAKAOFAPAAAAAAAAAAAAACAAAAAAAAAHAAANAAAFBAALEAaVWmiUaiZUYZdXUcgbXXVffgdoaiUocWWdobdWbVkZUdOUbXUNUUMQQAUHADABAIAAAAALFAAAANHAAAJALAHAAAMFAAMLBcaVmffllnfloocZajaWYooaiooadVchjhkmiomieocYoXUloREQPUISAQACAUAAAAAAAAFAAAABEAAAAAARAAAAAQEAANKEUZglinVjmYfoodgoookooolfooWoomojoooooWockbghkfoiPGNPSFAAUAEAAAAPAAAAAADAAAAPANAAAAAAAAAAAAAAMJDaUfgoZmgldccoUUnojYodnoWefhoiooXXhhiiomZgeUgmdgYUUUUTgAALAAAAABAAAAAAAIAATAAAMACHAASHPKAPCAAAHTYUVmooooodomhcYYofUljeohlkoohoaiYiogiokheoGhhUogSNUOULPAAAAAAGAJAAAAPAARAADAEAAAAAEAEANAUAUAAKPhWVnoooonoejYdZfolonaeikooodoololonlaogokobioWncMQUGNKAAAAGAAAACAAAAAGASAAEAGCAIBAAAOAKAPGAAAQTYbVoookmhoZdfgbjooologYnoloWooooooAfoocVoojdjUlVBULLCDAAIAAAAEAAAAAAAEAAAAHAAAAEAPAAAAAALDAACJJWaUYiVjVZjXXUfUUlUaZhZUUfafUUUZVeXUUkefYiaUVdUVUPUQROMAANAORAAAAAIAAAAABAAQFACAQAAAFBAAAUAARHLRUbVoojajUbogeeoVoWYkoUiUaXoeVjUVaVYfojcfffhmkUmZCTUSLDEAFAEAAAAAAAAAAGAAAAAAFAAAASCAAAAATAPAAHFZUYUnkcnWoobjjZhUgZoZfoakZeebmbVogdgWgXfoXiZoUeiHCQTJAAAAAAAHAAAAAAAAOPCAAAACAAMATAHTAAbACACAUAhUfoooonooonoooieooooicooohooooYokeoooacomWhojooLABAAAAAARAAAAAAAAAAAAAEAAAAAAABAAAFPAAAGRARACAgaYbWoooemUokiXgUVllXcUYknZZjfjUhVWUmdiUciXUaXVZTHFUPIBADAHEAOGAAAAAAJDBAAAAPNAJAAAAAAAAPRAAHGUmeaXoVoojoXookooogokoogmobonoboeoolZjomeZohkklckUACINDAAAAAAAAPAAAAAATAARAAAAAAAAAAAAAAAEAAAABUbUabeXaWdbUckffeZYgocfaUUUZoUfdaUmUUakUbdUUViUWUUSPULTAAAKLAAOMNAAAABAeBREAAAAAGBFAAAAAETBAAKQUUibVgVjUikjXoidfVoVokVfUUWomUooVZcbahfiemaVjUUWZHMOUUNAASGFASAAHAAAAAAAEAAAAIFABACAAQAPTLAAAJKPagWohWoooloookhoWohoodobofoonooioeilojohomWjolmoBOMSSAAABABAAAAAAAAAAAAAAAAADIAQAAAAAAAAHAAAEGTZbDXcdkoeloYkoebbZlomdXoWjfWggfcoOUUoYobVelUXcVbOKURCADABMEAAAAAFQAAUAAAAAAJAAASAAAAHAAAURAATDGZfdgekohoiclimlVjYooogaWgecjjlfZZaVUjglekZolodXoMKRURAAAJGAAAAADCAAAAAAAACAAAAAJAAEAMAABQAAOeAKdYkdfoomofmnnklUbmWonkmVgkhooZaUkodcncoUadocUVojBHPPOAAAJALAJAABAAAAAAAAABAAAAAHAAAALAABUAUAAGRhjWdjoaoooifooaajchoflofocioXlWboobojYoUmXYWVdWXCRUENAATAFHANMALAAAAAAAAAAAAAOACAAAAAAAAIAAAADQbjVcnoXomVccomoVoeUooooaljnoioUkookooioUlUUgUboiBNUAHAAAAAAADCAGAAAAAAASAAAAAAAAAAAACAAAEAAABKUUcWVagdWXeVaUajZlVUbcaUUVbUXUWUgUWlUUUdUUbUUUUWWAUOLIAiAQAFAADAAAAAAOEPAACAAJPAJBAAARAAAUGAFOUGXonnoogoVffjblYjocUWgleUoYccgnUZVdoUeUkUUUiXZXdaNPRRMBLAUGEAAGAAAAAOALABAIAADAAIAAJARAAASFAQQUOUooojolohgiaooaogciomoWVohoVeoZkhiXUndlUUYZmoUgaPQGSRAGAUEASADAAAAADAAKAAAAAQHAAEAEJOAHATAPAAUSVoonooYojmjWooYlnZcoolYUoohXhoiklomUlofUUfhmoUXfQPAURAAALDAEAAAAAAAAAACAAAADAAAAFAPJLAHAIPPAPRNboomoknoUomkooWnlokaooVUolockoYgdoobfokUaWnoeUUlOIUOOABARFABAAAAAAAoAAAAAACAAAAAACUGEAAAQAAAFPRVnogooooXokeooXejoaoooUUoboZYoWZdooZiofUgXjoXUaoKUPQEDDAKEAAAAAAAAAEAAAACEDAAAATAAHAAAEAUMAAMPTUomodmajYfZiomWmoiciooUalbeZVofUUJhUhoeUeWdalUVkLURQUSCTIAAABDAAAAAABAAEGQNAFFGAAALARAAARUAEAOHlooooohobXgnooYjoolmolfUoonagooUYooUcooYaXodmdYoQRSCJQAAAAAAHAAAAAACAABAAAAAAADAAcAAAAACLRAHDKAZlWhalcogcZoooYdomVbkaeUfokZYXeUXodUddmUZUoYYaUbATUFCJAAAACAEABAAAAAAAADAARFAFABAAAFAAATNMAAKSARTSioobmbUaookUjolUhooaUkoZWdeUVUoUUWadUXUmUfXboTUUUQBAAJAAAAJAAAAAANAAAABAUQAAFAABONACJUFAAUfBRCAiooVokiooooZeooZVoonVoomaeodoUoXZboiWdboYVUkoUNSUNNAABAAAALAATCAAAjAAAAABPAAAAAAARABAJAAAUiBQEJbooUogVXgoocXooVZombUoeoaWbmofmaehokUWeCWoUhYUSJKHAAATTAABEAAAAAAAAAAAAAAAAAOAAAATAMAJDAAKUKTDHUUanoUUgUoVkYilaUkUZUoUVeYUWmVZYXooXUcYVUfZkmUUTUAAAATAHAAEAAAAAAAAAAAAAAAKANAPABLAAALSAAINKUILUValoUYcUogUUoUUbWYjXoGUkfXYZViUWncUbbUUZZUmZOUTUMBAAAAIAABAAAAAAAACAACAAAIADAAaBTAAATAAAKUSULRciXUVZoZfocUUaUWedYdUmUdaXUXUUgUhhiXVUUbdVUXUUUUPHUAAEAFSAHAAAAAGAAJGACGHHAAGAAABBAQAUAAACSKUPUojiYiieeooZUadUVUobaUomhWglbUabUUojeJUUmfUcafUUUUIBAAUACCAEAEAAAAANDAAAACiAAAFAAAAAGARAARBMOURDomoKhUVUignWifUZgdUiUokcfaoUUljUUoXfWUfbUcUUZRTUSNAAANAASACAAAACAAOAABCAAGAAACAAALAGABFAAMKQUSAicgUmUUXecYaaVbYaUUUZXWdVUoUZFbYVaUdUgoYYUUUULUITUBAAFAIiACAACAAAAAAABJAAHAAGGNAANAAHLBNAITAPNLiUUUnUVVabMhUUXUgYhUUjdUjMdUUUaWUUUUUaVXYUaUUSRARTFAAHACEAEDAAAEEAAFAAQADJOATHBAELAAGULATFUSQARlmfVcYglgfXdodcXaZoZamUUhjocZUoIfofZUWUVUdUkeUQNQLEAAJAAAAAAAAALLAAOAALAHGAAIAmAKADAAAAAAHQLFASoomXoVooofaooojfaoXfmofdeoakjYohkYhVVmUoUojhoUUNQUAAAAAAAAALTPAIAAAAAAFABAAADAAUMAAAAAAAAKIAJAUZZnUVeohoYadbeUUjoUZfaXZdngUUYUjjoUUUYUUUZUWeUUSUNGAAJACAAAFAAAIAAAAAAGAATAAOFAAENAQADAAAHUTKQJolggenoeboonojWVomkYifjooooUYZXVeoUWYooXmYUWoOUQDDMAALGAAADAAAAAAAAFAACAAAAAKJTADAAAACAAARUGUNUVYUinUWYYfUUUXZUoaZUaaUloUaUVbafUcUUUoUUoUUggUQGRACAAICAABCEGAAAAAAJAAACAAAAIAALCAARAJPIAHODOSOcoohXobZddoWanoVobYUimUWohbUeWUkUoVXUoUXYUZoWTMRUAAAAADBAAAAAAAAHAAAAABAAAAAGAAGANAAAJIAAEMSUUOUVXUUUUUUUiUYWoUUhUUUaghXUUUUUVUUUUUUUUUUUUXUQULUTSAAROQAQAAUAKAQAERAAKFUABQQBAPAMAAQUEAAGULUOUooZjgZogfooaooaWYoiceUoofooalhlWoXmoUofVemdniJJUUSAAASAAAABAUADAAOAPAARBKATATKAGEGAAARAAOACAUUSjmgenUhoUojocokfoojUUUhoUngcaWogdgXaUaaagcWabUUUSUEADKUAFAAIJQPOMFIRDANOKUUAUMUUNULULUHEAETOUOUkfoooYoZobboooheooohdZeofoloeUofkombklcnnjZioUUMSMJAASQCGKAMMAPAFAAGAAFUAPAOFAHNHQAUEUAADAUGUAUldoooYoonoolklchollghXdVookmjVihooohjlbajgUahQNPAAUJAUUFJSFOSoRAJAAUHAIAIIEAUQAUNPASUUATUANGUKQoaoookZoeooZoXlioZalUojZboohnaioUooWkdfenhYbXPRSAONAAUKANAAKEAAAAAAMAAAADAAALAAPAAAAASCAAAATQKCojooooooloomoolboooUoomooooonYHoooWohhojoXokgNAPPSARATAAFAAPGAAAFAERATAAAAAAUAAJANAAANQAAAAPPOLoUmnohDoeaihYVfZoooUmbdmonoeeogobollejbYfUaboNUTQUHDAQUOKQDKNFSGUASUIAGAAIBDUADQSOGIAUUEBOORUQFfbZoVYajlXWgdocVodkZWifYoZoXheoobnfeUjbUdUXUgUUQUUMGAMRMQTQUHIOOKSUUEGPDNTJAQAPRUUAUQUUPAOOUUPAoofooooooomoooodoglomojoooooooZoooincolXgbkgYUKAOEQPASAAAAPAAAAEAAAUAAAAFBOAAAAAATAJACAAAAEPUNRbcoloheXUojncXoVcoaWmjdojeooioojlcffbdUoXWWUWUUOPHULPTNURKUADFRPQARUBNLUIHIDRNBMQQAUAUGESAITUPBYbmbofookoohmboXgXXjomkoneoojooVbZookVYoZaUUVTUTUMUTDUIASATAIAPOAPFQLACJAPUCUHPJHNOEAONCSLEUUGQgeomokVooYodojofoooabokooXokommlbgmlgcnoobUlUUUSUUHAAUNASMAAAAKPCAATAAJAARPAAAAAQACAEUGCADAOFAUgjmicbUodooeUoocohomdkkgngeYikbZUahibaiooUVnUUUPPNEEAQIBAFADKARHFARETFGOEIAQAAANAOMSTUNRANDTSLUohYobloooooUXonaoZbnionZoXdcoohWUjdaoomobaYdYSTUPEEnAANAAEAMRTUGPAADPACMDAAAUDQUMLOGORJGiLPMUaddUoVahiZlalWoXcVocaUUUfUoYZWUbgUUXdUiYUXUYUYbKTUUCEAABJORAJGOAQCASEhCAHSAKTSUOTPMUBQNIMACUNUWWVUooXoaUZfVoYhXmUooUUYVUUaUofUUFXUUoUUZkhZgXgmGUSUSAAANDRHUTDRAFABAIRAQANAHAATLAQCKAACOKACDNNUXYfjoooodhlooZbmlWooXacUcZiniaUflUUnoUYogoZfadoAORUUAAAAAABAAATSAALAAAAAAAABAAAAABAAAAANAAAAAAZUWjXCVokVUooYUUVUWcboUUhVheVWbYUnUUYWVWjnbUUUXmAOTCUJAGQEUIALDUAPHSAAUAAQAARAALASePFAAAUTGBCKD"}, {"x": 383.3, "y": 82.0, "w": 289.7, "h": 273.0, "nc": 81, "nr": 220, "d": "UHTUKUUJUAQQUUUUUUUUUKAJAOLAURPOUAOUCSUUZUjjaaaZWioogjaonoicmWkUoUaeWbohelYoookZfUUNOUMQTUKUUSMRPRITUUPJGDULOSSPSJAPODUUUWUkbUUZohVinUZUooeolbUaUZUofjooWXibniUXhgNBNLUIAJACFFPAAICAPARAAQBMDAAHASAABAAUBAUUWUUUiooYojoUUeooUlZoUUiUobookjWVUooWlkWJRTDEGDQCAAANAAAAAMFAAAAASAAALAOAAQEALFGWiUgUUihmYZaoioioookWWogooYooofokcoooooloROUCCUFDKAGEQANCAIHKLAAKAGAAQBRAAEATPLOTUUUUUJaUUUUUcecZYledUngUVoioemUaWUclamalkUQUFCUQAPFMAUOIJIIAhKAAGOPMAEQNTAADSAOUCaUUUUUUVUXcUbWUYafWUUUUUUdVeUUUWaUaaUUagYUAIAANAAKARBUJDEDAAARAAHAUOAAUGAIAAHAPUAUUUdWVUYUUfeidUoaoobWUVUXocVcUYcVXUoYVcfmQARAOOJASARANFATEAAAHAAAATAAAMAAAAAFAATAYbdnfgYVeeoVooWXkodogoihoomoockjoooooWommUEOGGOURIFADUARFFTAASCAAAPAACRRAAAAUSHhAbUYUUWUUVUgMgVhUUVfUVYhUUfUlZUVUVemgiUbaUKCJAALMABACAGAMAKAHAAAAAAKAAARBAAAAAJGLMbafVUWYXUjiilkooXobZXonUWlhocoXoZoollYbkhIOKADUFEDCUACAAAAAIAAAAPAHAAHFASAAAAGNOEUWWiXUUWUXnUldjoUoYfgVbUjWogdogoZocoZXggoGAAQJAGACAPFCIAAAAGADAQJASIABUAAAAAAAFNAhWhhWZVfgoLeooojWooonooXocojooooooooooYoWNAHAOSUDADPCENAAAAHAOAAHAIKAELAAAAABAAUIkbeXUUUifeoedaUeUoojhonUgjWooUfonZmnoooniUPTAMPUQDQAHACLACPDBUKGLAUBADURHAAAHCSUUUUUUUWUUUUUVXUUUZZaUUZUUYUUcUUUUcUUckUjbWLMOASBTMFDARAFHAAADAQSACAQAANUAIAAABQOPAUXVUdWaUbocoHiolUobcdgoefoUWimVoooooZioAoIDISAQUQAEAEAFIAAAFARAAAAFAAIDJAAAAAFAIAUZfkbUUUUjfoohdlWongoioWmjkokWooojooYolUoDKQAAEUIAAATAHEAAAAAGAAAAAAAAAAAAGABAGBAVgoodbofUmooooooonoooonUooaoooooookoZooboCENAAHPNJAAAAABCACAADAAAAAAAeCAAAAABAAKAaYecUcUXgYojmcokoaoooodUZoooofcooiojoooomAARANJLTAAAAAAACAAAAIGAAAUAAAHAAAAAAAAAGUcUaUoZhUUoklfoXeooohokUeooookeooeoioioocAALSIEPAAAAAAAAAAAAAAAAAAAAAAAAAAAAAAADAgZVjlookjaoooboooooohoodioooooWooooooooWoEAPOIGUJAAAAAABFAAAAAAAAAAAAAAAAAAAAADSCofUgocodVmonoboooooohooooooooooooooonooooUODALIRAAAAABJHPEAAAAAAAAAAASAAAAAAAACGDlWeUWhUaggajofiokoWmYoodookoonhoolooiooofUIHJSQUJEAAAKACMAAAAAAACAAAACAAAAAAAACGAUUWWUUWoUUUdogcogocggodgYcWUimfbZXekZYmhYNMOAEQDALAAIAAAAAAAAAAAPAABAAAAAAABAAAOAgUkUkUYoecoooooVooooooooioonookomoooojoooRBGAAMJAIABACAAAAAAAIAAUAAAAAAAAAAAAFUQRZXWYfUUbaYolmYolfekZjoonWoYoooUhkjXbgiZooQCTAAUUAAAAAAAAAAABAEAAAAAAAADAAAACBAAPAWUdfgaUUaZokoWojfoonoooXVonooomoooYooommoUBBSEUUIPAEAAAAAAAAACTAAAAAAACAAAAAAAAEAUUlXiadUZVfkodgceoonoooWdeioooioiefjnlkogUCDAJQRAHIADAAAAFAAAFAAAAHAAAAAAAAAAAJJAWWWVhogUcgooofZgfookoooaUkofohoooZoidnjoeUABGMSQAAAAAAADAHAAAFAACAAAAACAAUAAAAKTAUaXUVaZUZlZdhgjolooZooomYcoVgikoodolZnkoUOHLCLDDQAAACDAAAAAAAGAAAAADAAAAAAAAAAHAAUUZeUndZYfCeoblgkoojlngojYomneZookoojXooaGMHASMAAAAAAGAATAABABAAAADAAAAUAAAAAALAAoiZoYohofjoZoooooWoooookoooooooooooooooooNJUASUMAAADAQAFAHUAATAAAABAAAAAAAAAAAAAAZUXCZUbibcZooiYoololoWgZdioooojcoomoleoooAATDAUAAAAAAAAAAAAAAAAAAAAAAAAAAAAAAAAPAoljoYhooooooooooooooooooooooooonZooooooooJAUAPKGACAAAAAAAAAAAHAAAAAAAEFAAAAAAGAIAXUVaUUUodeWboioifooinlohoojoooolocoooooooRARAONMAAAAFAAAAAAQAAAAAPAAAAKAAAAAAAAAAXoVoaomojamooooooooooodiooooooXooooooooioKNUDLURACAASAAJAABAAJAAAAAAAEIAAAAAAAACRUZXcbUVeUZUWoejoooUkoZUXooonoogkoUkZgkoUnBAEAQLNGAAAAASUAAAODAAAAAAAAAAAAARAAAAAAoaffnfhfdnbookmoooeWooooooooooooooooojoloFAOEKKQKHAACAAAAAAAAIAAAADAAAEAAAAAAAAAAcUaUbnjUbUnoobXhkjholodooooogomooooooooooNACAAAHHAAAAAAAAATAAEAAAAAAAAAADAAAAAAAAVUUbUokaeIineaoWlfokooooooooagZoojooookomSACATQJGAAAAAACAAAHAAAAAAAAAAFAAAAAAAAAAoUlhifoYZijojcooooXoZoolmkooZofoogoooooofRAIAPLUMAAAAAODAAAJAGAAAAAAAAIAAAAAAFAIAmUcYfYUjUebeEdmolooVUiZWZbofoXooooohoooYiGAQAAEFCAAAAAACUAAAAAIAAAAAAAAAAAAAAAAGAUUWokcboYefWofooooookohVgboimoooooocoholoPAAAQRPCBAAAAEABAAAABFAAAAAOABAAAAAAAGABhoZogUdoUajfokoocoooooUlbfoknodooogfooomoFUPABNUOAAAAHAAAAAAAABAAAAAAAFAAAAAAAKAJehjcdaZoUUoodooneonokoboookloXZmookogohooLMMEORPHAFBAEHAAABAjIAAAAAAAADAAAIAAAICAYbUVUWUUWUolceViloYZYobXgonUcWUdVckofmaooNADQAFUEAAFABABAAAAACAAAAAAAAAAAABAAAAAAWXVafmkbYgoookfoiooKgooboooiooooooooYooooUPFPDISPGCAAAADAAAAAAAAAAAAACAAAAAAAAAAAUZUWZiUkUcalnXoYXoomdfoZooWhlooinknojVYmoHDJGFAUPAAAAAAQLAAAAAAAAAAAAAAAAAAAAAAAAcUkdhoUWfZfoaoUWhoooooooooeoooooomoooojooKAHATMJIAABAAASDFAQAEAACAAAASAAAAAAAFAAAdaXnZooooVojookoooooooofoomooooooooooooooLAFACUUEAAIABAAAAAAAAAAAAAAAAFATAAAANAAChUaZlonomZoooUoXoooboooUoonooboooooojnaooTEBAHUQIAAAAFACUAAAAAAAAAAAAAEAAAAAAEAAAVUgcdlcghZWojlkoooookocUooooooeolgooojiooLAAACENAABAAAAAAAABAAAAAAAAATAAAAAAAAAAAbUcafoYkcoaooooonooeglkUogooooaoilaooncooUAAPPHTAHAAAIAAAAAGADGAAAAAAAAAAAAAADAANjUZUhlaoUoXoogooboojooofooomooaoXofoohoooUGEARQPMAAQAGDEAAADAAAAfAAAAAAAAAAAFACAElUUYdcdohkmoomoojooeooofooloooiooolooooomUALAFPKLAAJAAAAJCAAADACAAAAAjBAAAAAQAHAKodUoeheolioooeooooonooodoooooooonognoooooREUAMLUIBAUAAOJSEAAAADAAAAAALGAAAAEAAMAMUUUUXUcWUUZVUXdXobgiiajUVWjodgkookYeoUUjoMAUESTSCGAQAERAAAAAAAAACAAAAAIAAAAAACAAAVUUXkUkWUXgjlaoeoooakjoYlhmoooooocbjoUXioOAJAABGFDATAMAAAAAAAAAAAAAAAANAAAAAAADAAUUUeZWZbdoWoooonoooekobXojjohoooofUXoooooRBTHRRSMAAPCDAAKBAAAAIAAAEACAJEAAAAEAGJQUUUUUWUVUUaUfXXcgVcXembcofUbZagWeEUoUmZfdABLQAPAAAAAAAAAAAABAAAAAAAAAAACAAADAAABAZUXhaoooUeoooooWoooooWoUXlkoooooonYooooooAUIAGQNAAAAAAAAAAAAAAAAAAAAAAAAAAAAAAAAAWWiUbZinUYoomkooUnomhnoeodmoolaVfghXoZoioGPPPAJQAOAAAAAAAAAAAAAAAAAAAAAAAAAAAAAABZmmhojoXijboooooooVohoohooooWokooooooooooKGOCAAJAAAAAAAAAAAAAAAAAAAAAAAAAATIAAACEbcViWhWoogoogoXoooooooldoooVooiooooooooooRARAAHGAAAAAAAARAAAAATAAAAAAAgABAAAAABDAVZCoYghWodoZomXokoooooonoooooooooooooooooUAUEAUHNTAEAGAMTAAAALAAAAAAADAAAAAAABGBAYUUWUUUKcUUeoZFoUojUmnndgooolkaooobUgeoooSAUIAQUBAAAAAQPAQADAPAAAAATACATAAAAAAABHUUUYUZUXUUZdfgoojooZiiVbojogooYjibUXjUoooJAUAAFQACAAABGPAAAAAMAAAAAAAAAAAAAAAAABBaVYifojnYlVoooooooooooohoZooooWnooaoonoZoNAPAAAJAEAEAAIJAAASAAAAAAAAAAAAAAAAAAAAAWUUYajVoUcoooooiloooolUUooeoooUooodokfdooUANAALMHAAAAABCAAAAAATAAAAAAAAAAAAAAAAAAbUUgXnUoWcomoYooojoooodYookooohooZZoboZooTARAARTQAAAAQAAPAAAAAASBAAAAAAAAAAAADAAAXUVgXooiYioooWooWokooofocXjoojfoUojkWoUkhNAHQAGUJAAAAUAATAAAAPAAAAAAAAAAAAAAAAAAAmUbooooiZknooWoooogooooooooooooookoooooooOAKAALOOAAAAJAAAAARABAANACAAAAAAAAPAAAAAZUUUcmWaUVocYYoolojoooXZkckooojkonoooolalQAFAQAQDANAALAAAJAAAFAAAAAAAACAAAACAAAAAkUZVVoXkVajeocooooooooogooooonooYooojoiooUPRGSCUAAAAADAAAQAAAAPAEAAAAAAAAAFBAACDAVUjeUlaocUUcoZcoojoooWojooooooinoodonlokoOHOIUAQAAAOAAAAARINAAARAAABAASAAGQAAHBDAaUUYkkUeeUXolXWXdkiiojnUloofjkbUoUfYmXolfOUAAIIUBAAAAANAADAAADAAAAAAAAJSADATAAAGAUUWhokeoeXaoXUhcohooooohodoooooioeogonoonLUDAHQUSIAAAAAAAAAAAABATAAAAAMAAAAAAAACAfbYefVfmUUUeoZnolooomoobhjooojoooloboooooOABSIMPAIAAAAAAMAAAAAAACAAAAAAAAAAAAABFAnUUUZZUjUULgocooeoooooonjooooooojhkYoooooUAAARKMAHAAAAEAUAAAAHAAAAADAAAAAAAAADPEIaUUWhZUXVUUjokooZooojolbogXlUlohnXWmooohoQASAIJUAAHAAHAAIAAAAAAABCAARAAAAAAAAAALAkUUooWYZVUYloooooomkoooXojoooooojoaooooooIAESLARAAJkAHAAAAANAFAAAAAAAAAAAAAAAAAAAoZjoooooUhoooooooooiUoomoooooVooooeooooooFAOAPHNAAAACFAAAAAIAAAAAAAAAANAAAPAAAHAAbbngloknUYioooooooolooohooooofooooXooooooPARAPKSFAAAGAARAAAAAAAAAAAAAAAAAAAAAAAAAbUoUUagomaWalklZlogfboogmgoooeXoomVooklUoUHUCSSTSCABCKOHLACAAAAARAAAAAEAAAAAACCAQdUYUUUYkYWUUcfkokofnjceVodXloUVomhUmgijUoSAKABGUOAAAAJAADAAAAAAAAAAAAAAAAAAAAHRARoUXdkZdfgbUjnoZogooogoZWoioeojXoohmoooonoIEUSALUCAAFAAAAAAACAAAAFATAAAAQAAAAAHAELegUoeXgbjcaoonYoloVmiohUoooooocoooBolooonLLTAFUSAAACAAAADAAAACAAAAAAAAGAAAAAAJAAEUddhUoiUboWooWhYoookYogbooooojhooolomjoocEIJOIPTAAAACAKAKAAGAAARAAAAAAAAAAAAAAAAAZUYjdoUkjoooohjoooofoomoooeoooooooooooonkKCIAJUUEAAAPAAEAAAEAAAAAAAAAAAAAAAAAAABDUVUfoeWonWilookoooadoodlooVojojonoloooojUAABANUPGAAAAAAAAAAAABAAAAAAAAAAAAAAAAAAAYUbdocUooWZioooooYemoonfodooooiomojooooloLKGAUOUJECAAACAHAAAAAHAAAAAAAAAAAAAAACAAZUZUUUUXUWUjooWmenUndhcnYVYimlcijcWomooUoHIGBUNLAACAAAAAFAAAALAAAAAAAAAAAAAAAACAAUgVcgUnocoVoooWmomjnoojooooooonoobonoogooAKUABQINAFIAAAADAAHAAAAAAAAAAIAAAAAAADASUUbemZdocdZookUoooUdoogeknojoomomoomoZmooPATRNEGAAQGAAAAGAAAABAAAAAAAACAAAAAAAAACoikgohooVfoooeXooolkomnloIooooeooooooooooFGPAAIJAAADAUTAAAAAAAAAlAAAAAFAAAAAAAAAAlogbneoomlgookooooWnlooeoooooohooooaoooooRGKARNJAAAAAAIAQAAAAAARAAAAAAAAAAAAAFAADodaVldfoolaooooogmokooochoooooboooiooooooJAHAIBQFAAAAAIAAAAAAAAAAAAAAAAAAAAAAEDAAgYooooVnoooooooeoooVojooeooooooooooooooooJALALGUORAACABACAAAAAAATAAAAAAAAAAAACALUdUUomZoZXoomocemaooookokdeokooomUoooZnXooOALSEQRGAAOALAADDAAAAAAAAABUAAAAAAAAEEJAZUUkbZdibcWkVXWoomomohlfohlailfVahfoWoooXNAQUAIQAAADAGAAACAAAAAAAAABBAAAAAAAAAAEAUbdoeedfooYoooiogoooomoocooooooooooooooooTAMRPLPNSAEANFICAHAAGAAAADAAECAAAAAAAJPJUUVmUaVUUUomlaZoUjfoheaUUUenoonofoLohooUnKASEOBAAAADAAGCAAASAALAAABAAAFAAAAAAAFUAYYVWahhUUiooboXoUeloooohXgomeomooooonoohoTAPAEAQRAAAAAIAAAAAAAAAAAAAAAAAAAAAAAAJAclooojgebXVoojkoZhfWoooomominooomooomooLWOASRHBADEAAAACKAAAAAAAAFAASAOAAAAAAAAAAAceahhakoWbUoocUkkojcZgUoYojfkkoiZUjjfjhfmFAUADEBTIDAAAAGAAAAAAAADAQAAAGATAAAACAEHkZVaWbhoXcUjiVUloocoaohoZoeeoVooYfaohoaZmUNOAAJJUAAAAADDDQATAAAASAAHAAOAAAAAAGAEJYUUUdoZfYgXUoUUWoajZYWjboYUXoUWhgUUoZijZiSBIARSSLDAAAAACAAAAADAAGAGAdAAAAAAAAQAABUUUUaiUWUjUUXVVbjbjUUUVZoeUooUUUUUUoilYYfTAAACJFAGAAAAAIAAIAAAAAAAAAAAAAAAAAFAAAAUUUVZZUUUnUXUVmXkXijUWUYonfooibUcUeokioUfIAEODPNAAADAFBOAAHAAAAAJTAAOAKAAAAAASATAbZXmgZdYUcoaXZXbmZbWUUYUcbUooXXnkZUoVaXcaOAAAGMFFAAIFAFNAAAAADAAAACAAAAADAAAAAAINkioYnXbloeoaonUooooWmfoWlmWoYiioooVeoooooPHAAAEHEAAFQAMAAAAAALAAAAAAAAAALACAAAAAAcYodXoUoknlohbWmjookhmYVolioocUUbhUYkconoSSAAAIUQEILIAAAAABHACAAAAOAAABAAAAAANLAAkXUcUjZbVeooWmUaWmnjUohXUYVokoUiZXYfdUkaoUKKRJUUUTTOEAAAQAHMAOAAPAAAAAAAAAAAAAQAAXUUUUUUbUWZUbUYUUgceUhYUUZWoYXUhVUUUXUZUUSAMPLUUUMUQAAAENACEANAADAAAADAAAAAAAAEAAYbUYUUUaYZfVeVYgUXUVUWUUZUdbViUVUVWbZhUUUAAQJATRDHAKAAGAGAAAAAAAAAAAAAAAAAAAAAAAAUUcomllooXoWoaaooooYfokolhohooWohookoWeemQAUATUNMTORAAAANAAAAJAAAAAAANAAAAAAABHAEZWedoolllZiojUZnhojkaolooXZholZonoobdojXoUOAAHUQFAAAUAAAHPACAiAAAAAAPFAEAAAEAACAIWUfaaodllgnodjWhfXidclXUobihgUUZhjhgWmognURTAIQLAQAFAAAAUAAEAMAAAEAAAAAAAAAGNAAABYUUbdocWgonbnnekYoofokhZoookohXooofoooomoJDOAMJAATANAAAkHAAKAAAAAIAAAAEAAAAAAARHAUbeUafUUXgeobcWfoomgUohblmZYlebojZZWiohilSAOANOUQUIQABAHAAAMAEAAAAGAAAEAAEAAAEGAAcUUUUUUUUUUYXUUbVaVaUbUVWcUYlUUnUUUUWUWdVNAAAIKQUKSNAAAIAAABfEAAAOAAAAAADAAAAAAAAYUVVfgYflfbUUbUjooFaUgcXggXihYkoZgUdfdakiUDAILRSUSADHAAAAAPAACAPAAAAAAAAFAAAAAJAAUUjhgVeaZbXbkUihoogdbcXUWVfkaWdbioVcloonoUMLAUIPHTAJAAAAAAAAADGAAABAADAAAAAABAMABUZYoUdYUUUUYmUobloXUdiUUfWoUWUmZooUUhogoWCNSTCOKNUCOAFAAAAAAADAAQAAAAAAAAAAABAKDAoYUooXUfdgedgWiVoooYlhYhXjolXohmooofooZoYCTUAHTSUGFTAFAAAAAAALAAEBAIAAAAAAAAAAACAUWgYUYmkZmUWiUUVgjkUcUadbgbohhWoodnkoebnUNAIBPLMLAJAAAAAAAAAAUAAGAAAAAAAAAAAAACATfZgUbeeogoWjYUbofokjgomWYmjofnjogdiojodoiOAAESQTPFUDAIJAAADAAAAAAAAAAAhCAAAAAAEAQYUUUdYkcmgedUWVZoodoUofUoeUUUVWdaYaloIYVgENCEGTJUSUFHSAAAAEAAHAAAABAAAAAAAAAAAAAAUUUgZooUYmgekZooooloUooYojgoomeoYojVooodoNAOOSAUPNUCOAAAAAAAAgAAEDAAAHDDAAAATAAAAUXUfdonYUokooUeooXojUmogbegoogaooofoonoXoUTKASALUUTKAPAASAAAAAAALARTAHBKAAADAAAAAUUYUeWYobfeoohholloomooilcUiooioUokoeilUoOUFAQEQUOASAKAAHAeAACAAIAAATAAAAAAAAAAAAUUXVfokomenoLonloooogoocoonoiobooooolomZlULFACGUOUMRAFAACAAAACAAKACDAAACAAAABAAADUXUUUbaokliooZcjnWoYbZeZkomGbjUoYoVgodoafJRAIAARKSMCTAAABAAAADAAADAAAAADAAAAAAAADofZUoooadooooolooEooWononooooomoYookooYnoAAAASHUIRRAAAAAAABAAKAAAAAAAAAAAAAAAAEAAeWigoooWlooooooomooaoooooooobooohoonnooooAEAANPOHNATBAAAAAGAADAABAAAAAAAAAAAAAAAAZeXhlhoohoohoooooooooWonoooooooWnoVooooooFBFAQKGRAAQUEAAAACANAAAOIAAABAAAAAAAOAAAUXUYcfonYoaZolcobfdooolUkojoJoolfoYooZmogUSPNDHSIQAUUHDAAAEAAAKANAAARAATAAAAACAAAUVDZecolgfdboifjWmkooodofhohdgooooXoofoooUAUBNJNPRASAAAAAAPAAAAAAAAAAAAAAAAAAADFAUaUZUYoboooooohooooooooofgoUohoooogoooneoUAUNFMLUOATAAACAAAAAAAAAADAAAAAAAAAAAABAXUUXXVoooVoeofYmohhoUoohogoZmooolojofoaaoUQPNDHUUEEQEAAPAQFbBUAFKAPAAEMAABDCQHUQAVbUUhgfnfookoikoYoWoVooUmcnbfooohdfoemnlkGQMQASTUAKSAGAGHLKUATAAOGUAABQLAKADQANJFZUeWUodobooooYclhohomWoUhjjooonoofoojooooUQHOJRQTQORDSABTNOSBRCAKBOGDABPAIAIKAODPaZofUkZckWeooYeooobkljlWnigoooVjmioooooooRAAAEHPGRTQAUESNJHQHRAALAFIAAATAABRFNSFMXjeoXlecZfUmoUkooooboomeoiooooXohooooYoooDNBACKAMPTAACSNAFGIAUCARADAAPADAAADDGNJFaikoahoojgooocoooVoUoohiohlooomooooooooooPHDDEULOUNNCODUPJMIBUEAHDEAAKPAIDAeOAUAAUUcaUUZhUUoWgWoooooVmoUXoeanogbccnooeYoogUULEATPQNELNJANQLMPTHLAALOFAEUAAEFKICUCAYUUUcWUoeVofdVookojoooWhooZoooeooooonooomUAAMOTUUUPSKOIPELRPADKADAPNBDRKALTUILOUOkWUZkoceUfnodhoofoihooZUooYgooWooonodooonOAAKBCUMUULBAAABMJFAAAAAAAAAAAIAAJJOGJQEcUUadncZZboooWYeUjUagofUoiUdocXZofeoUoZcdBAQOAUUAFNIAAAAAAAAAAAAAAAAAAAAADAAJEHCAibYhcomoeoooocZooonfooomoooooogooiooXooniERNJDQUEEAOAFAAAAAASAAAAAAAAAAAAAAAIEFAAXodacoooaooooYloiooooofnooooooeooooWooooYBBMAOAUUOCSAURABAAAADBAfPAMAAKAAAAAFAAGAfndUAbToKooMAMAgVEgTfMgbmWhaJodEhIaXnJZoMKHGSILUNPMGAIAAAAAAALAAAAAAAAEAAAAAAABAAeikfXjedggZalZeacjYZfhgUoZUahoYWoUXYobgfjQCRANQOTUUUABSAAAAAAUAAAANAADCAAAAAAAJBAUWUUUUXWVZUUdUUUUUUUaUUUUUUUUXUWZUaXcUaUXOABAAAHNUSUAAJPAAAAAHAAAAAAABEAAAACAAABAUVXmbgZdilZXoZlXVajZfYYmUeViaZgheUmhoWennKPBMDARUNNQPIAACAIAAFAAAAAAAATAAAAAAFAAAcUUlbZUcUUUgnUliYYhZgUaVeCUhWEUehXmdaXUVoFADJGGUULAPAOAKNDAAAGGAAAAAAAJAAAAAAPHEAVYUojVZnUbUaioUaXZXZebUUcXZgagUedWZUioZffISNfRANTMSUAEAAAAAGAAAPBBAAAAUAAAAJARACAUYUdodbUWfXdhbVaUYlUZeUUfdUflaXXXYWXbbijaDBMEDUIOQFUAAAAAAADADAAAGAAAELAAAAAAAABNaWWebckYWcUoZUjfXCoXegUUaoelmXVgYeiVXfgUUFAUBIUUTUUTCDAADBAAAFASDAQAAHAAAAAAAAANAWUUUZUdXXjUWXaeUanUVZbUUUgWaYUWdUZgbZZjWWLATAHUUQNRUAOAAAAAANAAANAAAANAAAUAAAHAPAXbUfeUhUVZUYbdWZUfYUUgfUUaXUUcUbabfcgfoWUJAUAAUTUUEUACAAAAUAAAAADAAAAGJAAAAAATGNBgVUolaWVdYYdgZZjdkdcafaUhWcahcUjoXViemnXdPSUOAHGNUGFAAAAAEBAAGAADAAAAGAAASAAIAACAbobmeYVohZhXfYYcVcdVhahVkgVgjeUooVoolhjboOAAAMPQSTBUACAEAGAAAKAABAAAAACAAAAAAAAAAXYUWUjfXYbhUhXWfdkameYnbbVUaoUUXiXoobogcgdRTUMRJGEAUATAAbAAAABAAAAAAAGOAAAAAAAAAAUjUcZVUYUUmUcUfgfdVZWZbYXYWdoWdgVUXnjbXiWSOAQOPGIUTLAPAAAAAAAEAAAAAAAAAAAAAAAAAAAhhUehUUiUcUUUUUoakZWhoccZhUkmdhbZdYbUoehYLDOJAOUQQOMACADHAGAAABAAJAAASAAAABADABGAaeUYoXUXUUUXUUUUVUWWUlUUXbUbfUUdUbUahYalbKGNTEKUPKLFASAECAAIAAAAAAAAAAAGAAOEAAAAQaWYnhhUgBcZYcUUWbimVbiYUiWUajVbobaUfkeogiUFUANNKRHHHCAAFAAAAAAAAAAGAAAACAAAQAAAIAUZUgXiVkUYUXUWbWabbUdUjUUUUYUlcfUZUbUUgUeRUUAFURAMEGAAAAAAAAAAAAAAAAAAAABAAAAAAFAdXUhbiUkVjcaXUkjVigWcVZUUodoeojoZUeoUhkUXGUICQUUKKBFADAAAAAEAKAAAAAAAHAAAAAAAJAUAZUXofieYjonenUnoWeXZiZUUmogZooooclooZoooZTEOAKHHMDCOQAAAPAAEAGAAAAABACGATAAAAAAOAdUhoVXooiooookooUooaoeXUoomioogonjboooookLITSDLSKQAOAAAAAAAAAIQAAAAAAFDAAAAAAAAAAWUdmbiooZdoeXXkiWYiooioUXooooojoddZUoogonODGEQONURATAAAAAAQAANAACDAAAGAAAAAAAAAAQVUXakmZokViUoYlUfVknjkgihZhkoXjojWWolmVooRlQUTOSUPDRAAHAAAAQAHAAAAAAAAFAAAAAACOAAacXoYfoUdUUUaaboWlhoebUZoUfUoUbojhlhWkZbhUAKECATUJASAAHPAHAOAGAAAKAAAABAAAAAAAIAAfVckoZZYoYgWkkhobohnjUUiohoXniommgaolenjhUAPHETPTUIIFAIAAAAIAUAAIGKAAKAAAAAAAAIAAUUUUaaoUooeUdUVUaoloZcbclYhUlaodYgUVlhofoUAPAAPQRQMNAAAADAABSDAAAAAUAAABAAAAAAISAUVUaobWkiolknZWUookhVolblUfkoidVfXYojnmooVgVoogbZioebflacgomaoomaboXolUmoooagXYUmUUURUUUMMUSHUUUTLFRTURRUUUQUIUURUOOUGULGUigUooooonoioaomonobooXogoookndXoooooomhjAIAAPIAQARAANLGAAAAPQQUAERAAAmNSASGAAAAADihfoooooagkoWcaoooooolojooYldgooohomoheoQQDSIRQRAPKIRUQTUHCRUDAUTUCAGTBASOFKATQOAZXVoookndokoUUWaZooonlooooodkooooYoooaaoURAAKTNBCNCLQUUAIEASQCAUAUOQKSJANTNAAQPRDcoXooooioomoWXZhoiXonoooonfoooZooooonWaoUTKBPAAATHAAAQIACQABAAATANAISOEAAACATAAANWmgooYoknollWVbaooeooooooniooomooooooiWoPOTJODQASICNPIKAKHBUQAEHAHQUCJHAAiARMANAAZojooooloooneUVVoolooookoooooooXooloolZoNACAAAPAOAPAAAAAAAAAAAAARAAAAAAQTAAAAAADAUoYkooioooYoeaalolXlUoonhooojooVoggomVZoCOJEAIIAIAAATQGQNPAPGAATAFQUTAAKAAANATAAAUVUoZaVYlnUkYXWdhohoUckmcoobkcknegoofacjUSUUTUUQUNGSUUURUQTUUEURJUUJSLUUTTUUMUUUUlXUoojjUookYVWaWoXooaZYlokoaobfGnniojdmnQUUASCPUUICAFUDSQUIULCNLARIAUAUIABJDQURUMjlZooihkoogoaVaoonoohooaodcdoefooooilVXZJTNJTFGNUAQAPUNMCJRUAAOUFAUAQCMAAAEQQADNDoagomodoooYoZZbojmoooZoaobkinVgooioonnjcDAAfDAAAAEAAATCARAAUAASUSGEAAOIAAAAAAAADAbofocgWookYhXYYcaemUoeoeocaWeUZdololWogkRUOUUTUQGTUATRSISFPUALCUPUURKUUMBGALSUOUQWWUkaUUlofUUUYaUXanjiaWdhUbjUZUXemniXjoiUUUUUOUUUUUUUUUUQHUUUUUUPUUSUUPUUUTUUUMUOgbaoooikoooiXZaoonaonooklfYoaonojkooonokKTRHBDhHSATNARAASAAAAAALBKJALLSARHARAIQLAUjooomoonoYoYZZolooooZookWooooooocookonmAQNQAAAADAASAAOAAAAAAOAAAPAAAAAARAAFAAAAPXkYooioojoooWUboYZfoooonioooomiWokojboheIUEJAAPAFADHAOHABSQCDAAPJLAHAREANNAHAAAAGUUWojZmZaoeoXZXhaaXmgnmdUefoVeihXooaZhWcUUUUUOOUUURTSUUUUUUPOUUUUURUORUUFREUMRUUSdbUooohmoodoVUYnoogfnooomoiohoahoooehlioUUJPNOJAAHRJAUALUHPEASPUIGSAIAUUAABOPSUUFkonoooooooWohYjoonUneaooonojihooVomlemWoUNRPQNIAKAJTANFASRSGRAHKTCSAUTPEILPBIALNDokkoojomooojhbYooobmdooohooooammnDoVWimoTERQUJGPIAFLCQSAAIRKAUUOKATQBAALAPKADDOAEXmioXjoYoboooVlooVgbdoionoUVoaooVHoVokooSUNBQLJOJOAAOUTAOAAHAAJQJDOMACAKAABPABATDZeZoofmeioooooooooooUoooooooohooooifjmWZQUADTJEKKUAAAFHATRAAOAARCHHTUAAAAQAAAAAAEYoZYoUdimaomolooooooOooolohobmYXoaZiXgoWOUUOUEGSUSAARKDATRARFAHPOELBAPASCGHAAAAAEdnooooooNhooolofoYVooooooXYoXjoooVWoXoonAAPAAPAAFAAAAAQAAAABAAUJAAARAAAAAAANAAAAAeVbohohhFfefocjUficoooZejnnkdUXfejWoooXcPITKNOEDKLDUDTAQRORKTLUUQAQDAFPAGACAPDAAAZZboolahclooUooflooWonmoonKoXDnclkaGYKbYMHAAMDKGHOJCREDBADBHAADRDAFAQMIAAAGAOCAAGUWWolbVUZUmhldoiZdghnoYkodUaVcdZZkEoUVUXPUKAUQUUPRUOMUUKDRUUMOORLOSIUURAMNNKMDAJOnaihoooioonUomdooLngWoooXiidXggZfooeoXmnAFKOPAREAGAAAQHEAAAAMEFMJMUPAAAQSIAAGFAASneUboooUaoWUUkUZogbXYNhYjUagnUUjoooUojojSUOAAJPMEIJDAURNEGAARPHSJPGCOONTIREmITHATnlXmooXjoojbYgoZoYboUoolbbXooUUooooooUhZRJOBDIGHAACAOCNCAUAAKCUTDHABABFAAAOSCPHAAdWjfnneUoakooomZjomoIjbWZdUoodUooXooUjboUTULPPRASAAFGLOUALQDSAUUiMQEUMJBAIUNUUGSKhajooYoboooJohfkUofoYiUXooboYoocoWooZmYoRUPTFMQBJSAJFCDNPAIHURUUFFLAIFANDAUDUGAQAeUUonnocoWkeUghoVobokoboifEoZoohhbUooUWgUUUMSUUTOODRULURCNOUUUQUSFNDAAKNTNUAUGATJWZVoKlojoZibXoWlboVjZoooUUUoofkdeYbooXonNRUQMUUUSUNJDKULHAIRUJIUHORNPFUMKRNEUEESOhXoonjoblokljoDnooaooooojohooWcVjboolbooKUOHSFAJIAJAATJEPAACAADAOOOBRSLTAABAIAABTdXloodmUeoaXkeEoZoVmloooobhoaioZooZnVUjhSULGUUUTUNUGUKQHNAUUGIUFIROJKJKTLSUKMLBNHbZnoohXZoooaonoonoXoZVokbooohooooobVgbeoFDCAASFCHAIAAULHAAQAAASHAAKARASGLAFAQNQHAbooaAomoojoooocomnooLnofooooomYUooooancVAAHGSJAAAABCAOAAGDAAADIJBIHAAATAAAPAAAHAAYhUcooYVZekakUWclcVhcmmWojoboZfXWoejUUWUUUUUUUUUQTUUPUUTUUHUUUUUUUUUUUUFUUSUUPUFUofnWogaUonooUbooOXolmYeomooUohlnXYoioUYgUUUUUTPDFMTICTENURRSFFUUUPUJUQMACDImFPOOAlbZloaYaZoollkoWHYfemXooUehncloYdooUoUdiORUSUUOFUOTKAUUUKQONIARUUSULAUICAUBNNROCIUXVJiodUUiiYfhbkmUfUBYokUKcoBgomahYdUcfUSUSLUUPTUUUSEUUUORUUSSHUTUUUAUUUAPUURUFST"}];
var AL="ABCDEFGHIJKLMNOPQRSTUVWXYZabcdefghijklmnopqrstuvwxyz0123456789+/";
for(var i=0;i<P.length;i++){
 var p=P[i];
 var off=document.createElement('canvas');off.width=p.nc;off.height=p.nr;
 var og=off.getContext('2d');var im=og.createImageData(p.nc,p.nr);var d=im.data;
 for(var k=0;k<p.nc*p.nr;k++){
  var v=(AL.indexOf(p.d.charAt(k))-20)/20;
  d[4*k]=v>0?Math.round(v*255):0;d[4*k+1]=v<0?Math.round(-v*255):0;d[4*k+2]=0;d[4*k+3]=255;
 }
 og.putImageData(im,0,0);
 var L=Math.floor(p.x),T=Math.floor(p.y),W=Math.ceil(p.x+p.w)-L,H=Math.ceil(p.y+p.h)-T;
 var c=document.createElement('canvas');c.width=W;c.height=H;
 c.style.left=L+'px';c.style.top=T+'px';
 var g=c.getContext('2d');g.imageSmoothingEnabled=false;
 g.drawImage(off,0,0,p.nc,p.nr,p.x-L,p.y-T,p.w,p.h);
 document.body.insertBefore(c,document.getElementById('dg'));
}
})();
</script>
</body></html>
